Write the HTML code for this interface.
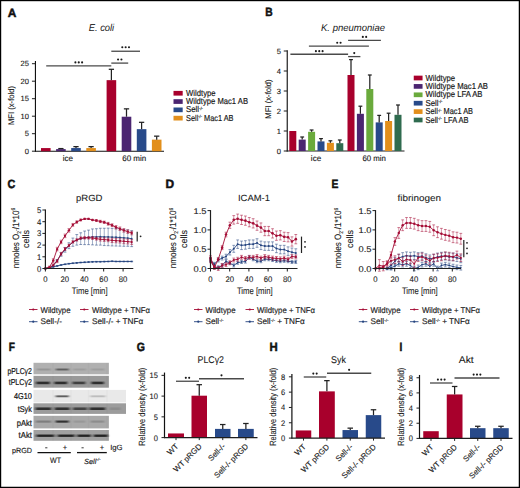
<!DOCTYPE html>
<html><head><meta charset="utf-8"><style>
html,body{margin:0;padding:0;background:#fff;}
body{width:520px;height:488px;overflow:hidden;}
svg{display:block;font-family:"Liberation Sans", sans-serif;}
</style></head><body>
<svg width="520" height="488" viewBox="0 0 520 488" text-rendering="geometricPrecision">
<rect x="0" y="0" width="520" height="488" fill="#fff"/>
<text x="7.80" y="16.80" font-size="12" text-anchor="start" fill="#111" font-weight="bold" stroke="#111" stroke-width="0.5" textLength="8.60" lengthAdjust="spacingAndGlyphs" >A</text>
<text x="88.70" y="30.70" font-size="10" text-anchor="start" fill="#1a1a1a" stroke="#1a1a1a" stroke-width="0.03" font-style="italic" textLength="25.50" lengthAdjust="spacingAndGlyphs" >E. coli</text>
<line x1="35.45" y1="61.00" x2="35.45" y2="151.70" stroke="#111" stroke-width="1.15" />
<line x1="34.95" y1="151.20" x2="164.00" y2="151.20" stroke="#111" stroke-width="1.15" />
<line x1="31.95" y1="151.20" x2="35.45" y2="151.20" stroke="#1e1e1e" stroke-width="1" />
<text x="29.00" y="153.90" font-size="7.6" text-anchor="end" fill="#1a1a1a" stroke="#1a1a1a" stroke-width="0.12" >0</text>
<line x1="31.95" y1="133.70" x2="35.45" y2="133.70" stroke="#1e1e1e" stroke-width="1" />
<text x="29.00" y="136.40" font-size="7.6" text-anchor="end" fill="#1a1a1a" stroke="#1a1a1a" stroke-width="0.12" >5</text>
<line x1="31.95" y1="116.20" x2="35.45" y2="116.20" stroke="#1e1e1e" stroke-width="1" />
<text x="29.00" y="118.90" font-size="7.6" text-anchor="end" fill="#1a1a1a" stroke="#1a1a1a" stroke-width="0.12" >10</text>
<line x1="31.95" y1="98.70" x2="35.45" y2="98.70" stroke="#1e1e1e" stroke-width="1" />
<text x="29.00" y="101.40" font-size="7.6" text-anchor="end" fill="#1a1a1a" stroke="#1a1a1a" stroke-width="0.12" >15</text>
<line x1="31.95" y1="81.20" x2="35.45" y2="81.20" stroke="#1e1e1e" stroke-width="1" />
<text x="29.00" y="83.90" font-size="7.6" text-anchor="end" fill="#1a1a1a" stroke="#1a1a1a" stroke-width="0.12" >20</text>
<line x1="31.95" y1="63.70" x2="35.45" y2="63.70" stroke="#1e1e1e" stroke-width="1" />
<text x="29.00" y="66.40" font-size="7.6" text-anchor="end" fill="#1a1a1a" stroke="#1a1a1a" stroke-width="0.12" >25</text>
<text x="13.80" y="105.50" font-size="8.2" text-anchor="middle" fill="#1a1a1a" stroke="#1a1a1a" stroke-width="0.15" textLength="39.00" lengthAdjust="spacingAndGlyphs" transform="rotate(-90 13.80 105.50)" >MFI (x-fold)</text>
<rect x="41.00" y="148.08" width="9.60" height="3.12" fill="#a8002c" />
<rect x="56.10" y="149.10" width="9.60" height="2.10" fill="#4b2571" />
<line x1="60.90" y1="149.10" x2="60.90" y2="148.57" stroke="#222" stroke-width="1.25" />
<line x1="58.26" y1="148.57" x2="63.54" y2="148.57" stroke="#222" stroke-width="1.25" />
<rect x="71.20" y="148.05" width="9.60" height="3.15" fill="#284a8a" />
<line x1="76.00" y1="148.05" x2="76.00" y2="146.65" stroke="#222" stroke-width="1.25" />
<line x1="73.36" y1="146.65" x2="78.64" y2="146.65" stroke="#222" stroke-width="1.25" />
<rect x="86.30" y="148.05" width="9.60" height="3.15" fill="#e28f1c" />
<line x1="91.10" y1="148.05" x2="91.10" y2="146.65" stroke="#222" stroke-width="1.25" />
<line x1="88.46" y1="146.65" x2="93.74" y2="146.65" stroke="#222" stroke-width="1.25" />
<rect x="106.60" y="80.15" width="9.60" height="71.05" fill="#a8002c" />
<line x1="111.40" y1="80.15" x2="111.40" y2="69.30" stroke="#222" stroke-width="1.25" />
<line x1="108.76" y1="69.30" x2="114.04" y2="69.30" stroke="#222" stroke-width="1.25" />
<rect x="121.70" y="116.72" width="9.60" height="34.47" fill="#4b2571" />
<line x1="126.50" y1="116.72" x2="126.50" y2="108.85" stroke="#222" stroke-width="1.25" />
<line x1="123.86" y1="108.85" x2="129.14" y2="108.85" stroke="#222" stroke-width="1.25" />
<rect x="136.80" y="129.15" width="9.60" height="22.05" fill="#284a8a" />
<line x1="141.60" y1="129.15" x2="141.60" y2="122.32" stroke="#222" stroke-width="1.25" />
<line x1="138.96" y1="122.32" x2="144.24" y2="122.32" stroke="#222" stroke-width="1.25" />
<rect x="151.90" y="139.65" width="9.60" height="11.55" fill="#e28f1c" />
<line x1="156.70" y1="139.65" x2="156.70" y2="136.15" stroke="#222" stroke-width="1.25" />
<line x1="154.06" y1="136.15" x2="159.34" y2="136.15" stroke="#222" stroke-width="1.25" />
<text x="67.80" y="161.00" font-size="8" text-anchor="middle" fill="#1a1a1a" stroke="#1a1a1a" stroke-width="0.15" textLength="10.30" lengthAdjust="spacingAndGlyphs" >ice</text>
<text x="134.20" y="161.00" font-size="8" text-anchor="middle" fill="#1a1a1a" stroke="#1a1a1a" stroke-width="0.15" textLength="24.00" lengthAdjust="spacingAndGlyphs" >60 min</text>
<line x1="46.20" y1="65.80" x2="111.30" y2="65.80" stroke="#4a4a4a" stroke-width="1.3" />
<circle cx="75.40" cy="62.40" r="1.05" fill="#1a1a1a"/>
<circle cx="78.75" cy="62.40" r="1.05" fill="#1a1a1a"/>
<circle cx="82.10" cy="62.40" r="1.05" fill="#1a1a1a"/>
<line x1="111.30" y1="63.10" x2="128.20" y2="63.10" stroke="#4a4a4a" stroke-width="1.3" />
<circle cx="118.08" cy="59.50" r="1.05" fill="#1a1a1a"/>
<circle cx="121.42" cy="59.50" r="1.05" fill="#1a1a1a"/>
<line x1="111.30" y1="51.25" x2="140.00" y2="51.25" stroke="#4a4a4a" stroke-width="1.3" />
<circle cx="122.30" cy="47.25" r="1.05" fill="#1a1a1a"/>
<circle cx="125.65" cy="47.25" r="1.05" fill="#1a1a1a"/>
<circle cx="129.00" cy="47.25" r="1.05" fill="#1a1a1a"/>
<rect x="173.50" y="90.90" width="9.20" height="4.70" fill="#a8002c" />
<text x="186.00" y="95.80" font-size="8.6" text-anchor="start" fill="#1a1a1a" stroke="#1a1a1a" stroke-width="0.18" textLength="29.60" lengthAdjust="spacingAndGlyphs" >Wildtype</text>
<rect x="173.50" y="99.20" width="9.20" height="4.70" fill="#4b2571" />
<text x="186.00" y="104.10" font-size="8.6" text-anchor="start" fill="#1a1a1a" stroke="#1a1a1a" stroke-width="0.18" textLength="62.00" lengthAdjust="spacingAndGlyphs" >Wildtype Mac1 AB</text>
<rect x="173.50" y="107.50" width="9.20" height="4.70" fill="#284a8a" />
<text x="186.00" y="112.40" font-size="8.6" text-anchor="start" fill="#1a1a1a" stroke="#1a1a1a" stroke-width="0.18" textLength="17.00" lengthAdjust="spacingAndGlyphs" >Sell<tspan font-size="4.5" dy="-2.5">-/-</tspan></text>
<rect x="173.50" y="115.80" width="9.20" height="4.70" fill="#e28f1c" />
<text x="186.00" y="120.70" font-size="8.6" text-anchor="start" fill="#1a1a1a" stroke="#1a1a1a" stroke-width="0.18" textLength="47.50" lengthAdjust="spacingAndGlyphs" >Sell<tspan font-size="4.5" dy="-2.5">-/-</tspan><tspan dy="2.5"> Mac1 AB</tspan></text>
<text x="265.30" y="16.30" font-size="12" text-anchor="start" fill="#111" font-weight="bold" stroke="#111" stroke-width="0.5" textLength="7.40" lengthAdjust="spacingAndGlyphs" >B</text>
<text x="321.00" y="30.50" font-size="9.8" text-anchor="start" fill="#1a1a1a" stroke="#1a1a1a" stroke-width="0.03" font-style="italic" textLength="64.00" lengthAdjust="spacingAndGlyphs" >K. pneumoniae</text>
<line x1="287.25" y1="50.20" x2="287.25" y2="151.50" stroke="#1e1e1e" stroke-width="1.2" />
<line x1="286.75" y1="151.00" x2="404.50" y2="151.00" stroke="#1e1e1e" stroke-width="1.2" />
<line x1="283.75" y1="151.00" x2="287.25" y2="151.00" stroke="#1e1e1e" stroke-width="1" />
<text x="281.00" y="153.70" font-size="7.6" text-anchor="end" fill="#1a1a1a" stroke="#1a1a1a" stroke-width="0.12" >0</text>
<line x1="283.75" y1="131.00" x2="287.25" y2="131.00" stroke="#1e1e1e" stroke-width="1" />
<text x="281.00" y="133.70" font-size="7.6" text-anchor="end" fill="#1a1a1a" stroke="#1a1a1a" stroke-width="0.12" >1</text>
<line x1="283.75" y1="111.00" x2="287.25" y2="111.00" stroke="#1e1e1e" stroke-width="1" />
<text x="281.00" y="113.70" font-size="7.6" text-anchor="end" fill="#1a1a1a" stroke="#1a1a1a" stroke-width="0.12" >2</text>
<line x1="283.75" y1="91.00" x2="287.25" y2="91.00" stroke="#1e1e1e" stroke-width="1" />
<text x="281.00" y="93.70" font-size="7.6" text-anchor="end" fill="#1a1a1a" stroke="#1a1a1a" stroke-width="0.12" >3</text>
<line x1="283.75" y1="71.00" x2="287.25" y2="71.00" stroke="#1e1e1e" stroke-width="1" />
<text x="281.00" y="73.70" font-size="7.6" text-anchor="end" fill="#1a1a1a" stroke="#1a1a1a" stroke-width="0.12" >4</text>
<line x1="283.75" y1="51.00" x2="287.25" y2="51.00" stroke="#1e1e1e" stroke-width="1" />
<text x="281.00" y="53.70" font-size="7.6" text-anchor="end" fill="#1a1a1a" stroke="#1a1a1a" stroke-width="0.12" >5</text>
<text x="270.80" y="99.00" font-size="8.2" text-anchor="middle" fill="#1a1a1a" stroke="#1a1a1a" stroke-width="0.15" textLength="39.40" lengthAdjust="spacingAndGlyphs" transform="rotate(-90 270.80 99.00)" >MFI (x-fold)</text>
<rect x="289.30" y="131.00" width="7.00" height="20.00" fill="#a8002c" />
<rect x="298.70" y="139.60" width="7.00" height="11.40" fill="#4b2571" />
<line x1="302.20" y1="139.60" x2="302.20" y2="137.00" stroke="#222" stroke-width="1.25" />
<line x1="300.27" y1="137.00" x2="304.12" y2="137.00" stroke="#222" stroke-width="1.25" />
<rect x="308.10" y="131.80" width="7.00" height="19.20" fill="#6aaa3c" />
<line x1="311.60" y1="131.80" x2="311.60" y2="130.00" stroke="#222" stroke-width="1.25" />
<line x1="309.68" y1="130.00" x2="313.53" y2="130.00" stroke="#222" stroke-width="1.25" />
<rect x="317.50" y="141.40" width="7.00" height="9.60" fill="#284a8a" />
<line x1="321.00" y1="141.40" x2="321.00" y2="138.60" stroke="#222" stroke-width="1.25" />
<line x1="319.07" y1="138.60" x2="322.93" y2="138.60" stroke="#222" stroke-width="1.25" />
<rect x="326.90" y="142.80" width="7.00" height="8.20" fill="#e28f1c" />
<line x1="330.40" y1="142.80" x2="330.40" y2="140.80" stroke="#222" stroke-width="1.25" />
<line x1="328.48" y1="140.80" x2="332.33" y2="140.80" stroke="#222" stroke-width="1.25" />
<rect x="336.30" y="143.20" width="7.00" height="7.80" fill="#2f6b4f" />
<line x1="339.80" y1="143.20" x2="339.80" y2="140.00" stroke="#222" stroke-width="1.25" />
<line x1="337.88" y1="140.00" x2="341.73" y2="140.00" stroke="#222" stroke-width="1.25" />
<rect x="347.50" y="75.00" width="7.00" height="76.00" fill="#a8002c" />
<line x1="351.00" y1="75.00" x2="351.00" y2="59.60" stroke="#222" stroke-width="1.25" />
<line x1="349.07" y1="59.60" x2="352.93" y2="59.60" stroke="#222" stroke-width="1.25" />
<rect x="356.90" y="113.80" width="7.00" height="37.20" fill="#4b2571" />
<line x1="360.40" y1="113.80" x2="360.40" y2="106.20" stroke="#222" stroke-width="1.25" />
<line x1="358.47" y1="106.20" x2="362.32" y2="106.20" stroke="#222" stroke-width="1.25" />
<rect x="366.30" y="89.00" width="7.00" height="62.00" fill="#6aaa3c" />
<line x1="369.80" y1="89.00" x2="369.80" y2="75.00" stroke="#222" stroke-width="1.25" />
<line x1="367.88" y1="75.00" x2="371.73" y2="75.00" stroke="#222" stroke-width="1.25" />
<rect x="375.70" y="122.40" width="7.00" height="28.60" fill="#284a8a" />
<line x1="379.20" y1="122.40" x2="379.20" y2="115.40" stroke="#222" stroke-width="1.25" />
<line x1="377.27" y1="115.40" x2="381.12" y2="115.40" stroke="#222" stroke-width="1.25" />
<rect x="385.10" y="121.00" width="7.00" height="30.00" fill="#e28f1c" />
<line x1="388.60" y1="121.00" x2="388.60" y2="113.20" stroke="#222" stroke-width="1.25" />
<line x1="386.68" y1="113.20" x2="390.53" y2="113.20" stroke="#222" stroke-width="1.25" />
<rect x="394.50" y="114.80" width="7.00" height="36.20" fill="#2f6b4f" />
<line x1="398.00" y1="114.80" x2="398.00" y2="105.00" stroke="#222" stroke-width="1.25" />
<line x1="396.07" y1="105.00" x2="399.93" y2="105.00" stroke="#222" stroke-width="1.25" />
<text x="316.00" y="161.00" font-size="8" text-anchor="middle" fill="#1a1a1a" stroke="#1a1a1a" stroke-width="0.15" textLength="10.30" lengthAdjust="spacingAndGlyphs" >ice</text>
<text x="374.20" y="161.00" font-size="8" text-anchor="middle" fill="#1a1a1a" stroke="#1a1a1a" stroke-width="0.15" textLength="23.50" lengthAdjust="spacingAndGlyphs" >60 min</text>
<line x1="290.40" y1="54.25" x2="348.10" y2="54.25" stroke="#4a4a4a" stroke-width="1.3" />
<circle cx="315.90" cy="51.15" r="1.05" fill="#1a1a1a"/>
<circle cx="319.25" cy="51.15" r="1.05" fill="#1a1a1a"/>
<circle cx="322.60" cy="51.15" r="1.05" fill="#1a1a1a"/>
<line x1="348.10" y1="56.60" x2="360.40" y2="56.60" stroke="#4a4a4a" stroke-width="1.3" />
<circle cx="354.25" cy="53.10" r="1.05" fill="#1a1a1a"/>
<line x1="308.90" y1="46.20" x2="368.90" y2="46.20" stroke="#4a4a4a" stroke-width="1.3" />
<circle cx="337.22" cy="42.70" r="1.05" fill="#1a1a1a"/>
<circle cx="340.57" cy="42.70" r="1.05" fill="#1a1a1a"/>
<line x1="348.10" y1="40.40" x2="380.90" y2="40.40" stroke="#4a4a4a" stroke-width="1.3" />
<circle cx="362.82" cy="36.90" r="1.05" fill="#1a1a1a"/>
<circle cx="366.18" cy="36.90" r="1.05" fill="#1a1a1a"/>
<rect x="413.75" y="75.65" width="8.80" height="4.70" fill="#a8002c" />
<text x="425.50" y="80.55" font-size="8.6" text-anchor="start" fill="#1a1a1a" stroke="#1a1a1a" stroke-width="0.18" textLength="29.60" lengthAdjust="spacingAndGlyphs" >Wildtype</text>
<rect x="413.75" y="84.05" width="8.80" height="4.70" fill="#4b2571" />
<text x="425.50" y="88.95" font-size="8.6" text-anchor="start" fill="#1a1a1a" stroke="#1a1a1a" stroke-width="0.18" textLength="62.50" lengthAdjust="spacingAndGlyphs" >Wildtype Mac1 AB</text>
<rect x="413.75" y="92.45" width="8.80" height="4.70" fill="#6aaa3c" />
<text x="425.50" y="97.35" font-size="8.6" text-anchor="start" fill="#1a1a1a" stroke="#1a1a1a" stroke-width="0.18" textLength="57.00" lengthAdjust="spacingAndGlyphs" >Wildtype LFA AB</text>
<rect x="413.75" y="100.85" width="8.80" height="4.70" fill="#284a8a" />
<text x="425.50" y="105.75" font-size="8.6" text-anchor="start" fill="#1a1a1a" stroke="#1a1a1a" stroke-width="0.18" textLength="17.00" lengthAdjust="spacingAndGlyphs" >Sell<tspan font-size="4.5" dy="-2.5">-/-</tspan></text>
<rect x="413.75" y="109.25" width="8.80" height="4.70" fill="#e28f1c" />
<text x="425.50" y="114.15" font-size="8.6" text-anchor="start" fill="#1a1a1a" stroke="#1a1a1a" stroke-width="0.18" textLength="47.50" lengthAdjust="spacingAndGlyphs" >Sell<tspan font-size="4.5" dy="-2.5">-/-</tspan><tspan dy="2.5"> Mac1 AB</tspan></text>
<rect x="413.75" y="117.65" width="8.80" height="4.70" fill="#2f6b4f" />
<text x="425.50" y="122.55" font-size="8.6" text-anchor="start" fill="#1a1a1a" stroke="#1a1a1a" stroke-width="0.18" textLength="43.00" lengthAdjust="spacingAndGlyphs" >Sell<tspan font-size="4.5" dy="-2.5">-/-</tspan><tspan dy="2.5"> LFA AB</tspan></text>
<text x="7.40" y="187.60" font-size="12" text-anchor="start" fill="#111" font-weight="bold" stroke="#111" stroke-width="0.5" textLength="7.80" lengthAdjust="spacingAndGlyphs" >C</text>
<text x="76.00" y="200.90" font-size="9.0" text-anchor="start" fill="#1a1a1a" stroke="#1a1a1a" stroke-width="0.08" textLength="26.50" lengthAdjust="spacingAndGlyphs" >pRGD</text>
<line x1="53.25" y1="265.22" x2="53.25" y2="265.93" stroke="#24437f" stroke-width="0.8" stroke-opacity="0.55"/>
<line x1="51.85" y1="265.22" x2="54.65" y2="265.22" stroke="#24437f" stroke-width="0.9" stroke-opacity="0.6"/>
<line x1="51.85" y1="265.93" x2="54.65" y2="265.93" stroke="#24437f" stroke-width="0.9" stroke-opacity="0.6"/>
<line x1="57.17" y1="259.61" x2="57.17" y2="261.01" stroke="#24437f" stroke-width="0.8" stroke-opacity="0.55"/>
<line x1="55.77" y1="259.61" x2="58.57" y2="259.61" stroke="#24437f" stroke-width="0.9" stroke-opacity="0.6"/>
<line x1="55.77" y1="261.01" x2="58.57" y2="261.01" stroke="#24437f" stroke-width="0.9" stroke-opacity="0.6"/>
<line x1="61.09" y1="252.71" x2="61.09" y2="256.22" stroke="#24437f" stroke-width="0.8" stroke-opacity="0.55"/>
<line x1="59.69" y1="252.71" x2="62.49" y2="252.71" stroke="#24437f" stroke-width="0.9" stroke-opacity="0.6"/>
<line x1="59.69" y1="256.22" x2="62.49" y2="256.22" stroke="#24437f" stroke-width="0.9" stroke-opacity="0.6"/>
<line x1="65.01" y1="247.44" x2="65.01" y2="252.12" stroke="#24437f" stroke-width="0.8" stroke-opacity="0.55"/>
<line x1="63.61" y1="247.44" x2="66.41" y2="247.44" stroke="#24437f" stroke-width="0.9" stroke-opacity="0.6"/>
<line x1="63.61" y1="252.12" x2="66.41" y2="252.12" stroke="#24437f" stroke-width="0.9" stroke-opacity="0.6"/>
<line x1="68.94" y1="242.76" x2="68.94" y2="248.61" stroke="#24437f" stroke-width="0.8" stroke-opacity="0.55"/>
<line x1="67.54" y1="242.76" x2="70.34" y2="242.76" stroke="#24437f" stroke-width="0.9" stroke-opacity="0.6"/>
<line x1="67.54" y1="248.61" x2="70.34" y2="248.61" stroke="#24437f" stroke-width="0.9" stroke-opacity="0.6"/>
<line x1="72.86" y1="238.08" x2="72.86" y2="246.27" stroke="#24437f" stroke-width="0.8" stroke-opacity="0.55"/>
<line x1="71.46" y1="238.08" x2="74.26" y2="238.08" stroke="#24437f" stroke-width="0.9" stroke-opacity="0.6"/>
<line x1="71.46" y1="246.27" x2="74.26" y2="246.27" stroke="#24437f" stroke-width="0.9" stroke-opacity="0.6"/>
<line x1="76.78" y1="234.57" x2="76.78" y2="245.10" stroke="#24437f" stroke-width="0.8" stroke-opacity="0.55"/>
<line x1="75.38" y1="234.57" x2="78.18" y2="234.57" stroke="#24437f" stroke-width="0.9" stroke-opacity="0.6"/>
<line x1="75.38" y1="245.10" x2="78.18" y2="245.10" stroke="#24437f" stroke-width="0.9" stroke-opacity="0.6"/>
<line x1="80.71" y1="232.81" x2="80.71" y2="244.51" stroke="#24437f" stroke-width="0.8" stroke-opacity="0.55"/>
<line x1="79.31" y1="232.81" x2="82.11" y2="232.81" stroke="#24437f" stroke-width="0.9" stroke-opacity="0.6"/>
<line x1="79.31" y1="244.51" x2="82.11" y2="244.51" stroke="#24437f" stroke-width="0.9" stroke-opacity="0.6"/>
<line x1="84.63" y1="231.06" x2="84.63" y2="244.63" stroke="#24437f" stroke-width="0.8" stroke-opacity="0.55"/>
<line x1="83.23" y1="231.06" x2="86.03" y2="231.06" stroke="#24437f" stroke-width="0.9" stroke-opacity="0.6"/>
<line x1="83.23" y1="244.63" x2="86.03" y2="244.63" stroke="#24437f" stroke-width="0.9" stroke-opacity="0.6"/>
<line x1="88.55" y1="230.12" x2="88.55" y2="244.63" stroke="#24437f" stroke-width="0.8" stroke-opacity="0.55"/>
<line x1="87.15" y1="230.12" x2="89.95" y2="230.12" stroke="#24437f" stroke-width="0.9" stroke-opacity="0.6"/>
<line x1="87.15" y1="244.63" x2="89.95" y2="244.63" stroke="#24437f" stroke-width="0.9" stroke-opacity="0.6"/>
<line x1="92.47" y1="228.95" x2="92.47" y2="244.87" stroke="#24437f" stroke-width="0.8" stroke-opacity="0.55"/>
<line x1="91.07" y1="228.95" x2="93.87" y2="228.95" stroke="#24437f" stroke-width="0.9" stroke-opacity="0.6"/>
<line x1="91.07" y1="244.87" x2="93.87" y2="244.87" stroke="#24437f" stroke-width="0.9" stroke-opacity="0.6"/>
<line x1="96.40" y1="228.72" x2="96.40" y2="245.10" stroke="#24437f" stroke-width="0.8" stroke-opacity="0.55"/>
<line x1="95.00" y1="228.72" x2="97.80" y2="228.72" stroke="#24437f" stroke-width="0.9" stroke-opacity="0.6"/>
<line x1="95.00" y1="245.10" x2="97.80" y2="245.10" stroke="#24437f" stroke-width="0.9" stroke-opacity="0.6"/>
<line x1="100.32" y1="228.25" x2="100.32" y2="245.10" stroke="#24437f" stroke-width="0.8" stroke-opacity="0.55"/>
<line x1="98.92" y1="228.25" x2="101.72" y2="228.25" stroke="#24437f" stroke-width="0.9" stroke-opacity="0.6"/>
<line x1="98.92" y1="245.10" x2="101.72" y2="245.10" stroke="#24437f" stroke-width="0.9" stroke-opacity="0.6"/>
<line x1="104.24" y1="228.25" x2="104.24" y2="245.57" stroke="#24437f" stroke-width="0.8" stroke-opacity="0.55"/>
<line x1="102.84" y1="228.25" x2="105.64" y2="228.25" stroke="#24437f" stroke-width="0.9" stroke-opacity="0.6"/>
<line x1="102.84" y1="245.57" x2="105.64" y2="245.57" stroke="#24437f" stroke-width="0.9" stroke-opacity="0.6"/>
<line x1="108.17" y1="228.13" x2="108.17" y2="245.69" stroke="#24437f" stroke-width="0.8" stroke-opacity="0.55"/>
<line x1="106.77" y1="228.13" x2="109.57" y2="228.13" stroke="#24437f" stroke-width="0.9" stroke-opacity="0.6"/>
<line x1="106.77" y1="245.69" x2="109.57" y2="245.69" stroke="#24437f" stroke-width="0.9" stroke-opacity="0.6"/>
<line x1="112.09" y1="228.37" x2="112.09" y2="245.92" stroke="#24437f" stroke-width="0.8" stroke-opacity="0.55"/>
<line x1="110.69" y1="228.37" x2="113.49" y2="228.37" stroke="#24437f" stroke-width="0.9" stroke-opacity="0.6"/>
<line x1="110.69" y1="245.92" x2="113.49" y2="245.92" stroke="#24437f" stroke-width="0.9" stroke-opacity="0.6"/>
<line x1="116.01" y1="228.49" x2="116.01" y2="246.04" stroke="#24437f" stroke-width="0.8" stroke-opacity="0.55"/>
<line x1="114.61" y1="228.49" x2="117.41" y2="228.49" stroke="#24437f" stroke-width="0.9" stroke-opacity="0.6"/>
<line x1="114.61" y1="246.04" x2="117.41" y2="246.04" stroke="#24437f" stroke-width="0.9" stroke-opacity="0.6"/>
<line x1="119.93" y1="228.84" x2="119.93" y2="246.15" stroke="#24437f" stroke-width="0.8" stroke-opacity="0.55"/>
<line x1="118.53" y1="228.84" x2="121.33" y2="228.84" stroke="#24437f" stroke-width="0.9" stroke-opacity="0.6"/>
<line x1="118.53" y1="246.15" x2="121.33" y2="246.15" stroke="#24437f" stroke-width="0.9" stroke-opacity="0.6"/>
<line x1="123.86" y1="229.42" x2="123.86" y2="246.27" stroke="#24437f" stroke-width="0.8" stroke-opacity="0.55"/>
<line x1="122.46" y1="229.42" x2="125.26" y2="229.42" stroke="#24437f" stroke-width="0.9" stroke-opacity="0.6"/>
<line x1="122.46" y1="246.27" x2="125.26" y2="246.27" stroke="#24437f" stroke-width="0.9" stroke-opacity="0.6"/>
<line x1="127.78" y1="229.89" x2="127.78" y2="246.27" stroke="#24437f" stroke-width="0.8" stroke-opacity="0.55"/>
<line x1="126.38" y1="229.89" x2="129.18" y2="229.89" stroke="#24437f" stroke-width="0.9" stroke-opacity="0.6"/>
<line x1="126.38" y1="246.27" x2="129.18" y2="246.27" stroke="#24437f" stroke-width="0.9" stroke-opacity="0.6"/>
<line x1="131.70" y1="230.71" x2="131.70" y2="246.62" stroke="#24437f" stroke-width="0.8" stroke-opacity="0.55"/>
<line x1="130.30" y1="230.71" x2="133.10" y2="230.71" stroke="#24437f" stroke-width="0.9" stroke-opacity="0.6"/>
<line x1="130.30" y1="246.62" x2="133.10" y2="246.62" stroke="#24437f" stroke-width="0.9" stroke-opacity="0.6"/>
<path d="M45.40,268.50 L49.32,267.92 L53.25,265.57 L57.17,260.31 L61.09,254.46 L65.01,249.78 L68.94,245.69 L72.86,242.18 L76.78,239.84 L80.71,238.66 L84.63,237.85 L88.55,237.38 L92.47,236.91 L96.40,236.91 L100.32,236.68 L104.24,236.91 L108.17,236.91 L112.09,237.14 L116.01,237.26 L119.93,237.50 L123.86,237.85 L127.78,238.08 L131.70,238.66" fill="none" stroke="#24437f" stroke-width="0.9"/>
<circle cx="45.40" cy="268.50" r="0.9" fill="#24437f"/>
<circle cx="49.32" cy="267.92" r="0.9" fill="#24437f"/>
<circle cx="53.25" cy="265.57" r="0.9" fill="#24437f"/>
<circle cx="57.17" cy="260.31" r="0.9" fill="#24437f"/>
<circle cx="61.09" cy="254.46" r="0.9" fill="#24437f"/>
<circle cx="65.01" cy="249.78" r="0.9" fill="#24437f"/>
<circle cx="68.94" cy="245.69" r="0.9" fill="#24437f"/>
<circle cx="72.86" cy="242.18" r="0.9" fill="#24437f"/>
<circle cx="76.78" cy="239.84" r="0.9" fill="#24437f"/>
<circle cx="80.71" cy="238.66" r="0.9" fill="#24437f"/>
<circle cx="84.63" cy="237.85" r="0.9" fill="#24437f"/>
<circle cx="88.55" cy="237.38" r="0.9" fill="#24437f"/>
<circle cx="92.47" cy="236.91" r="0.9" fill="#24437f"/>
<circle cx="96.40" cy="236.91" r="0.9" fill="#24437f"/>
<circle cx="100.32" cy="236.68" r="0.9" fill="#24437f"/>
<circle cx="104.24" cy="236.91" r="0.9" fill="#24437f"/>
<circle cx="108.17" cy="236.91" r="0.9" fill="#24437f"/>
<circle cx="112.09" cy="237.14" r="0.9" fill="#24437f"/>
<circle cx="116.01" cy="237.26" r="0.9" fill="#24437f"/>
<circle cx="119.93" cy="237.50" r="0.9" fill="#24437f"/>
<circle cx="123.86" cy="237.85" r="0.9" fill="#24437f"/>
<circle cx="127.78" cy="238.08" r="0.9" fill="#24437f"/>
<circle cx="131.70" cy="238.66" r="0.9" fill="#24437f"/>
<line x1="45.40" y1="268.15" x2="45.40" y2="268.85" stroke="#24437f" stroke-width="0.8" stroke-opacity="0.55"/>
<line x1="44.00" y1="268.15" x2="46.80" y2="268.15" stroke="#24437f" stroke-width="0.9" stroke-opacity="0.6"/>
<line x1="44.00" y1="268.85" x2="46.80" y2="268.85" stroke="#24437f" stroke-width="0.9" stroke-opacity="0.6"/>
<line x1="49.32" y1="267.45" x2="49.32" y2="268.15" stroke="#24437f" stroke-width="0.8" stroke-opacity="0.55"/>
<line x1="47.92" y1="267.45" x2="50.72" y2="267.45" stroke="#24437f" stroke-width="0.9" stroke-opacity="0.6"/>
<line x1="47.92" y1="268.15" x2="50.72" y2="268.15" stroke="#24437f" stroke-width="0.9" stroke-opacity="0.6"/>
<line x1="53.25" y1="266.51" x2="53.25" y2="267.21" stroke="#24437f" stroke-width="0.8" stroke-opacity="0.55"/>
<line x1="51.85" y1="266.51" x2="54.65" y2="266.51" stroke="#24437f" stroke-width="0.9" stroke-opacity="0.6"/>
<line x1="51.85" y1="267.21" x2="54.65" y2="267.21" stroke="#24437f" stroke-width="0.9" stroke-opacity="0.6"/>
<line x1="57.17" y1="265.57" x2="57.17" y2="266.28" stroke="#24437f" stroke-width="0.8" stroke-opacity="0.55"/>
<line x1="55.77" y1="265.57" x2="58.57" y2="265.57" stroke="#24437f" stroke-width="0.9" stroke-opacity="0.6"/>
<line x1="55.77" y1="266.28" x2="58.57" y2="266.28" stroke="#24437f" stroke-width="0.9" stroke-opacity="0.6"/>
<line x1="61.09" y1="264.64" x2="61.09" y2="265.34" stroke="#24437f" stroke-width="0.8" stroke-opacity="0.55"/>
<line x1="59.69" y1="264.64" x2="62.49" y2="264.64" stroke="#24437f" stroke-width="0.9" stroke-opacity="0.6"/>
<line x1="59.69" y1="265.34" x2="62.49" y2="265.34" stroke="#24437f" stroke-width="0.9" stroke-opacity="0.6"/>
<line x1="65.01" y1="263.94" x2="65.01" y2="264.64" stroke="#24437f" stroke-width="0.8" stroke-opacity="0.55"/>
<line x1="63.61" y1="263.94" x2="66.41" y2="263.94" stroke="#24437f" stroke-width="0.9" stroke-opacity="0.6"/>
<line x1="63.61" y1="264.64" x2="66.41" y2="264.64" stroke="#24437f" stroke-width="0.9" stroke-opacity="0.6"/>
<line x1="68.94" y1="263.35" x2="68.94" y2="264.05" stroke="#24437f" stroke-width="0.8" stroke-opacity="0.55"/>
<line x1="67.54" y1="263.35" x2="70.34" y2="263.35" stroke="#24437f" stroke-width="0.9" stroke-opacity="0.6"/>
<line x1="67.54" y1="264.05" x2="70.34" y2="264.05" stroke="#24437f" stroke-width="0.9" stroke-opacity="0.6"/>
<line x1="72.86" y1="262.88" x2="72.86" y2="263.59" stroke="#24437f" stroke-width="0.8" stroke-opacity="0.55"/>
<line x1="71.46" y1="262.88" x2="74.26" y2="262.88" stroke="#24437f" stroke-width="0.9" stroke-opacity="0.6"/>
<line x1="71.46" y1="263.59" x2="74.26" y2="263.59" stroke="#24437f" stroke-width="0.9" stroke-opacity="0.6"/>
<line x1="76.78" y1="262.53" x2="76.78" y2="263.24" stroke="#24437f" stroke-width="0.8" stroke-opacity="0.55"/>
<line x1="75.38" y1="262.53" x2="78.18" y2="262.53" stroke="#24437f" stroke-width="0.9" stroke-opacity="0.6"/>
<line x1="75.38" y1="263.24" x2="78.18" y2="263.24" stroke="#24437f" stroke-width="0.9" stroke-opacity="0.6"/>
<line x1="80.71" y1="262.18" x2="80.71" y2="262.88" stroke="#24437f" stroke-width="0.8" stroke-opacity="0.55"/>
<line x1="79.31" y1="262.18" x2="82.11" y2="262.18" stroke="#24437f" stroke-width="0.9" stroke-opacity="0.6"/>
<line x1="79.31" y1="262.88" x2="82.11" y2="262.88" stroke="#24437f" stroke-width="0.9" stroke-opacity="0.6"/>
<line x1="84.63" y1="261.95" x2="84.63" y2="262.65" stroke="#24437f" stroke-width="0.8" stroke-opacity="0.55"/>
<line x1="83.23" y1="261.95" x2="86.03" y2="261.95" stroke="#24437f" stroke-width="0.9" stroke-opacity="0.6"/>
<line x1="83.23" y1="262.65" x2="86.03" y2="262.65" stroke="#24437f" stroke-width="0.9" stroke-opacity="0.6"/>
<line x1="88.55" y1="261.71" x2="88.55" y2="262.42" stroke="#24437f" stroke-width="0.8" stroke-opacity="0.55"/>
<line x1="87.15" y1="261.71" x2="89.95" y2="261.71" stroke="#24437f" stroke-width="0.9" stroke-opacity="0.6"/>
<line x1="87.15" y1="262.42" x2="89.95" y2="262.42" stroke="#24437f" stroke-width="0.9" stroke-opacity="0.6"/>
<line x1="92.47" y1="261.48" x2="92.47" y2="262.18" stroke="#24437f" stroke-width="0.8" stroke-opacity="0.55"/>
<line x1="91.07" y1="261.48" x2="93.87" y2="261.48" stroke="#24437f" stroke-width="0.9" stroke-opacity="0.6"/>
<line x1="91.07" y1="262.18" x2="93.87" y2="262.18" stroke="#24437f" stroke-width="0.9" stroke-opacity="0.6"/>
<line x1="96.40" y1="261.36" x2="96.40" y2="262.06" stroke="#24437f" stroke-width="0.8" stroke-opacity="0.55"/>
<line x1="95.00" y1="261.36" x2="97.80" y2="261.36" stroke="#24437f" stroke-width="0.9" stroke-opacity="0.6"/>
<line x1="95.00" y1="262.06" x2="97.80" y2="262.06" stroke="#24437f" stroke-width="0.9" stroke-opacity="0.6"/>
<line x1="100.32" y1="261.36" x2="100.32" y2="262.06" stroke="#24437f" stroke-width="0.8" stroke-opacity="0.55"/>
<line x1="98.92" y1="261.36" x2="101.72" y2="261.36" stroke="#24437f" stroke-width="0.9" stroke-opacity="0.6"/>
<line x1="98.92" y1="262.06" x2="101.72" y2="262.06" stroke="#24437f" stroke-width="0.9" stroke-opacity="0.6"/>
<line x1="104.24" y1="261.25" x2="104.24" y2="261.95" stroke="#24437f" stroke-width="0.8" stroke-opacity="0.55"/>
<line x1="102.84" y1="261.25" x2="105.64" y2="261.25" stroke="#24437f" stroke-width="0.9" stroke-opacity="0.6"/>
<line x1="102.84" y1="261.95" x2="105.64" y2="261.95" stroke="#24437f" stroke-width="0.9" stroke-opacity="0.6"/>
<line x1="108.17" y1="261.13" x2="108.17" y2="261.83" stroke="#24437f" stroke-width="0.8" stroke-opacity="0.55"/>
<line x1="106.77" y1="261.13" x2="109.57" y2="261.13" stroke="#24437f" stroke-width="0.9" stroke-opacity="0.6"/>
<line x1="106.77" y1="261.83" x2="109.57" y2="261.83" stroke="#24437f" stroke-width="0.9" stroke-opacity="0.6"/>
<line x1="112.09" y1="260.89" x2="112.09" y2="261.60" stroke="#24437f" stroke-width="0.8" stroke-opacity="0.55"/>
<line x1="110.69" y1="260.89" x2="113.49" y2="260.89" stroke="#24437f" stroke-width="0.9" stroke-opacity="0.6"/>
<line x1="110.69" y1="261.60" x2="113.49" y2="261.60" stroke="#24437f" stroke-width="0.9" stroke-opacity="0.6"/>
<line x1="116.01" y1="261.13" x2="116.01" y2="261.83" stroke="#24437f" stroke-width="0.8" stroke-opacity="0.55"/>
<line x1="114.61" y1="261.13" x2="117.41" y2="261.13" stroke="#24437f" stroke-width="0.9" stroke-opacity="0.6"/>
<line x1="114.61" y1="261.83" x2="117.41" y2="261.83" stroke="#24437f" stroke-width="0.9" stroke-opacity="0.6"/>
<line x1="119.93" y1="261.13" x2="119.93" y2="261.83" stroke="#24437f" stroke-width="0.8" stroke-opacity="0.55"/>
<line x1="118.53" y1="261.13" x2="121.33" y2="261.13" stroke="#24437f" stroke-width="0.9" stroke-opacity="0.6"/>
<line x1="118.53" y1="261.83" x2="121.33" y2="261.83" stroke="#24437f" stroke-width="0.9" stroke-opacity="0.6"/>
<line x1="123.86" y1="261.13" x2="123.86" y2="261.83" stroke="#24437f" stroke-width="0.8" stroke-opacity="0.55"/>
<line x1="122.46" y1="261.13" x2="125.26" y2="261.13" stroke="#24437f" stroke-width="0.9" stroke-opacity="0.6"/>
<line x1="122.46" y1="261.83" x2="125.26" y2="261.83" stroke="#24437f" stroke-width="0.9" stroke-opacity="0.6"/>
<line x1="127.78" y1="261.13" x2="127.78" y2="261.83" stroke="#24437f" stroke-width="0.8" stroke-opacity="0.55"/>
<line x1="126.38" y1="261.13" x2="129.18" y2="261.13" stroke="#24437f" stroke-width="0.9" stroke-opacity="0.6"/>
<line x1="126.38" y1="261.83" x2="129.18" y2="261.83" stroke="#24437f" stroke-width="0.9" stroke-opacity="0.6"/>
<line x1="131.70" y1="261.13" x2="131.70" y2="261.83" stroke="#24437f" stroke-width="0.8" stroke-opacity="0.55"/>
<line x1="130.30" y1="261.13" x2="133.10" y2="261.13" stroke="#24437f" stroke-width="0.9" stroke-opacity="0.6"/>
<line x1="130.30" y1="261.83" x2="133.10" y2="261.83" stroke="#24437f" stroke-width="0.9" stroke-opacity="0.6"/>
<path d="M45.40,268.50 L49.32,267.80 L53.25,266.86 L57.17,265.93 L61.09,264.99 L65.01,264.29 L68.94,263.70 L72.86,263.24 L76.78,262.88 L80.71,262.53 L84.63,262.30 L88.55,262.06 L92.47,261.83 L96.40,261.71 L100.32,261.71 L104.24,261.60 L108.17,261.48 L112.09,261.25 L116.01,261.48 L119.93,261.48 L123.86,261.48 L127.78,261.48 L131.70,261.48" fill="none" stroke="#24437f" stroke-width="0.9"/>
<circle cx="45.40" cy="268.50" r="0.8" fill="#24437f"/>
<circle cx="49.32" cy="267.80" r="0.8" fill="#24437f"/>
<circle cx="53.25" cy="266.86" r="0.8" fill="#24437f"/>
<circle cx="57.17" cy="265.93" r="0.8" fill="#24437f"/>
<circle cx="61.09" cy="264.99" r="0.8" fill="#24437f"/>
<circle cx="65.01" cy="264.29" r="0.8" fill="#24437f"/>
<circle cx="68.94" cy="263.70" r="0.8" fill="#24437f"/>
<circle cx="72.86" cy="263.24" r="0.8" fill="#24437f"/>
<circle cx="76.78" cy="262.88" r="0.8" fill="#24437f"/>
<circle cx="80.71" cy="262.53" r="0.8" fill="#24437f"/>
<circle cx="84.63" cy="262.30" r="0.8" fill="#24437f"/>
<circle cx="88.55" cy="262.06" r="0.8" fill="#24437f"/>
<circle cx="92.47" cy="261.83" r="0.8" fill="#24437f"/>
<circle cx="96.40" cy="261.71" r="0.8" fill="#24437f"/>
<circle cx="100.32" cy="261.71" r="0.8" fill="#24437f"/>
<circle cx="104.24" cy="261.60" r="0.8" fill="#24437f"/>
<circle cx="108.17" cy="261.48" r="0.8" fill="#24437f"/>
<circle cx="112.09" cy="261.25" r="0.8" fill="#24437f"/>
<circle cx="116.01" cy="261.48" r="0.8" fill="#24437f"/>
<circle cx="119.93" cy="261.48" r="0.8" fill="#24437f"/>
<circle cx="123.86" cy="261.48" r="0.8" fill="#24437f"/>
<circle cx="127.78" cy="261.48" r="0.8" fill="#24437f"/>
<circle cx="131.70" cy="261.48" r="0.8" fill="#24437f"/>
<line x1="49.32" y1="267.33" x2="49.32" y2="268.50" stroke="#a50d36" stroke-width="0.8" stroke-opacity="0.55"/>
<line x1="47.92" y1="267.33" x2="50.72" y2="267.33" stroke="#a50d36" stroke-width="0.9" stroke-opacity="0.6"/>
<line x1="47.92" y1="268.50" x2="50.72" y2="268.50" stroke="#a50d36" stroke-width="0.9" stroke-opacity="0.6"/>
<line x1="53.25" y1="263.82" x2="53.25" y2="266.16" stroke="#a50d36" stroke-width="0.8" stroke-opacity="0.55"/>
<line x1="51.85" y1="263.82" x2="54.65" y2="263.82" stroke="#a50d36" stroke-width="0.9" stroke-opacity="0.6"/>
<line x1="51.85" y1="266.16" x2="54.65" y2="266.16" stroke="#a50d36" stroke-width="0.9" stroke-opacity="0.6"/>
<line x1="57.17" y1="259.84" x2="57.17" y2="262.65" stroke="#a50d36" stroke-width="0.8" stroke-opacity="0.55"/>
<line x1="55.77" y1="259.84" x2="58.57" y2="259.84" stroke="#a50d36" stroke-width="0.9" stroke-opacity="0.6"/>
<line x1="55.77" y1="262.65" x2="58.57" y2="262.65" stroke="#a50d36" stroke-width="0.9" stroke-opacity="0.6"/>
<line x1="61.09" y1="252.35" x2="61.09" y2="255.16" stroke="#a50d36" stroke-width="0.8" stroke-opacity="0.55"/>
<line x1="59.69" y1="252.35" x2="62.49" y2="252.35" stroke="#a50d36" stroke-width="0.9" stroke-opacity="0.6"/>
<line x1="59.69" y1="255.16" x2="62.49" y2="255.16" stroke="#a50d36" stroke-width="0.9" stroke-opacity="0.6"/>
<line x1="65.01" y1="247.56" x2="65.01" y2="250.37" stroke="#a50d36" stroke-width="0.8" stroke-opacity="0.55"/>
<line x1="63.61" y1="247.56" x2="66.41" y2="247.56" stroke="#a50d36" stroke-width="0.9" stroke-opacity="0.6"/>
<line x1="63.61" y1="250.37" x2="66.41" y2="250.37" stroke="#a50d36" stroke-width="0.9" stroke-opacity="0.6"/>
<line x1="68.94" y1="244.28" x2="68.94" y2="246.62" stroke="#a50d36" stroke-width="0.8" stroke-opacity="0.55"/>
<line x1="67.54" y1="244.28" x2="70.34" y2="244.28" stroke="#a50d36" stroke-width="0.9" stroke-opacity="0.6"/>
<line x1="67.54" y1="246.62" x2="70.34" y2="246.62" stroke="#a50d36" stroke-width="0.9" stroke-opacity="0.6"/>
<line x1="72.86" y1="240.77" x2="72.86" y2="243.11" stroke="#a50d36" stroke-width="0.8" stroke-opacity="0.55"/>
<line x1="71.46" y1="240.77" x2="74.26" y2="240.77" stroke="#a50d36" stroke-width="0.9" stroke-opacity="0.6"/>
<line x1="71.46" y1="243.11" x2="74.26" y2="243.11" stroke="#a50d36" stroke-width="0.9" stroke-opacity="0.6"/>
<line x1="76.78" y1="238.78" x2="76.78" y2="241.12" stroke="#a50d36" stroke-width="0.8" stroke-opacity="0.55"/>
<line x1="75.38" y1="238.78" x2="78.18" y2="238.78" stroke="#a50d36" stroke-width="0.9" stroke-opacity="0.6"/>
<line x1="75.38" y1="241.12" x2="78.18" y2="241.12" stroke="#a50d36" stroke-width="0.9" stroke-opacity="0.6"/>
<line x1="80.71" y1="236.91" x2="80.71" y2="239.25" stroke="#a50d36" stroke-width="0.8" stroke-opacity="0.55"/>
<line x1="79.31" y1="236.91" x2="82.11" y2="236.91" stroke="#a50d36" stroke-width="0.9" stroke-opacity="0.6"/>
<line x1="79.31" y1="239.25" x2="82.11" y2="239.25" stroke="#a50d36" stroke-width="0.9" stroke-opacity="0.6"/>
<line x1="84.63" y1="236.68" x2="84.63" y2="239.02" stroke="#a50d36" stroke-width="0.8" stroke-opacity="0.55"/>
<line x1="83.23" y1="236.68" x2="86.03" y2="236.68" stroke="#a50d36" stroke-width="0.9" stroke-opacity="0.6"/>
<line x1="83.23" y1="239.02" x2="86.03" y2="239.02" stroke="#a50d36" stroke-width="0.9" stroke-opacity="0.6"/>
<line x1="88.55" y1="236.68" x2="88.55" y2="239.02" stroke="#a50d36" stroke-width="0.8" stroke-opacity="0.55"/>
<line x1="87.15" y1="236.68" x2="89.95" y2="236.68" stroke="#a50d36" stroke-width="0.9" stroke-opacity="0.6"/>
<line x1="87.15" y1="239.02" x2="89.95" y2="239.02" stroke="#a50d36" stroke-width="0.9" stroke-opacity="0.6"/>
<line x1="92.47" y1="236.68" x2="92.47" y2="239.48" stroke="#a50d36" stroke-width="0.8" stroke-opacity="0.55"/>
<line x1="91.07" y1="236.68" x2="93.87" y2="236.68" stroke="#a50d36" stroke-width="0.9" stroke-opacity="0.6"/>
<line x1="91.07" y1="239.48" x2="93.87" y2="239.48" stroke="#a50d36" stroke-width="0.9" stroke-opacity="0.6"/>
<line x1="96.40" y1="237.26" x2="96.40" y2="240.07" stroke="#a50d36" stroke-width="0.8" stroke-opacity="0.55"/>
<line x1="95.00" y1="237.26" x2="97.80" y2="237.26" stroke="#a50d36" stroke-width="0.9" stroke-opacity="0.6"/>
<line x1="95.00" y1="240.07" x2="97.80" y2="240.07" stroke="#a50d36" stroke-width="0.9" stroke-opacity="0.6"/>
<line x1="100.32" y1="237.50" x2="100.32" y2="241.00" stroke="#a50d36" stroke-width="0.8" stroke-opacity="0.55"/>
<line x1="98.92" y1="237.50" x2="101.72" y2="237.50" stroke="#a50d36" stroke-width="0.9" stroke-opacity="0.6"/>
<line x1="98.92" y1="241.00" x2="101.72" y2="241.00" stroke="#a50d36" stroke-width="0.9" stroke-opacity="0.6"/>
<line x1="104.24" y1="237.85" x2="104.24" y2="241.36" stroke="#a50d36" stroke-width="0.8" stroke-opacity="0.55"/>
<line x1="102.84" y1="237.85" x2="105.64" y2="237.85" stroke="#a50d36" stroke-width="0.9" stroke-opacity="0.6"/>
<line x1="102.84" y1="241.36" x2="105.64" y2="241.36" stroke="#a50d36" stroke-width="0.9" stroke-opacity="0.6"/>
<line x1="108.17" y1="238.20" x2="108.17" y2="241.71" stroke="#a50d36" stroke-width="0.8" stroke-opacity="0.55"/>
<line x1="106.77" y1="238.20" x2="109.57" y2="238.20" stroke="#a50d36" stroke-width="0.9" stroke-opacity="0.6"/>
<line x1="106.77" y1="241.71" x2="109.57" y2="241.71" stroke="#a50d36" stroke-width="0.9" stroke-opacity="0.6"/>
<line x1="112.09" y1="238.31" x2="112.09" y2="242.53" stroke="#a50d36" stroke-width="0.8" stroke-opacity="0.55"/>
<line x1="110.69" y1="238.31" x2="113.49" y2="238.31" stroke="#a50d36" stroke-width="0.9" stroke-opacity="0.6"/>
<line x1="110.69" y1="242.53" x2="113.49" y2="242.53" stroke="#a50d36" stroke-width="0.9" stroke-opacity="0.6"/>
<line x1="116.01" y1="238.55" x2="116.01" y2="242.76" stroke="#a50d36" stroke-width="0.8" stroke-opacity="0.55"/>
<line x1="114.61" y1="238.55" x2="117.41" y2="238.55" stroke="#a50d36" stroke-width="0.9" stroke-opacity="0.6"/>
<line x1="114.61" y1="242.76" x2="117.41" y2="242.76" stroke="#a50d36" stroke-width="0.9" stroke-opacity="0.6"/>
<line x1="119.93" y1="238.78" x2="119.93" y2="242.99" stroke="#a50d36" stroke-width="0.8" stroke-opacity="0.55"/>
<line x1="118.53" y1="238.78" x2="121.33" y2="238.78" stroke="#a50d36" stroke-width="0.9" stroke-opacity="0.6"/>
<line x1="118.53" y1="242.99" x2="121.33" y2="242.99" stroke="#a50d36" stroke-width="0.9" stroke-opacity="0.6"/>
<line x1="123.86" y1="239.02" x2="123.86" y2="243.70" stroke="#a50d36" stroke-width="0.8" stroke-opacity="0.55"/>
<line x1="122.46" y1="239.02" x2="125.26" y2="239.02" stroke="#a50d36" stroke-width="0.9" stroke-opacity="0.6"/>
<line x1="122.46" y1="243.70" x2="125.26" y2="243.70" stroke="#a50d36" stroke-width="0.9" stroke-opacity="0.6"/>
<line x1="127.78" y1="239.25" x2="127.78" y2="243.93" stroke="#a50d36" stroke-width="0.8" stroke-opacity="0.55"/>
<line x1="126.38" y1="239.25" x2="129.18" y2="239.25" stroke="#a50d36" stroke-width="0.9" stroke-opacity="0.6"/>
<line x1="126.38" y1="243.93" x2="129.18" y2="243.93" stroke="#a50d36" stroke-width="0.9" stroke-opacity="0.6"/>
<line x1="131.70" y1="239.72" x2="131.70" y2="244.40" stroke="#a50d36" stroke-width="0.8" stroke-opacity="0.55"/>
<line x1="130.30" y1="239.72" x2="133.10" y2="239.72" stroke="#a50d36" stroke-width="0.9" stroke-opacity="0.6"/>
<line x1="130.30" y1="244.40" x2="133.10" y2="244.40" stroke="#a50d36" stroke-width="0.9" stroke-opacity="0.6"/>
<path d="M45.40,268.50 L49.32,267.92 L53.25,264.99 L57.17,261.25 L61.09,253.76 L65.01,248.96 L68.94,245.45 L72.86,241.94 L76.78,239.95 L80.71,238.08 L84.63,237.85 L88.55,237.85 L92.47,238.08 L96.40,238.66 L100.32,239.25 L104.24,239.60 L108.17,239.95 L112.09,240.42 L116.01,240.65 L119.93,240.89 L123.86,241.36 L127.78,241.59 L131.70,242.06" fill="none" stroke="#a50d36" stroke-width="0.9"/>
<circle cx="45.40" cy="268.50" r="1.1" fill="#a50d36"/>
<circle cx="49.32" cy="267.92" r="1.1" fill="#a50d36"/>
<circle cx="53.25" cy="264.99" r="1.1" fill="#a50d36"/>
<circle cx="57.17" cy="261.25" r="1.1" fill="#a50d36"/>
<circle cx="61.09" cy="253.76" r="1.1" fill="#a50d36"/>
<circle cx="65.01" cy="248.96" r="1.1" fill="#a50d36"/>
<circle cx="68.94" cy="245.45" r="1.1" fill="#a50d36"/>
<circle cx="72.86" cy="241.94" r="1.1" fill="#a50d36"/>
<circle cx="76.78" cy="239.95" r="1.1" fill="#a50d36"/>
<circle cx="80.71" cy="238.08" r="1.1" fill="#a50d36"/>
<circle cx="84.63" cy="237.85" r="1.1" fill="#a50d36"/>
<circle cx="88.55" cy="237.85" r="1.1" fill="#a50d36"/>
<circle cx="92.47" cy="238.08" r="1.1" fill="#a50d36"/>
<circle cx="96.40" cy="238.66" r="1.1" fill="#a50d36"/>
<circle cx="100.32" cy="239.25" r="1.1" fill="#a50d36"/>
<circle cx="104.24" cy="239.60" r="1.1" fill="#a50d36"/>
<circle cx="108.17" cy="239.95" r="1.1" fill="#a50d36"/>
<circle cx="112.09" cy="240.42" r="1.1" fill="#a50d36"/>
<circle cx="116.01" cy="240.65" r="1.1" fill="#a50d36"/>
<circle cx="119.93" cy="240.89" r="1.1" fill="#a50d36"/>
<circle cx="123.86" cy="241.36" r="1.1" fill="#a50d36"/>
<circle cx="127.78" cy="241.59" r="1.1" fill="#a50d36"/>
<circle cx="131.70" cy="242.06" r="1.1" fill="#a50d36"/>
<line x1="49.32" y1="266.16" x2="49.32" y2="268.50" stroke="#a50d36" stroke-width="0.8" stroke-opacity="0.55"/>
<line x1="47.92" y1="266.16" x2="50.72" y2="266.16" stroke="#a50d36" stroke-width="0.9" stroke-opacity="0.6"/>
<line x1="47.92" y1="268.50" x2="50.72" y2="268.50" stroke="#a50d36" stroke-width="0.9" stroke-opacity="0.6"/>
<line x1="53.25" y1="258.79" x2="53.25" y2="262.30" stroke="#a50d36" stroke-width="0.8" stroke-opacity="0.55"/>
<line x1="51.85" y1="258.79" x2="54.65" y2="258.79" stroke="#a50d36" stroke-width="0.9" stroke-opacity="0.6"/>
<line x1="51.85" y1="262.30" x2="54.65" y2="262.30" stroke="#a50d36" stroke-width="0.9" stroke-opacity="0.6"/>
<line x1="57.17" y1="247.32" x2="57.17" y2="250.83" stroke="#a50d36" stroke-width="0.8" stroke-opacity="0.55"/>
<line x1="55.77" y1="247.32" x2="58.57" y2="247.32" stroke="#a50d36" stroke-width="0.9" stroke-opacity="0.6"/>
<line x1="55.77" y1="250.83" x2="58.57" y2="250.83" stroke="#a50d36" stroke-width="0.9" stroke-opacity="0.6"/>
<line x1="61.09" y1="240.19" x2="61.09" y2="243.70" stroke="#a50d36" stroke-width="0.8" stroke-opacity="0.55"/>
<line x1="59.69" y1="240.19" x2="62.49" y2="240.19" stroke="#a50d36" stroke-width="0.9" stroke-opacity="0.6"/>
<line x1="59.69" y1="243.70" x2="62.49" y2="243.70" stroke="#a50d36" stroke-width="0.9" stroke-opacity="0.6"/>
<line x1="65.01" y1="234.10" x2="65.01" y2="237.61" stroke="#a50d36" stroke-width="0.8" stroke-opacity="0.55"/>
<line x1="63.61" y1="234.10" x2="66.41" y2="234.10" stroke="#a50d36" stroke-width="0.9" stroke-opacity="0.6"/>
<line x1="63.61" y1="237.61" x2="66.41" y2="237.61" stroke="#a50d36" stroke-width="0.9" stroke-opacity="0.6"/>
<line x1="68.94" y1="228.60" x2="68.94" y2="232.11" stroke="#a50d36" stroke-width="0.8" stroke-opacity="0.55"/>
<line x1="67.54" y1="228.60" x2="70.34" y2="228.60" stroke="#a50d36" stroke-width="0.9" stroke-opacity="0.6"/>
<line x1="67.54" y1="232.11" x2="70.34" y2="232.11" stroke="#a50d36" stroke-width="0.9" stroke-opacity="0.6"/>
<line x1="72.86" y1="223.46" x2="72.86" y2="226.26" stroke="#a50d36" stroke-width="0.8" stroke-opacity="0.55"/>
<line x1="71.46" y1="223.46" x2="74.26" y2="223.46" stroke="#a50d36" stroke-width="0.9" stroke-opacity="0.6"/>
<line x1="71.46" y1="226.26" x2="74.26" y2="226.26" stroke="#a50d36" stroke-width="0.9" stroke-opacity="0.6"/>
<line x1="76.78" y1="220.88" x2="76.78" y2="223.22" stroke="#a50d36" stroke-width="0.8" stroke-opacity="0.55"/>
<line x1="75.38" y1="220.88" x2="78.18" y2="220.88" stroke="#a50d36" stroke-width="0.9" stroke-opacity="0.6"/>
<line x1="75.38" y1="223.22" x2="78.18" y2="223.22" stroke="#a50d36" stroke-width="0.9" stroke-opacity="0.6"/>
<line x1="80.71" y1="219.01" x2="80.71" y2="220.88" stroke="#a50d36" stroke-width="0.8" stroke-opacity="0.55"/>
<line x1="79.31" y1="219.01" x2="82.11" y2="219.01" stroke="#a50d36" stroke-width="0.9" stroke-opacity="0.6"/>
<line x1="79.31" y1="220.88" x2="82.11" y2="220.88" stroke="#a50d36" stroke-width="0.9" stroke-opacity="0.6"/>
<line x1="84.63" y1="218.31" x2="84.63" y2="219.48" stroke="#a50d36" stroke-width="0.8" stroke-opacity="0.55"/>
<line x1="83.23" y1="218.31" x2="86.03" y2="218.31" stroke="#a50d36" stroke-width="0.9" stroke-opacity="0.6"/>
<line x1="83.23" y1="219.48" x2="86.03" y2="219.48" stroke="#a50d36" stroke-width="0.9" stroke-opacity="0.6"/>
<line x1="88.55" y1="218.31" x2="88.55" y2="219.48" stroke="#a50d36" stroke-width="0.8" stroke-opacity="0.55"/>
<line x1="87.15" y1="218.31" x2="89.95" y2="218.31" stroke="#a50d36" stroke-width="0.9" stroke-opacity="0.6"/>
<line x1="87.15" y1="219.48" x2="89.95" y2="219.48" stroke="#a50d36" stroke-width="0.9" stroke-opacity="0.6"/>
<line x1="92.47" y1="219.36" x2="92.47" y2="220.53" stroke="#a50d36" stroke-width="0.8" stroke-opacity="0.55"/>
<line x1="91.07" y1="219.36" x2="93.87" y2="219.36" stroke="#a50d36" stroke-width="0.9" stroke-opacity="0.6"/>
<line x1="91.07" y1="220.53" x2="93.87" y2="220.53" stroke="#a50d36" stroke-width="0.9" stroke-opacity="0.6"/>
<line x1="96.40" y1="219.59" x2="96.40" y2="221.47" stroke="#a50d36" stroke-width="0.8" stroke-opacity="0.55"/>
<line x1="95.00" y1="219.59" x2="97.80" y2="219.59" stroke="#a50d36" stroke-width="0.9" stroke-opacity="0.6"/>
<line x1="95.00" y1="221.47" x2="97.80" y2="221.47" stroke="#a50d36" stroke-width="0.9" stroke-opacity="0.6"/>
<line x1="100.32" y1="220.30" x2="100.32" y2="222.64" stroke="#a50d36" stroke-width="0.8" stroke-opacity="0.55"/>
<line x1="98.92" y1="220.30" x2="101.72" y2="220.30" stroke="#a50d36" stroke-width="0.9" stroke-opacity="0.6"/>
<line x1="98.92" y1="222.64" x2="101.72" y2="222.64" stroke="#a50d36" stroke-width="0.9" stroke-opacity="0.6"/>
<line x1="104.24" y1="221.12" x2="104.24" y2="223.45" stroke="#a50d36" stroke-width="0.8" stroke-opacity="0.55"/>
<line x1="102.84" y1="221.12" x2="105.64" y2="221.12" stroke="#a50d36" stroke-width="0.9" stroke-opacity="0.6"/>
<line x1="102.84" y1="223.45" x2="105.64" y2="223.45" stroke="#a50d36" stroke-width="0.9" stroke-opacity="0.6"/>
<line x1="108.17" y1="222.40" x2="108.17" y2="225.21" stroke="#a50d36" stroke-width="0.8" stroke-opacity="0.55"/>
<line x1="106.77" y1="222.40" x2="109.57" y2="222.40" stroke="#a50d36" stroke-width="0.9" stroke-opacity="0.6"/>
<line x1="106.77" y1="225.21" x2="109.57" y2="225.21" stroke="#a50d36" stroke-width="0.9" stroke-opacity="0.6"/>
<line x1="112.09" y1="223.81" x2="112.09" y2="226.61" stroke="#a50d36" stroke-width="0.8" stroke-opacity="0.55"/>
<line x1="110.69" y1="223.81" x2="113.49" y2="223.81" stroke="#a50d36" stroke-width="0.9" stroke-opacity="0.6"/>
<line x1="110.69" y1="226.61" x2="113.49" y2="226.61" stroke="#a50d36" stroke-width="0.9" stroke-opacity="0.6"/>
<line x1="116.01" y1="225.56" x2="116.01" y2="229.07" stroke="#a50d36" stroke-width="0.8" stroke-opacity="0.55"/>
<line x1="114.61" y1="225.56" x2="117.41" y2="225.56" stroke="#a50d36" stroke-width="0.9" stroke-opacity="0.6"/>
<line x1="114.61" y1="229.07" x2="117.41" y2="229.07" stroke="#a50d36" stroke-width="0.9" stroke-opacity="0.6"/>
<line x1="119.93" y1="226.97" x2="119.93" y2="230.47" stroke="#a50d36" stroke-width="0.8" stroke-opacity="0.55"/>
<line x1="118.53" y1="226.97" x2="121.33" y2="226.97" stroke="#a50d36" stroke-width="0.9" stroke-opacity="0.6"/>
<line x1="118.53" y1="230.47" x2="121.33" y2="230.47" stroke="#a50d36" stroke-width="0.9" stroke-opacity="0.6"/>
<line x1="123.86" y1="228.60" x2="123.86" y2="232.11" stroke="#a50d36" stroke-width="0.8" stroke-opacity="0.55"/>
<line x1="122.46" y1="228.60" x2="125.26" y2="228.60" stroke="#a50d36" stroke-width="0.9" stroke-opacity="0.6"/>
<line x1="122.46" y1="232.11" x2="125.26" y2="232.11" stroke="#a50d36" stroke-width="0.9" stroke-opacity="0.6"/>
<line x1="127.78" y1="229.89" x2="127.78" y2="233.40" stroke="#a50d36" stroke-width="0.8" stroke-opacity="0.55"/>
<line x1="126.38" y1="229.89" x2="129.18" y2="229.89" stroke="#a50d36" stroke-width="0.9" stroke-opacity="0.6"/>
<line x1="126.38" y1="233.40" x2="129.18" y2="233.40" stroke="#a50d36" stroke-width="0.9" stroke-opacity="0.6"/>
<line x1="131.70" y1="231.29" x2="131.70" y2="234.80" stroke="#a50d36" stroke-width="0.8" stroke-opacity="0.55"/>
<line x1="130.30" y1="231.29" x2="133.10" y2="231.29" stroke="#a50d36" stroke-width="0.9" stroke-opacity="0.6"/>
<line x1="130.30" y1="234.80" x2="133.10" y2="234.80" stroke="#a50d36" stroke-width="0.9" stroke-opacity="0.6"/>
<path d="M45.40,268.50 L49.32,267.33 L53.25,260.54 L57.17,249.08 L61.09,241.94 L65.01,235.86 L68.94,230.36 L72.86,224.86 L76.78,222.05 L80.71,219.94 L84.63,218.89 L88.55,218.89 L92.47,219.94 L96.40,220.53 L100.32,221.47 L104.24,222.28 L108.17,223.81 L112.09,225.21 L116.01,227.32 L119.93,228.72 L123.86,230.36 L127.78,231.65 L131.70,233.05" fill="none" stroke="#a50d36" stroke-width="0.9"/>
<circle cx="45.40" cy="268.50" r="1.2" fill="#a50d36"/>
<circle cx="49.32" cy="267.33" r="1.2" fill="#a50d36"/>
<circle cx="53.25" cy="260.54" r="1.2" fill="#a50d36"/>
<circle cx="57.17" cy="249.08" r="1.2" fill="#a50d36"/>
<circle cx="61.09" cy="241.94" r="1.2" fill="#a50d36"/>
<circle cx="65.01" cy="235.86" r="1.2" fill="#a50d36"/>
<circle cx="68.94" cy="230.36" r="1.2" fill="#a50d36"/>
<circle cx="72.86" cy="224.86" r="1.2" fill="#a50d36"/>
<circle cx="76.78" cy="222.05" r="1.2" fill="#a50d36"/>
<circle cx="80.71" cy="219.94" r="1.2" fill="#a50d36"/>
<circle cx="84.63" cy="218.89" r="1.2" fill="#a50d36"/>
<circle cx="88.55" cy="218.89" r="1.2" fill="#a50d36"/>
<circle cx="92.47" cy="219.94" r="1.2" fill="#a50d36"/>
<circle cx="96.40" cy="220.53" r="1.2" fill="#a50d36"/>
<circle cx="100.32" cy="221.47" r="1.2" fill="#a50d36"/>
<circle cx="104.24" cy="222.28" r="1.2" fill="#a50d36"/>
<circle cx="108.17" cy="223.81" r="1.2" fill="#a50d36"/>
<circle cx="112.09" cy="225.21" r="1.2" fill="#a50d36"/>
<circle cx="116.01" cy="227.32" r="1.2" fill="#a50d36"/>
<circle cx="119.93" cy="228.72" r="1.2" fill="#a50d36"/>
<circle cx="123.86" cy="230.36" r="1.2" fill="#a50d36"/>
<circle cx="127.78" cy="231.65" r="1.2" fill="#a50d36"/>
<circle cx="131.70" cy="233.05" r="1.2" fill="#a50d36"/>
<line x1="45.40" y1="269.00" x2="45.40" y2="209.50" stroke="#1e1e1e" stroke-width="1.2" />
<line x1="44.90" y1="268.50" x2="133.30" y2="268.50" stroke="#1e1e1e" stroke-width="1.2" />
<line x1="42.40" y1="268.50" x2="45.40" y2="268.50" stroke="#1e1e1e" stroke-width="1" />
<text x="41.40" y="271.50" font-size="8.4" text-anchor="end" fill="#1a1a1a" stroke="#1a1a1a" stroke-width="0.1" textLength="4.30" lengthAdjust="spacingAndGlyphs" >0</text>
<line x1="42.40" y1="256.80" x2="45.40" y2="256.80" stroke="#1e1e1e" stroke-width="1" />
<text x="41.40" y="259.80" font-size="8.4" text-anchor="end" fill="#1a1a1a" stroke="#1a1a1a" stroke-width="0.1" textLength="4.30" lengthAdjust="spacingAndGlyphs" >1</text>
<line x1="42.40" y1="245.10" x2="45.40" y2="245.10" stroke="#1e1e1e" stroke-width="1" />
<text x="41.40" y="248.10" font-size="8.4" text-anchor="end" fill="#1a1a1a" stroke="#1a1a1a" stroke-width="0.1" textLength="4.30" lengthAdjust="spacingAndGlyphs" >2</text>
<line x1="42.40" y1="233.40" x2="45.40" y2="233.40" stroke="#1e1e1e" stroke-width="1" />
<text x="41.40" y="236.40" font-size="8.4" text-anchor="end" fill="#1a1a1a" stroke="#1a1a1a" stroke-width="0.1" textLength="4.30" lengthAdjust="spacingAndGlyphs" >3</text>
<line x1="42.40" y1="221.70" x2="45.40" y2="221.70" stroke="#1e1e1e" stroke-width="1" />
<text x="41.40" y="224.70" font-size="8.4" text-anchor="end" fill="#1a1a1a" stroke="#1a1a1a" stroke-width="0.1" textLength="4.30" lengthAdjust="spacingAndGlyphs" >4</text>
<line x1="42.40" y1="210.00" x2="45.40" y2="210.00" stroke="#1e1e1e" stroke-width="1" />
<text x="41.40" y="213.00" font-size="8.4" text-anchor="end" fill="#1a1a1a" stroke="#1a1a1a" stroke-width="0.1" textLength="4.30" lengthAdjust="spacingAndGlyphs" >5</text>
<line x1="45.40" y1="268.50" x2="45.40" y2="271.50" stroke="#1e1e1e" stroke-width="1" />
<text x="45.40" y="281.70" font-size="8.2" text-anchor="middle" fill="#1a1a1a" stroke="#1a1a1a" stroke-width="0.1" textLength="4.30" lengthAdjust="spacingAndGlyphs" >0</text>
<line x1="64.82" y1="268.50" x2="64.82" y2="271.50" stroke="#1e1e1e" stroke-width="1" />
<text x="64.82" y="281.70" font-size="8.2" text-anchor="middle" fill="#1a1a1a" stroke="#1a1a1a" stroke-width="0.1" textLength="8.60" lengthAdjust="spacingAndGlyphs" >20</text>
<line x1="84.24" y1="268.50" x2="84.24" y2="271.50" stroke="#1e1e1e" stroke-width="1" />
<text x="84.24" y="281.70" font-size="8.2" text-anchor="middle" fill="#1a1a1a" stroke="#1a1a1a" stroke-width="0.1" textLength="8.60" lengthAdjust="spacingAndGlyphs" >40</text>
<line x1="103.66" y1="268.50" x2="103.66" y2="271.50" stroke="#1e1e1e" stroke-width="1" />
<text x="103.66" y="281.70" font-size="8.2" text-anchor="middle" fill="#1a1a1a" stroke="#1a1a1a" stroke-width="0.1" textLength="8.60" lengthAdjust="spacingAndGlyphs" >60</text>
<line x1="123.08" y1="268.50" x2="123.08" y2="271.50" stroke="#1e1e1e" stroke-width="1" />
<text x="123.08" y="281.70" font-size="8.2" text-anchor="middle" fill="#1a1a1a" stroke="#1a1a1a" stroke-width="0.1" textLength="8.60" lengthAdjust="spacingAndGlyphs" >80</text>
<text x="89.70" y="294.30" font-size="9.4" text-anchor="middle" fill="#1a1a1a" stroke="#1a1a1a" stroke-width="0.1" textLength="35.70" lengthAdjust="spacingAndGlyphs" >Time [min]</text>
<text x="18.90" y="238.00" font-size="9.2" text-anchor="middle" fill="#1a1a1a" stroke="#1a1a1a" stroke-width="0.1" textLength="60.50" lengthAdjust="spacingAndGlyphs" transform="rotate(-90 18.90 238.00)" >nmoles O<tspan font-size="5.5" dy="1.8">2</tspan><tspan font-size="5.5" dy="-2.5">-</tspan><tspan dy="0.7">/1*10</tspan><tspan font-size="5.5" dy="-3.5">6</tspan></text>
<text x="29.00" y="239.00" font-size="9.2" text-anchor="middle" fill="#1a1a1a" stroke="#1a1a1a" stroke-width="0.1" textLength="18.00" lengthAdjust="spacingAndGlyphs" transform="rotate(-90 29.00 239.00)" >cells</text>
<line x1="137.20" y1="231.80" x2="137.20" y2="241.40" stroke="#222" stroke-width="1.2" />
<circle cx="140.60" cy="236.30" r="0.9" fill="#222"/>
<text x="165.60" y="187.60" font-size="12" text-anchor="start" fill="#111" font-weight="bold" stroke="#111" stroke-width="0.5" textLength="8.60" lengthAdjust="spacingAndGlyphs" >D</text>
<text x="238.00" y="200.90" font-size="9.0" text-anchor="start" fill="#1a1a1a" stroke="#1a1a1a" stroke-width="0.08" textLength="32.00" lengthAdjust="spacingAndGlyphs" >ICAM-1</text>
<line x1="210.50" y1="258.08" x2="210.50" y2="261.94" stroke="#24437f" stroke-width="0.8" stroke-opacity="0.55"/>
<line x1="209.10" y1="258.08" x2="211.90" y2="258.08" stroke="#24437f" stroke-width="0.9" stroke-opacity="0.6"/>
<line x1="209.10" y1="261.94" x2="211.90" y2="261.94" stroke="#24437f" stroke-width="0.9" stroke-opacity="0.6"/>
<line x1="214.38" y1="262.32" x2="214.38" y2="266.18" stroke="#24437f" stroke-width="0.8" stroke-opacity="0.55"/>
<line x1="212.98" y1="262.32" x2="215.78" y2="262.32" stroke="#24437f" stroke-width="0.9" stroke-opacity="0.6"/>
<line x1="212.98" y1="266.18" x2="215.78" y2="266.18" stroke="#24437f" stroke-width="0.9" stroke-opacity="0.6"/>
<line x1="218.26" y1="258.08" x2="218.26" y2="261.94" stroke="#24437f" stroke-width="0.8" stroke-opacity="0.55"/>
<line x1="216.86" y1="258.08" x2="219.66" y2="258.08" stroke="#24437f" stroke-width="0.9" stroke-opacity="0.6"/>
<line x1="216.86" y1="261.94" x2="219.66" y2="261.94" stroke="#24437f" stroke-width="0.9" stroke-opacity="0.6"/>
<line x1="222.14" y1="256.15" x2="222.14" y2="260.01" stroke="#24437f" stroke-width="0.8" stroke-opacity="0.55"/>
<line x1="220.74" y1="256.15" x2="223.54" y2="256.15" stroke="#24437f" stroke-width="0.9" stroke-opacity="0.6"/>
<line x1="220.74" y1="260.01" x2="223.54" y2="260.01" stroke="#24437f" stroke-width="0.9" stroke-opacity="0.6"/>
<line x1="226.01" y1="254.22" x2="226.01" y2="258.85" stroke="#24437f" stroke-width="0.8" stroke-opacity="0.55"/>
<line x1="224.61" y1="254.22" x2="227.41" y2="254.22" stroke="#24437f" stroke-width="0.9" stroke-opacity="0.6"/>
<line x1="224.61" y1="258.85" x2="227.41" y2="258.85" stroke="#24437f" stroke-width="0.9" stroke-opacity="0.6"/>
<line x1="229.89" y1="249.59" x2="229.89" y2="254.99" stroke="#24437f" stroke-width="0.8" stroke-opacity="0.55"/>
<line x1="228.49" y1="249.59" x2="231.29" y2="249.59" stroke="#24437f" stroke-width="0.9" stroke-opacity="0.6"/>
<line x1="228.49" y1="254.99" x2="231.29" y2="254.99" stroke="#24437f" stroke-width="0.9" stroke-opacity="0.6"/>
<line x1="233.77" y1="245.34" x2="233.77" y2="252.29" stroke="#24437f" stroke-width="0.8" stroke-opacity="0.55"/>
<line x1="232.37" y1="245.34" x2="235.17" y2="245.34" stroke="#24437f" stroke-width="0.9" stroke-opacity="0.6"/>
<line x1="232.37" y1="252.29" x2="235.17" y2="252.29" stroke="#24437f" stroke-width="0.9" stroke-opacity="0.6"/>
<line x1="237.65" y1="239.94" x2="237.65" y2="248.43" stroke="#24437f" stroke-width="0.8" stroke-opacity="0.55"/>
<line x1="236.25" y1="239.94" x2="239.05" y2="239.94" stroke="#24437f" stroke-width="0.9" stroke-opacity="0.6"/>
<line x1="236.25" y1="248.43" x2="239.05" y2="248.43" stroke="#24437f" stroke-width="0.9" stroke-opacity="0.6"/>
<line x1="241.53" y1="241.09" x2="241.53" y2="249.59" stroke="#24437f" stroke-width="0.8" stroke-opacity="0.55"/>
<line x1="240.13" y1="241.09" x2="242.93" y2="241.09" stroke="#24437f" stroke-width="0.9" stroke-opacity="0.6"/>
<line x1="240.13" y1="249.59" x2="242.93" y2="249.59" stroke="#24437f" stroke-width="0.9" stroke-opacity="0.6"/>
<line x1="245.41" y1="240.71" x2="245.41" y2="249.20" stroke="#24437f" stroke-width="0.8" stroke-opacity="0.55"/>
<line x1="244.01" y1="240.71" x2="246.81" y2="240.71" stroke="#24437f" stroke-width="0.9" stroke-opacity="0.6"/>
<line x1="244.01" y1="249.20" x2="246.81" y2="249.20" stroke="#24437f" stroke-width="0.9" stroke-opacity="0.6"/>
<line x1="249.28" y1="239.94" x2="249.28" y2="248.43" stroke="#24437f" stroke-width="0.8" stroke-opacity="0.55"/>
<line x1="247.88" y1="239.94" x2="250.68" y2="239.94" stroke="#24437f" stroke-width="0.9" stroke-opacity="0.6"/>
<line x1="247.88" y1="248.43" x2="250.68" y2="248.43" stroke="#24437f" stroke-width="0.9" stroke-opacity="0.6"/>
<line x1="253.16" y1="239.94" x2="253.16" y2="248.43" stroke="#24437f" stroke-width="0.8" stroke-opacity="0.55"/>
<line x1="251.76" y1="239.94" x2="254.56" y2="239.94" stroke="#24437f" stroke-width="0.9" stroke-opacity="0.6"/>
<line x1="251.76" y1="248.43" x2="254.56" y2="248.43" stroke="#24437f" stroke-width="0.9" stroke-opacity="0.6"/>
<line x1="257.04" y1="238.78" x2="257.04" y2="247.27" stroke="#24437f" stroke-width="0.8" stroke-opacity="0.55"/>
<line x1="255.64" y1="238.78" x2="258.44" y2="238.78" stroke="#24437f" stroke-width="0.9" stroke-opacity="0.6"/>
<line x1="255.64" y1="247.27" x2="258.44" y2="247.27" stroke="#24437f" stroke-width="0.9" stroke-opacity="0.6"/>
<line x1="260.92" y1="241.09" x2="260.92" y2="249.59" stroke="#24437f" stroke-width="0.8" stroke-opacity="0.55"/>
<line x1="259.52" y1="241.09" x2="262.32" y2="241.09" stroke="#24437f" stroke-width="0.9" stroke-opacity="0.6"/>
<line x1="259.52" y1="249.59" x2="262.32" y2="249.59" stroke="#24437f" stroke-width="0.9" stroke-opacity="0.6"/>
<line x1="264.80" y1="241.87" x2="264.80" y2="250.36" stroke="#24437f" stroke-width="0.8" stroke-opacity="0.55"/>
<line x1="263.40" y1="241.87" x2="266.20" y2="241.87" stroke="#24437f" stroke-width="0.9" stroke-opacity="0.6"/>
<line x1="263.40" y1="250.36" x2="266.20" y2="250.36" stroke="#24437f" stroke-width="0.9" stroke-opacity="0.6"/>
<line x1="268.68" y1="241.87" x2="268.68" y2="250.36" stroke="#24437f" stroke-width="0.8" stroke-opacity="0.55"/>
<line x1="267.28" y1="241.87" x2="270.08" y2="241.87" stroke="#24437f" stroke-width="0.9" stroke-opacity="0.6"/>
<line x1="267.28" y1="250.36" x2="270.08" y2="250.36" stroke="#24437f" stroke-width="0.9" stroke-opacity="0.6"/>
<line x1="272.55" y1="241.87" x2="272.55" y2="250.36" stroke="#24437f" stroke-width="0.8" stroke-opacity="0.55"/>
<line x1="271.15" y1="241.87" x2="273.95" y2="241.87" stroke="#24437f" stroke-width="0.9" stroke-opacity="0.6"/>
<line x1="271.15" y1="250.36" x2="273.95" y2="250.36" stroke="#24437f" stroke-width="0.9" stroke-opacity="0.6"/>
<line x1="276.43" y1="244.18" x2="276.43" y2="252.67" stroke="#24437f" stroke-width="0.8" stroke-opacity="0.55"/>
<line x1="275.03" y1="244.18" x2="277.83" y2="244.18" stroke="#24437f" stroke-width="0.9" stroke-opacity="0.6"/>
<line x1="275.03" y1="252.67" x2="277.83" y2="252.67" stroke="#24437f" stroke-width="0.9" stroke-opacity="0.6"/>
<line x1="280.31" y1="245.34" x2="280.31" y2="253.83" stroke="#24437f" stroke-width="0.8" stroke-opacity="0.55"/>
<line x1="278.91" y1="245.34" x2="281.71" y2="245.34" stroke="#24437f" stroke-width="0.9" stroke-opacity="0.6"/>
<line x1="278.91" y1="253.83" x2="281.71" y2="253.83" stroke="#24437f" stroke-width="0.9" stroke-opacity="0.6"/>
<line x1="284.19" y1="245.34" x2="284.19" y2="253.83" stroke="#24437f" stroke-width="0.8" stroke-opacity="0.55"/>
<line x1="282.79" y1="245.34" x2="285.59" y2="245.34" stroke="#24437f" stroke-width="0.9" stroke-opacity="0.6"/>
<line x1="282.79" y1="253.83" x2="285.59" y2="253.83" stroke="#24437f" stroke-width="0.9" stroke-opacity="0.6"/>
<line x1="288.07" y1="246.88" x2="288.07" y2="255.38" stroke="#24437f" stroke-width="0.8" stroke-opacity="0.55"/>
<line x1="286.67" y1="246.88" x2="289.47" y2="246.88" stroke="#24437f" stroke-width="0.9" stroke-opacity="0.6"/>
<line x1="286.67" y1="255.38" x2="289.47" y2="255.38" stroke="#24437f" stroke-width="0.9" stroke-opacity="0.6"/>
<line x1="291.95" y1="248.04" x2="291.95" y2="256.53" stroke="#24437f" stroke-width="0.8" stroke-opacity="0.55"/>
<line x1="290.55" y1="248.04" x2="293.35" y2="248.04" stroke="#24437f" stroke-width="0.9" stroke-opacity="0.6"/>
<line x1="290.55" y1="256.53" x2="293.35" y2="256.53" stroke="#24437f" stroke-width="0.9" stroke-opacity="0.6"/>
<line x1="295.82" y1="248.81" x2="295.82" y2="257.31" stroke="#24437f" stroke-width="0.8" stroke-opacity="0.55"/>
<line x1="294.42" y1="248.81" x2="297.22" y2="248.81" stroke="#24437f" stroke-width="0.9" stroke-opacity="0.6"/>
<line x1="294.42" y1="257.31" x2="297.22" y2="257.31" stroke="#24437f" stroke-width="0.9" stroke-opacity="0.6"/>
<path d="M210.50,260.01 L214.38,264.25 L218.26,260.01 L222.14,258.08 L226.01,256.53 L229.89,252.29 L233.77,248.81 L237.65,244.18 L241.53,245.34 L245.41,244.95 L249.28,244.18 L253.16,244.18 L257.04,243.02 L260.92,245.34 L264.80,246.11 L268.68,246.11 L272.55,246.11 L276.43,248.43 L280.31,249.59 L284.19,249.59 L288.07,251.13 L291.95,252.29 L295.82,253.06" fill="none" stroke="#24437f" stroke-width="0.9"/>
<circle cx="210.50" cy="260.01" r="1.0" fill="#24437f"/>
<circle cx="214.38" cy="264.25" r="1.0" fill="#24437f"/>
<circle cx="218.26" cy="260.01" r="1.0" fill="#24437f"/>
<circle cx="222.14" cy="258.08" r="1.0" fill="#24437f"/>
<circle cx="226.01" cy="256.53" r="1.0" fill="#24437f"/>
<circle cx="229.89" cy="252.29" r="1.0" fill="#24437f"/>
<circle cx="233.77" cy="248.81" r="1.0" fill="#24437f"/>
<circle cx="237.65" cy="244.18" r="1.0" fill="#24437f"/>
<circle cx="241.53" cy="245.34" r="1.0" fill="#24437f"/>
<circle cx="245.41" cy="244.95" r="1.0" fill="#24437f"/>
<circle cx="249.28" cy="244.18" r="1.0" fill="#24437f"/>
<circle cx="253.16" cy="244.18" r="1.0" fill="#24437f"/>
<circle cx="257.04" cy="243.02" r="1.0" fill="#24437f"/>
<circle cx="260.92" cy="245.34" r="1.0" fill="#24437f"/>
<circle cx="264.80" cy="246.11" r="1.0" fill="#24437f"/>
<circle cx="268.68" cy="246.11" r="1.0" fill="#24437f"/>
<circle cx="272.55" cy="246.11" r="1.0" fill="#24437f"/>
<circle cx="276.43" cy="248.43" r="1.0" fill="#24437f"/>
<circle cx="280.31" cy="249.59" r="1.0" fill="#24437f"/>
<circle cx="284.19" cy="249.59" r="1.0" fill="#24437f"/>
<circle cx="288.07" cy="251.13" r="1.0" fill="#24437f"/>
<circle cx="291.95" cy="252.29" r="1.0" fill="#24437f"/>
<circle cx="295.82" cy="253.06" r="1.0" fill="#24437f"/>
<line x1="210.50" y1="258.46" x2="210.50" y2="261.55" stroke="#24437f" stroke-width="0.8" stroke-opacity="0.55"/>
<line x1="209.10" y1="258.46" x2="211.90" y2="258.46" stroke="#24437f" stroke-width="0.9" stroke-opacity="0.6"/>
<line x1="209.10" y1="261.55" x2="211.90" y2="261.55" stroke="#24437f" stroke-width="0.9" stroke-opacity="0.6"/>
<line x1="214.38" y1="265.80" x2="214.38" y2="268.89" stroke="#24437f" stroke-width="0.8" stroke-opacity="0.55"/>
<line x1="212.98" y1="265.80" x2="215.78" y2="265.80" stroke="#24437f" stroke-width="0.9" stroke-opacity="0.6"/>
<line x1="212.98" y1="268.89" x2="215.78" y2="268.89" stroke="#24437f" stroke-width="0.9" stroke-opacity="0.6"/>
<line x1="218.26" y1="265.80" x2="218.26" y2="268.89" stroke="#24437f" stroke-width="0.8" stroke-opacity="0.55"/>
<line x1="216.86" y1="265.80" x2="219.66" y2="265.80" stroke="#24437f" stroke-width="0.9" stroke-opacity="0.6"/>
<line x1="216.86" y1="268.89" x2="219.66" y2="268.89" stroke="#24437f" stroke-width="0.9" stroke-opacity="0.6"/>
<line x1="222.14" y1="263.87" x2="222.14" y2="266.96" stroke="#24437f" stroke-width="0.8" stroke-opacity="0.55"/>
<line x1="220.74" y1="263.87" x2="223.54" y2="263.87" stroke="#24437f" stroke-width="0.9" stroke-opacity="0.6"/>
<line x1="220.74" y1="266.96" x2="223.54" y2="266.96" stroke="#24437f" stroke-width="0.9" stroke-opacity="0.6"/>
<line x1="226.01" y1="259.62" x2="226.01" y2="262.71" stroke="#24437f" stroke-width="0.8" stroke-opacity="0.55"/>
<line x1="224.61" y1="259.62" x2="227.41" y2="259.62" stroke="#24437f" stroke-width="0.9" stroke-opacity="0.6"/>
<line x1="224.61" y1="262.71" x2="227.41" y2="262.71" stroke="#24437f" stroke-width="0.9" stroke-opacity="0.6"/>
<line x1="229.89" y1="261.55" x2="229.89" y2="264.64" stroke="#24437f" stroke-width="0.8" stroke-opacity="0.55"/>
<line x1="228.49" y1="261.55" x2="231.29" y2="261.55" stroke="#24437f" stroke-width="0.9" stroke-opacity="0.6"/>
<line x1="228.49" y1="264.64" x2="231.29" y2="264.64" stroke="#24437f" stroke-width="0.9" stroke-opacity="0.6"/>
<line x1="233.77" y1="263.87" x2="233.77" y2="266.96" stroke="#24437f" stroke-width="0.8" stroke-opacity="0.55"/>
<line x1="232.37" y1="263.87" x2="235.17" y2="263.87" stroke="#24437f" stroke-width="0.9" stroke-opacity="0.6"/>
<line x1="232.37" y1="266.96" x2="235.17" y2="266.96" stroke="#24437f" stroke-width="0.9" stroke-opacity="0.6"/>
<line x1="237.65" y1="261.17" x2="237.65" y2="264.25" stroke="#24437f" stroke-width="0.8" stroke-opacity="0.55"/>
<line x1="236.25" y1="261.17" x2="239.05" y2="261.17" stroke="#24437f" stroke-width="0.9" stroke-opacity="0.6"/>
<line x1="236.25" y1="264.25" x2="239.05" y2="264.25" stroke="#24437f" stroke-width="0.9" stroke-opacity="0.6"/>
<line x1="241.53" y1="260.39" x2="241.53" y2="263.48" stroke="#24437f" stroke-width="0.8" stroke-opacity="0.55"/>
<line x1="240.13" y1="260.39" x2="242.93" y2="260.39" stroke="#24437f" stroke-width="0.9" stroke-opacity="0.6"/>
<line x1="240.13" y1="263.48" x2="242.93" y2="263.48" stroke="#24437f" stroke-width="0.9" stroke-opacity="0.6"/>
<line x1="245.41" y1="260.01" x2="245.41" y2="263.10" stroke="#24437f" stroke-width="0.8" stroke-opacity="0.55"/>
<line x1="244.01" y1="260.01" x2="246.81" y2="260.01" stroke="#24437f" stroke-width="0.9" stroke-opacity="0.6"/>
<line x1="244.01" y1="263.10" x2="246.81" y2="263.10" stroke="#24437f" stroke-width="0.9" stroke-opacity="0.6"/>
<line x1="249.28" y1="255.76" x2="249.28" y2="258.85" stroke="#24437f" stroke-width="0.8" stroke-opacity="0.55"/>
<line x1="247.88" y1="255.76" x2="250.68" y2="255.76" stroke="#24437f" stroke-width="0.9" stroke-opacity="0.6"/>
<line x1="247.88" y1="258.85" x2="250.68" y2="258.85" stroke="#24437f" stroke-width="0.9" stroke-opacity="0.6"/>
<line x1="253.16" y1="257.69" x2="253.16" y2="260.78" stroke="#24437f" stroke-width="0.8" stroke-opacity="0.55"/>
<line x1="251.76" y1="257.69" x2="254.56" y2="257.69" stroke="#24437f" stroke-width="0.9" stroke-opacity="0.6"/>
<line x1="251.76" y1="260.78" x2="254.56" y2="260.78" stroke="#24437f" stroke-width="0.9" stroke-opacity="0.6"/>
<line x1="257.04" y1="259.62" x2="257.04" y2="262.71" stroke="#24437f" stroke-width="0.8" stroke-opacity="0.55"/>
<line x1="255.64" y1="259.62" x2="258.44" y2="259.62" stroke="#24437f" stroke-width="0.9" stroke-opacity="0.6"/>
<line x1="255.64" y1="262.71" x2="258.44" y2="262.71" stroke="#24437f" stroke-width="0.9" stroke-opacity="0.6"/>
<line x1="260.92" y1="259.62" x2="260.92" y2="262.71" stroke="#24437f" stroke-width="0.8" stroke-opacity="0.55"/>
<line x1="259.52" y1="259.62" x2="262.32" y2="259.62" stroke="#24437f" stroke-width="0.9" stroke-opacity="0.6"/>
<line x1="259.52" y1="262.71" x2="262.32" y2="262.71" stroke="#24437f" stroke-width="0.9" stroke-opacity="0.6"/>
<line x1="264.80" y1="257.69" x2="264.80" y2="260.78" stroke="#24437f" stroke-width="0.8" stroke-opacity="0.55"/>
<line x1="263.40" y1="257.69" x2="266.20" y2="257.69" stroke="#24437f" stroke-width="0.9" stroke-opacity="0.6"/>
<line x1="263.40" y1="260.78" x2="266.20" y2="260.78" stroke="#24437f" stroke-width="0.9" stroke-opacity="0.6"/>
<line x1="268.68" y1="257.69" x2="268.68" y2="260.78" stroke="#24437f" stroke-width="0.8" stroke-opacity="0.55"/>
<line x1="267.28" y1="257.69" x2="270.08" y2="257.69" stroke="#24437f" stroke-width="0.9" stroke-opacity="0.6"/>
<line x1="267.28" y1="260.78" x2="270.08" y2="260.78" stroke="#24437f" stroke-width="0.9" stroke-opacity="0.6"/>
<line x1="272.55" y1="258.46" x2="272.55" y2="261.55" stroke="#24437f" stroke-width="0.8" stroke-opacity="0.55"/>
<line x1="271.15" y1="258.46" x2="273.95" y2="258.46" stroke="#24437f" stroke-width="0.9" stroke-opacity="0.6"/>
<line x1="271.15" y1="261.55" x2="273.95" y2="261.55" stroke="#24437f" stroke-width="0.9" stroke-opacity="0.6"/>
<line x1="276.43" y1="259.24" x2="276.43" y2="262.32" stroke="#24437f" stroke-width="0.8" stroke-opacity="0.55"/>
<line x1="275.03" y1="259.24" x2="277.83" y2="259.24" stroke="#24437f" stroke-width="0.9" stroke-opacity="0.6"/>
<line x1="275.03" y1="262.32" x2="277.83" y2="262.32" stroke="#24437f" stroke-width="0.9" stroke-opacity="0.6"/>
<line x1="280.31" y1="259.62" x2="280.31" y2="262.71" stroke="#24437f" stroke-width="0.8" stroke-opacity="0.55"/>
<line x1="278.91" y1="259.62" x2="281.71" y2="259.62" stroke="#24437f" stroke-width="0.9" stroke-opacity="0.6"/>
<line x1="278.91" y1="262.71" x2="281.71" y2="262.71" stroke="#24437f" stroke-width="0.9" stroke-opacity="0.6"/>
<line x1="284.19" y1="259.24" x2="284.19" y2="262.32" stroke="#24437f" stroke-width="0.8" stroke-opacity="0.55"/>
<line x1="282.79" y1="259.24" x2="285.59" y2="259.24" stroke="#24437f" stroke-width="0.9" stroke-opacity="0.6"/>
<line x1="282.79" y1="262.32" x2="285.59" y2="262.32" stroke="#24437f" stroke-width="0.9" stroke-opacity="0.6"/>
<line x1="288.07" y1="259.62" x2="288.07" y2="262.71" stroke="#24437f" stroke-width="0.8" stroke-opacity="0.55"/>
<line x1="286.67" y1="259.62" x2="289.47" y2="259.62" stroke="#24437f" stroke-width="0.9" stroke-opacity="0.6"/>
<line x1="286.67" y1="262.71" x2="289.47" y2="262.71" stroke="#24437f" stroke-width="0.9" stroke-opacity="0.6"/>
<line x1="291.95" y1="260.39" x2="291.95" y2="263.48" stroke="#24437f" stroke-width="0.8" stroke-opacity="0.55"/>
<line x1="290.55" y1="260.39" x2="293.35" y2="260.39" stroke="#24437f" stroke-width="0.9" stroke-opacity="0.6"/>
<line x1="290.55" y1="263.48" x2="293.35" y2="263.48" stroke="#24437f" stroke-width="0.9" stroke-opacity="0.6"/>
<line x1="295.82" y1="260.39" x2="295.82" y2="263.48" stroke="#24437f" stroke-width="0.8" stroke-opacity="0.55"/>
<line x1="294.42" y1="260.39" x2="297.22" y2="260.39" stroke="#24437f" stroke-width="0.9" stroke-opacity="0.6"/>
<line x1="294.42" y1="263.48" x2="297.22" y2="263.48" stroke="#24437f" stroke-width="0.9" stroke-opacity="0.6"/>
<path d="M210.50,260.01 L214.38,267.34 L218.26,267.34 L222.14,265.41 L226.01,261.17 L229.89,263.10 L233.77,265.41 L237.65,262.71 L241.53,261.94 L245.41,261.55 L249.28,257.31 L253.16,259.24 L257.04,261.17 L260.92,261.17 L264.80,259.24 L268.68,259.24 L272.55,260.01 L276.43,260.78 L280.31,261.17 L284.19,260.78 L288.07,261.17 L291.95,261.94 L295.82,261.94" fill="none" stroke="#24437f" stroke-width="0.9"/>
<circle cx="210.50" cy="260.01" r="0.9" fill="#24437f"/>
<circle cx="214.38" cy="267.34" r="0.9" fill="#24437f"/>
<circle cx="218.26" cy="267.34" r="0.9" fill="#24437f"/>
<circle cx="222.14" cy="265.41" r="0.9" fill="#24437f"/>
<circle cx="226.01" cy="261.17" r="0.9" fill="#24437f"/>
<circle cx="229.89" cy="263.10" r="0.9" fill="#24437f"/>
<circle cx="233.77" cy="265.41" r="0.9" fill="#24437f"/>
<circle cx="237.65" cy="262.71" r="0.9" fill="#24437f"/>
<circle cx="241.53" cy="261.94" r="0.9" fill="#24437f"/>
<circle cx="245.41" cy="261.55" r="0.9" fill="#24437f"/>
<circle cx="249.28" cy="257.31" r="0.9" fill="#24437f"/>
<circle cx="253.16" cy="259.24" r="0.9" fill="#24437f"/>
<circle cx="257.04" cy="261.17" r="0.9" fill="#24437f"/>
<circle cx="260.92" cy="261.17" r="0.9" fill="#24437f"/>
<circle cx="264.80" cy="259.24" r="0.9" fill="#24437f"/>
<circle cx="268.68" cy="259.24" r="0.9" fill="#24437f"/>
<circle cx="272.55" cy="260.01" r="0.9" fill="#24437f"/>
<circle cx="276.43" cy="260.78" r="0.9" fill="#24437f"/>
<circle cx="280.31" cy="261.17" r="0.9" fill="#24437f"/>
<circle cx="284.19" cy="260.78" r="0.9" fill="#24437f"/>
<circle cx="288.07" cy="261.17" r="0.9" fill="#24437f"/>
<circle cx="291.95" cy="261.94" r="0.9" fill="#24437f"/>
<circle cx="295.82" cy="261.94" r="0.9" fill="#24437f"/>
<line x1="210.50" y1="258.85" x2="210.50" y2="262.71" stroke="#a50d36" stroke-width="0.8" stroke-opacity="0.55"/>
<line x1="209.10" y1="258.85" x2="211.90" y2="258.85" stroke="#a50d36" stroke-width="0.9" stroke-opacity="0.6"/>
<line x1="209.10" y1="262.71" x2="211.90" y2="262.71" stroke="#a50d36" stroke-width="0.9" stroke-opacity="0.6"/>
<line x1="214.38" y1="265.41" x2="214.38" y2="269.27" stroke="#a50d36" stroke-width="0.8" stroke-opacity="0.55"/>
<line x1="212.98" y1="265.41" x2="215.78" y2="265.41" stroke="#a50d36" stroke-width="0.9" stroke-opacity="0.6"/>
<line x1="212.98" y1="269.27" x2="215.78" y2="269.27" stroke="#a50d36" stroke-width="0.9" stroke-opacity="0.6"/>
<line x1="218.26" y1="266.57" x2="218.26" y2="270.43" stroke="#a50d36" stroke-width="0.8" stroke-opacity="0.55"/>
<line x1="216.86" y1="266.57" x2="219.66" y2="266.57" stroke="#a50d36" stroke-width="0.9" stroke-opacity="0.6"/>
<line x1="216.86" y1="270.43" x2="219.66" y2="270.43" stroke="#a50d36" stroke-width="0.9" stroke-opacity="0.6"/>
<line x1="222.14" y1="263.48" x2="222.14" y2="267.34" stroke="#a50d36" stroke-width="0.8" stroke-opacity="0.55"/>
<line x1="220.74" y1="263.48" x2="223.54" y2="263.48" stroke="#a50d36" stroke-width="0.9" stroke-opacity="0.6"/>
<line x1="220.74" y1="267.34" x2="223.54" y2="267.34" stroke="#a50d36" stroke-width="0.9" stroke-opacity="0.6"/>
<line x1="226.01" y1="262.71" x2="226.01" y2="266.57" stroke="#a50d36" stroke-width="0.8" stroke-opacity="0.55"/>
<line x1="224.61" y1="262.71" x2="227.41" y2="262.71" stroke="#a50d36" stroke-width="0.9" stroke-opacity="0.6"/>
<line x1="224.61" y1="266.57" x2="227.41" y2="266.57" stroke="#a50d36" stroke-width="0.9" stroke-opacity="0.6"/>
<line x1="229.89" y1="260.78" x2="229.89" y2="264.64" stroke="#a50d36" stroke-width="0.8" stroke-opacity="0.55"/>
<line x1="228.49" y1="260.78" x2="231.29" y2="260.78" stroke="#a50d36" stroke-width="0.9" stroke-opacity="0.6"/>
<line x1="228.49" y1="264.64" x2="231.29" y2="264.64" stroke="#a50d36" stroke-width="0.9" stroke-opacity="0.6"/>
<line x1="233.77" y1="258.08" x2="233.77" y2="261.94" stroke="#a50d36" stroke-width="0.8" stroke-opacity="0.55"/>
<line x1="232.37" y1="258.08" x2="235.17" y2="258.08" stroke="#a50d36" stroke-width="0.9" stroke-opacity="0.6"/>
<line x1="232.37" y1="261.94" x2="235.17" y2="261.94" stroke="#a50d36" stroke-width="0.9" stroke-opacity="0.6"/>
<line x1="237.65" y1="257.31" x2="237.65" y2="261.17" stroke="#a50d36" stroke-width="0.8" stroke-opacity="0.55"/>
<line x1="236.25" y1="257.31" x2="239.05" y2="257.31" stroke="#a50d36" stroke-width="0.9" stroke-opacity="0.6"/>
<line x1="236.25" y1="261.17" x2="239.05" y2="261.17" stroke="#a50d36" stroke-width="0.9" stroke-opacity="0.6"/>
<line x1="241.53" y1="255.38" x2="241.53" y2="259.24" stroke="#a50d36" stroke-width="0.8" stroke-opacity="0.55"/>
<line x1="240.13" y1="255.38" x2="242.93" y2="255.38" stroke="#a50d36" stroke-width="0.9" stroke-opacity="0.6"/>
<line x1="240.13" y1="259.24" x2="242.93" y2="259.24" stroke="#a50d36" stroke-width="0.9" stroke-opacity="0.6"/>
<line x1="245.41" y1="256.53" x2="245.41" y2="260.39" stroke="#a50d36" stroke-width="0.8" stroke-opacity="0.55"/>
<line x1="244.01" y1="256.53" x2="246.81" y2="256.53" stroke="#a50d36" stroke-width="0.9" stroke-opacity="0.6"/>
<line x1="244.01" y1="260.39" x2="246.81" y2="260.39" stroke="#a50d36" stroke-width="0.9" stroke-opacity="0.6"/>
<line x1="249.28" y1="255.38" x2="249.28" y2="259.24" stroke="#a50d36" stroke-width="0.8" stroke-opacity="0.55"/>
<line x1="247.88" y1="255.38" x2="250.68" y2="255.38" stroke="#a50d36" stroke-width="0.9" stroke-opacity="0.6"/>
<line x1="247.88" y1="259.24" x2="250.68" y2="259.24" stroke="#a50d36" stroke-width="0.9" stroke-opacity="0.6"/>
<line x1="253.16" y1="255.38" x2="253.16" y2="259.24" stroke="#a50d36" stroke-width="0.8" stroke-opacity="0.55"/>
<line x1="251.76" y1="255.38" x2="254.56" y2="255.38" stroke="#a50d36" stroke-width="0.9" stroke-opacity="0.6"/>
<line x1="251.76" y1="259.24" x2="254.56" y2="259.24" stroke="#a50d36" stroke-width="0.9" stroke-opacity="0.6"/>
<line x1="257.04" y1="254.60" x2="257.04" y2="258.46" stroke="#a50d36" stroke-width="0.8" stroke-opacity="0.55"/>
<line x1="255.64" y1="254.60" x2="258.44" y2="254.60" stroke="#a50d36" stroke-width="0.9" stroke-opacity="0.6"/>
<line x1="255.64" y1="258.46" x2="258.44" y2="258.46" stroke="#a50d36" stroke-width="0.9" stroke-opacity="0.6"/>
<line x1="260.92" y1="256.15" x2="260.92" y2="260.01" stroke="#a50d36" stroke-width="0.8" stroke-opacity="0.55"/>
<line x1="259.52" y1="256.15" x2="262.32" y2="256.15" stroke="#a50d36" stroke-width="0.9" stroke-opacity="0.6"/>
<line x1="259.52" y1="260.01" x2="262.32" y2="260.01" stroke="#a50d36" stroke-width="0.9" stroke-opacity="0.6"/>
<line x1="264.80" y1="254.60" x2="264.80" y2="258.46" stroke="#a50d36" stroke-width="0.8" stroke-opacity="0.55"/>
<line x1="263.40" y1="254.60" x2="266.20" y2="254.60" stroke="#a50d36" stroke-width="0.9" stroke-opacity="0.6"/>
<line x1="263.40" y1="258.46" x2="266.20" y2="258.46" stroke="#a50d36" stroke-width="0.9" stroke-opacity="0.6"/>
<line x1="268.68" y1="255.38" x2="268.68" y2="259.24" stroke="#a50d36" stroke-width="0.8" stroke-opacity="0.55"/>
<line x1="267.28" y1="255.38" x2="270.08" y2="255.38" stroke="#a50d36" stroke-width="0.9" stroke-opacity="0.6"/>
<line x1="267.28" y1="259.24" x2="270.08" y2="259.24" stroke="#a50d36" stroke-width="0.9" stroke-opacity="0.6"/>
<line x1="272.55" y1="256.15" x2="272.55" y2="260.01" stroke="#a50d36" stroke-width="0.8" stroke-opacity="0.55"/>
<line x1="271.15" y1="256.15" x2="273.95" y2="256.15" stroke="#a50d36" stroke-width="0.9" stroke-opacity="0.6"/>
<line x1="271.15" y1="260.01" x2="273.95" y2="260.01" stroke="#a50d36" stroke-width="0.9" stroke-opacity="0.6"/>
<line x1="276.43" y1="256.53" x2="276.43" y2="260.39" stroke="#a50d36" stroke-width="0.8" stroke-opacity="0.55"/>
<line x1="275.03" y1="256.53" x2="277.83" y2="256.53" stroke="#a50d36" stroke-width="0.9" stroke-opacity="0.6"/>
<line x1="275.03" y1="260.39" x2="277.83" y2="260.39" stroke="#a50d36" stroke-width="0.9" stroke-opacity="0.6"/>
<line x1="280.31" y1="256.92" x2="280.31" y2="260.78" stroke="#a50d36" stroke-width="0.8" stroke-opacity="0.55"/>
<line x1="278.91" y1="256.92" x2="281.71" y2="256.92" stroke="#a50d36" stroke-width="0.9" stroke-opacity="0.6"/>
<line x1="278.91" y1="260.78" x2="281.71" y2="260.78" stroke="#a50d36" stroke-width="0.9" stroke-opacity="0.6"/>
<line x1="284.19" y1="256.15" x2="284.19" y2="260.01" stroke="#a50d36" stroke-width="0.8" stroke-opacity="0.55"/>
<line x1="282.79" y1="256.15" x2="285.59" y2="256.15" stroke="#a50d36" stroke-width="0.9" stroke-opacity="0.6"/>
<line x1="282.79" y1="260.01" x2="285.59" y2="260.01" stroke="#a50d36" stroke-width="0.9" stroke-opacity="0.6"/>
<line x1="288.07" y1="257.31" x2="288.07" y2="261.17" stroke="#a50d36" stroke-width="0.8" stroke-opacity="0.55"/>
<line x1="286.67" y1="257.31" x2="289.47" y2="257.31" stroke="#a50d36" stroke-width="0.9" stroke-opacity="0.6"/>
<line x1="286.67" y1="261.17" x2="289.47" y2="261.17" stroke="#a50d36" stroke-width="0.9" stroke-opacity="0.6"/>
<line x1="291.95" y1="254.60" x2="291.95" y2="258.46" stroke="#a50d36" stroke-width="0.8" stroke-opacity="0.55"/>
<line x1="290.55" y1="254.60" x2="293.35" y2="254.60" stroke="#a50d36" stroke-width="0.9" stroke-opacity="0.6"/>
<line x1="290.55" y1="258.46" x2="293.35" y2="258.46" stroke="#a50d36" stroke-width="0.9" stroke-opacity="0.6"/>
<line x1="295.82" y1="254.99" x2="295.82" y2="258.85" stroke="#a50d36" stroke-width="0.8" stroke-opacity="0.55"/>
<line x1="294.42" y1="254.99" x2="297.22" y2="254.99" stroke="#a50d36" stroke-width="0.9" stroke-opacity="0.6"/>
<line x1="294.42" y1="258.85" x2="297.22" y2="258.85" stroke="#a50d36" stroke-width="0.9" stroke-opacity="0.6"/>
<path d="M210.50,260.78 L214.38,267.34 L218.26,268.50 L222.14,265.41 L226.01,264.64 L229.89,262.71 L233.77,260.01 L237.65,259.24 L241.53,257.31 L245.41,258.46 L249.28,257.31 L253.16,257.31 L257.04,256.53 L260.92,258.08 L264.80,256.53 L268.68,257.31 L272.55,258.08 L276.43,258.46 L280.31,258.85 L284.19,258.08 L288.07,259.24 L291.95,256.53 L295.82,256.92" fill="none" stroke="#a50d36" stroke-width="0.9"/>
<circle cx="210.50" cy="260.78" r="1.1" fill="#a50d36"/>
<circle cx="214.38" cy="267.34" r="1.1" fill="#a50d36"/>
<circle cx="218.26" cy="268.50" r="1.1" fill="#a50d36"/>
<circle cx="222.14" cy="265.41" r="1.1" fill="#a50d36"/>
<circle cx="226.01" cy="264.64" r="1.1" fill="#a50d36"/>
<circle cx="229.89" cy="262.71" r="1.1" fill="#a50d36"/>
<circle cx="233.77" cy="260.01" r="1.1" fill="#a50d36"/>
<circle cx="237.65" cy="259.24" r="1.1" fill="#a50d36"/>
<circle cx="241.53" cy="257.31" r="1.1" fill="#a50d36"/>
<circle cx="245.41" cy="258.46" r="1.1" fill="#a50d36"/>
<circle cx="249.28" cy="257.31" r="1.1" fill="#a50d36"/>
<circle cx="253.16" cy="257.31" r="1.1" fill="#a50d36"/>
<circle cx="257.04" cy="256.53" r="1.1" fill="#a50d36"/>
<circle cx="260.92" cy="258.08" r="1.1" fill="#a50d36"/>
<circle cx="264.80" cy="256.53" r="1.1" fill="#a50d36"/>
<circle cx="268.68" cy="257.31" r="1.1" fill="#a50d36"/>
<circle cx="272.55" cy="258.08" r="1.1" fill="#a50d36"/>
<circle cx="276.43" cy="258.46" r="1.1" fill="#a50d36"/>
<circle cx="280.31" cy="258.85" r="1.1" fill="#a50d36"/>
<circle cx="284.19" cy="258.08" r="1.1" fill="#a50d36"/>
<circle cx="288.07" cy="259.24" r="1.1" fill="#a50d36"/>
<circle cx="291.95" cy="256.53" r="1.1" fill="#a50d36"/>
<circle cx="295.82" cy="256.92" r="1.1" fill="#a50d36"/>
<line x1="210.50" y1="255.76" x2="210.50" y2="259.62" stroke="#a50d36" stroke-width="0.8" stroke-opacity="0.55"/>
<line x1="209.10" y1="255.76" x2="211.90" y2="255.76" stroke="#a50d36" stroke-width="0.9" stroke-opacity="0.6"/>
<line x1="209.10" y1="259.62" x2="211.90" y2="259.62" stroke="#a50d36" stroke-width="0.9" stroke-opacity="0.6"/>
<line x1="214.38" y1="265.80" x2="214.38" y2="268.89" stroke="#a50d36" stroke-width="0.8" stroke-opacity="0.55"/>
<line x1="212.98" y1="265.80" x2="215.78" y2="265.80" stroke="#a50d36" stroke-width="0.9" stroke-opacity="0.6"/>
<line x1="212.98" y1="268.89" x2="215.78" y2="268.89" stroke="#a50d36" stroke-width="0.9" stroke-opacity="0.6"/>
<line x1="218.26" y1="257.69" x2="218.26" y2="260.78" stroke="#a50d36" stroke-width="0.8" stroke-opacity="0.55"/>
<line x1="216.86" y1="257.69" x2="219.66" y2="257.69" stroke="#a50d36" stroke-width="0.9" stroke-opacity="0.6"/>
<line x1="216.86" y1="260.78" x2="219.66" y2="260.78" stroke="#a50d36" stroke-width="0.9" stroke-opacity="0.6"/>
<line x1="222.14" y1="245.73" x2="222.14" y2="249.59" stroke="#a50d36" stroke-width="0.8" stroke-opacity="0.55"/>
<line x1="220.74" y1="245.73" x2="223.54" y2="245.73" stroke="#a50d36" stroke-width="0.9" stroke-opacity="0.6"/>
<line x1="220.74" y1="249.59" x2="223.54" y2="249.59" stroke="#a50d36" stroke-width="0.9" stroke-opacity="0.6"/>
<line x1="226.01" y1="232.22" x2="226.01" y2="236.85" stroke="#a50d36" stroke-width="0.8" stroke-opacity="0.55"/>
<line x1="224.61" y1="232.22" x2="227.41" y2="232.22" stroke="#a50d36" stroke-width="0.9" stroke-opacity="0.6"/>
<line x1="224.61" y1="236.85" x2="227.41" y2="236.85" stroke="#a50d36" stroke-width="0.9" stroke-opacity="0.6"/>
<line x1="229.89" y1="222.18" x2="229.89" y2="228.36" stroke="#a50d36" stroke-width="0.8" stroke-opacity="0.55"/>
<line x1="228.49" y1="222.18" x2="231.29" y2="222.18" stroke="#a50d36" stroke-width="0.9" stroke-opacity="0.6"/>
<line x1="228.49" y1="228.36" x2="231.29" y2="228.36" stroke="#a50d36" stroke-width="0.9" stroke-opacity="0.6"/>
<line x1="233.77" y1="215.62" x2="233.77" y2="224.11" stroke="#a50d36" stroke-width="0.8" stroke-opacity="0.55"/>
<line x1="232.37" y1="215.62" x2="235.17" y2="215.62" stroke="#a50d36" stroke-width="0.9" stroke-opacity="0.6"/>
<line x1="232.37" y1="224.11" x2="235.17" y2="224.11" stroke="#a50d36" stroke-width="0.9" stroke-opacity="0.6"/>
<line x1="237.65" y1="214.07" x2="237.65" y2="223.34" stroke="#a50d36" stroke-width="0.8" stroke-opacity="0.55"/>
<line x1="236.25" y1="214.07" x2="239.05" y2="214.07" stroke="#a50d36" stroke-width="0.9" stroke-opacity="0.6"/>
<line x1="236.25" y1="223.34" x2="239.05" y2="223.34" stroke="#a50d36" stroke-width="0.9" stroke-opacity="0.6"/>
<line x1="241.53" y1="215.23" x2="241.53" y2="224.50" stroke="#a50d36" stroke-width="0.8" stroke-opacity="0.55"/>
<line x1="240.13" y1="215.23" x2="242.93" y2="215.23" stroke="#a50d36" stroke-width="0.9" stroke-opacity="0.6"/>
<line x1="240.13" y1="224.50" x2="242.93" y2="224.50" stroke="#a50d36" stroke-width="0.9" stroke-opacity="0.6"/>
<line x1="245.41" y1="216.00" x2="245.41" y2="225.27" stroke="#a50d36" stroke-width="0.8" stroke-opacity="0.55"/>
<line x1="244.01" y1="216.00" x2="246.81" y2="216.00" stroke="#a50d36" stroke-width="0.9" stroke-opacity="0.6"/>
<line x1="244.01" y1="225.27" x2="246.81" y2="225.27" stroke="#a50d36" stroke-width="0.9" stroke-opacity="0.6"/>
<line x1="249.28" y1="217.55" x2="249.28" y2="226.81" stroke="#a50d36" stroke-width="0.8" stroke-opacity="0.55"/>
<line x1="247.88" y1="217.55" x2="250.68" y2="217.55" stroke="#a50d36" stroke-width="0.9" stroke-opacity="0.6"/>
<line x1="247.88" y1="226.81" x2="250.68" y2="226.81" stroke="#a50d36" stroke-width="0.9" stroke-opacity="0.6"/>
<line x1="253.16" y1="218.71" x2="253.16" y2="227.97" stroke="#a50d36" stroke-width="0.8" stroke-opacity="0.55"/>
<line x1="251.76" y1="218.71" x2="254.56" y2="218.71" stroke="#a50d36" stroke-width="0.9" stroke-opacity="0.6"/>
<line x1="251.76" y1="227.97" x2="254.56" y2="227.97" stroke="#a50d36" stroke-width="0.9" stroke-opacity="0.6"/>
<line x1="257.04" y1="221.02" x2="257.04" y2="230.29" stroke="#a50d36" stroke-width="0.8" stroke-opacity="0.55"/>
<line x1="255.64" y1="221.02" x2="258.44" y2="221.02" stroke="#a50d36" stroke-width="0.9" stroke-opacity="0.6"/>
<line x1="255.64" y1="230.29" x2="258.44" y2="230.29" stroke="#a50d36" stroke-width="0.9" stroke-opacity="0.6"/>
<line x1="260.92" y1="222.95" x2="260.92" y2="232.22" stroke="#a50d36" stroke-width="0.8" stroke-opacity="0.55"/>
<line x1="259.52" y1="222.95" x2="262.32" y2="222.95" stroke="#a50d36" stroke-width="0.9" stroke-opacity="0.6"/>
<line x1="259.52" y1="232.22" x2="262.32" y2="232.22" stroke="#a50d36" stroke-width="0.9" stroke-opacity="0.6"/>
<line x1="264.80" y1="226.43" x2="264.80" y2="235.69" stroke="#a50d36" stroke-width="0.8" stroke-opacity="0.55"/>
<line x1="263.40" y1="226.43" x2="266.20" y2="226.43" stroke="#a50d36" stroke-width="0.9" stroke-opacity="0.6"/>
<line x1="263.40" y1="235.69" x2="266.20" y2="235.69" stroke="#a50d36" stroke-width="0.9" stroke-opacity="0.6"/>
<line x1="268.68" y1="226.43" x2="268.68" y2="235.69" stroke="#a50d36" stroke-width="0.8" stroke-opacity="0.55"/>
<line x1="267.28" y1="226.43" x2="270.08" y2="226.43" stroke="#a50d36" stroke-width="0.9" stroke-opacity="0.6"/>
<line x1="267.28" y1="235.69" x2="270.08" y2="235.69" stroke="#a50d36" stroke-width="0.9" stroke-opacity="0.6"/>
<line x1="272.55" y1="228.74" x2="272.55" y2="238.01" stroke="#a50d36" stroke-width="0.8" stroke-opacity="0.55"/>
<line x1="271.15" y1="228.74" x2="273.95" y2="228.74" stroke="#a50d36" stroke-width="0.9" stroke-opacity="0.6"/>
<line x1="271.15" y1="238.01" x2="273.95" y2="238.01" stroke="#a50d36" stroke-width="0.9" stroke-opacity="0.6"/>
<line x1="276.43" y1="231.06" x2="276.43" y2="240.32" stroke="#a50d36" stroke-width="0.8" stroke-opacity="0.55"/>
<line x1="275.03" y1="231.06" x2="277.83" y2="231.06" stroke="#a50d36" stroke-width="0.9" stroke-opacity="0.6"/>
<line x1="275.03" y1="240.32" x2="277.83" y2="240.32" stroke="#a50d36" stroke-width="0.9" stroke-opacity="0.6"/>
<line x1="280.31" y1="230.67" x2="280.31" y2="239.94" stroke="#a50d36" stroke-width="0.8" stroke-opacity="0.55"/>
<line x1="278.91" y1="230.67" x2="281.71" y2="230.67" stroke="#a50d36" stroke-width="0.9" stroke-opacity="0.6"/>
<line x1="278.91" y1="239.94" x2="281.71" y2="239.94" stroke="#a50d36" stroke-width="0.9" stroke-opacity="0.6"/>
<line x1="284.19" y1="232.22" x2="284.19" y2="241.48" stroke="#a50d36" stroke-width="0.8" stroke-opacity="0.55"/>
<line x1="282.79" y1="232.22" x2="285.59" y2="232.22" stroke="#a50d36" stroke-width="0.9" stroke-opacity="0.6"/>
<line x1="282.79" y1="241.48" x2="285.59" y2="241.48" stroke="#a50d36" stroke-width="0.9" stroke-opacity="0.6"/>
<line x1="288.07" y1="232.60" x2="288.07" y2="241.87" stroke="#a50d36" stroke-width="0.8" stroke-opacity="0.55"/>
<line x1="286.67" y1="232.60" x2="289.47" y2="232.60" stroke="#a50d36" stroke-width="0.9" stroke-opacity="0.6"/>
<line x1="286.67" y1="241.87" x2="289.47" y2="241.87" stroke="#a50d36" stroke-width="0.9" stroke-opacity="0.6"/>
<line x1="291.95" y1="236.85" x2="291.95" y2="246.11" stroke="#a50d36" stroke-width="0.8" stroke-opacity="0.55"/>
<line x1="290.55" y1="236.85" x2="293.35" y2="236.85" stroke="#a50d36" stroke-width="0.9" stroke-opacity="0.6"/>
<line x1="290.55" y1="246.11" x2="293.35" y2="246.11" stroke="#a50d36" stroke-width="0.9" stroke-opacity="0.6"/>
<line x1="295.82" y1="234.53" x2="295.82" y2="243.80" stroke="#a50d36" stroke-width="0.8" stroke-opacity="0.55"/>
<line x1="294.42" y1="234.53" x2="297.22" y2="234.53" stroke="#a50d36" stroke-width="0.9" stroke-opacity="0.6"/>
<line x1="294.42" y1="243.80" x2="297.22" y2="243.80" stroke="#a50d36" stroke-width="0.9" stroke-opacity="0.6"/>
<path d="M210.50,257.69 L214.38,267.34 L218.26,259.24 L222.14,247.66 L226.01,234.53 L229.89,225.27 L233.77,219.86 L237.65,218.71 L241.53,219.86 L245.41,220.64 L249.28,222.18 L253.16,223.34 L257.04,225.65 L260.92,227.58 L264.80,231.06 L268.68,231.06 L272.55,233.37 L276.43,235.69 L280.31,235.30 L284.19,236.85 L288.07,237.23 L291.95,241.48 L295.82,239.16" fill="none" stroke="#a50d36" stroke-width="0.9"/>
<circle cx="210.50" cy="257.69" r="1.3" fill="#a50d36"/>
<circle cx="214.38" cy="267.34" r="1.3" fill="#a50d36"/>
<circle cx="218.26" cy="259.24" r="1.3" fill="#a50d36"/>
<circle cx="222.14" cy="247.66" r="1.3" fill="#a50d36"/>
<circle cx="226.01" cy="234.53" r="1.3" fill="#a50d36"/>
<circle cx="229.89" cy="225.27" r="1.3" fill="#a50d36"/>
<circle cx="233.77" cy="219.86" r="1.3" fill="#a50d36"/>
<circle cx="237.65" cy="218.71" r="1.3" fill="#a50d36"/>
<circle cx="241.53" cy="219.86" r="1.3" fill="#a50d36"/>
<circle cx="245.41" cy="220.64" r="1.3" fill="#a50d36"/>
<circle cx="249.28" cy="222.18" r="1.3" fill="#a50d36"/>
<circle cx="253.16" cy="223.34" r="1.3" fill="#a50d36"/>
<circle cx="257.04" cy="225.65" r="1.3" fill="#a50d36"/>
<circle cx="260.92" cy="227.58" r="1.3" fill="#a50d36"/>
<circle cx="264.80" cy="231.06" r="1.3" fill="#a50d36"/>
<circle cx="268.68" cy="231.06" r="1.3" fill="#a50d36"/>
<circle cx="272.55" cy="233.37" r="1.3" fill="#a50d36"/>
<circle cx="276.43" cy="235.69" r="1.3" fill="#a50d36"/>
<circle cx="280.31" cy="235.30" r="1.3" fill="#a50d36"/>
<circle cx="284.19" cy="236.85" r="1.3" fill="#a50d36"/>
<circle cx="288.07" cy="237.23" r="1.3" fill="#a50d36"/>
<circle cx="291.95" cy="241.48" r="1.3" fill="#a50d36"/>
<circle cx="295.82" cy="239.16" r="1.3" fill="#a50d36"/>
<line x1="210.50" y1="269.00" x2="210.50" y2="210.10" stroke="#1e1e1e" stroke-width="1.2" />
<line x1="210.00" y1="268.50" x2="297.50" y2="268.50" stroke="#1e1e1e" stroke-width="1.2" />
<line x1="207.50" y1="268.50" x2="210.50" y2="268.50" stroke="#1e1e1e" stroke-width="1" />
<text x="206.50" y="271.50" font-size="8.4" text-anchor="end" fill="#1a1a1a" stroke="#1a1a1a" stroke-width="0.1" textLength="13.00" lengthAdjust="spacingAndGlyphs" >0.0</text>
<line x1="207.50" y1="249.20" x2="210.50" y2="249.20" stroke="#1e1e1e" stroke-width="1" />
<text x="206.50" y="252.20" font-size="8.4" text-anchor="end" fill="#1a1a1a" stroke="#1a1a1a" stroke-width="0.1" textLength="13.00" lengthAdjust="spacingAndGlyphs" >0.5</text>
<line x1="207.50" y1="229.90" x2="210.50" y2="229.90" stroke="#1e1e1e" stroke-width="1" />
<text x="206.50" y="232.90" font-size="8.4" text-anchor="end" fill="#1a1a1a" stroke="#1a1a1a" stroke-width="0.1" textLength="13.00" lengthAdjust="spacingAndGlyphs" >1.0</text>
<line x1="207.50" y1="210.60" x2="210.50" y2="210.60" stroke="#1e1e1e" stroke-width="1" />
<text x="206.50" y="213.60" font-size="8.4" text-anchor="end" fill="#1a1a1a" stroke="#1a1a1a" stroke-width="0.1" textLength="13.00" lengthAdjust="spacingAndGlyphs" >1.5</text>
<line x1="210.50" y1="268.50" x2="210.50" y2="271.50" stroke="#1e1e1e" stroke-width="1" />
<text x="210.50" y="281.70" font-size="8.2" text-anchor="middle" fill="#1a1a1a" stroke="#1a1a1a" stroke-width="0.1" textLength="4.30" lengthAdjust="spacingAndGlyphs" >0</text>
<line x1="229.70" y1="268.50" x2="229.70" y2="271.50" stroke="#1e1e1e" stroke-width="1" />
<text x="229.70" y="281.70" font-size="8.2" text-anchor="middle" fill="#1a1a1a" stroke="#1a1a1a" stroke-width="0.1" textLength="8.60" lengthAdjust="spacingAndGlyphs" >20</text>
<line x1="248.90" y1="268.50" x2="248.90" y2="271.50" stroke="#1e1e1e" stroke-width="1" />
<text x="248.90" y="281.70" font-size="8.2" text-anchor="middle" fill="#1a1a1a" stroke="#1a1a1a" stroke-width="0.1" textLength="8.60" lengthAdjust="spacingAndGlyphs" >40</text>
<line x1="268.10" y1="268.50" x2="268.10" y2="271.50" stroke="#1e1e1e" stroke-width="1" />
<text x="268.10" y="281.70" font-size="8.2" text-anchor="middle" fill="#1a1a1a" stroke="#1a1a1a" stroke-width="0.1" textLength="8.60" lengthAdjust="spacingAndGlyphs" >60</text>
<line x1="287.30" y1="268.50" x2="287.30" y2="271.50" stroke="#1e1e1e" stroke-width="1" />
<text x="287.30" y="281.70" font-size="8.2" text-anchor="middle" fill="#1a1a1a" stroke="#1a1a1a" stroke-width="0.1" textLength="8.60" lengthAdjust="spacingAndGlyphs" >80</text>
<text x="254.80" y="294.30" font-size="9.4" text-anchor="middle" fill="#1a1a1a" stroke="#1a1a1a" stroke-width="0.1" textLength="35.70" lengthAdjust="spacingAndGlyphs" >Time [min]</text>
<text x="176.10" y="238.00" font-size="9.2" text-anchor="middle" fill="#1a1a1a" stroke="#1a1a1a" stroke-width="0.1" textLength="60.50" lengthAdjust="spacingAndGlyphs" transform="rotate(-90 176.10 238.00)" >nmoles O<tspan font-size="5.5" dy="1.8">2</tspan><tspan font-size="5.5" dy="-2.5">-</tspan><tspan dy="0.7">/1*10</tspan><tspan font-size="5.5" dy="-3.5">6</tspan></text>
<text x="187.40" y="239.00" font-size="9.2" text-anchor="middle" fill="#1a1a1a" stroke="#1a1a1a" stroke-width="0.1" textLength="18.00" lengthAdjust="spacingAndGlyphs" transform="rotate(-90 187.40 239.00)" >cells</text>
<line x1="301.50" y1="236.60" x2="301.50" y2="253.00" stroke="#222" stroke-width="1.2" />
<circle cx="305.00" cy="241.80" r="0.9" fill="#222"/>
<circle cx="305.00" cy="246.90" r="0.9" fill="#222"/>
<text x="331.40" y="187.60" font-size="12" text-anchor="start" fill="#111" font-weight="bold" stroke="#111" stroke-width="0.5" textLength="6.90" lengthAdjust="spacingAndGlyphs" >E</text>
<text x="397.50" y="200.90" font-size="9.0" text-anchor="start" fill="#1a1a1a" stroke="#1a1a1a" stroke-width="0.08" textLength="43.50" lengthAdjust="spacingAndGlyphs" >fibrinogen</text>
<line x1="387.14" y1="267.34" x2="387.14" y2="269.66" stroke="#24437f" stroke-width="0.8" stroke-opacity="0.55"/>
<line x1="385.74" y1="267.34" x2="388.54" y2="267.34" stroke="#24437f" stroke-width="0.9" stroke-opacity="0.6"/>
<line x1="385.74" y1="269.66" x2="388.54" y2="269.66" stroke="#24437f" stroke-width="0.9" stroke-opacity="0.6"/>
<line x1="391.01" y1="261.55" x2="391.01" y2="269.27" stroke="#24437f" stroke-width="0.8" stroke-opacity="0.55"/>
<line x1="389.61" y1="261.55" x2="392.41" y2="261.55" stroke="#24437f" stroke-width="0.9" stroke-opacity="0.6"/>
<line x1="389.61" y1="269.27" x2="392.41" y2="269.27" stroke="#24437f" stroke-width="0.9" stroke-opacity="0.6"/>
<line x1="394.89" y1="257.31" x2="394.89" y2="265.03" stroke="#24437f" stroke-width="0.8" stroke-opacity="0.55"/>
<line x1="393.49" y1="257.31" x2="396.29" y2="257.31" stroke="#24437f" stroke-width="0.9" stroke-opacity="0.6"/>
<line x1="393.49" y1="265.03" x2="396.29" y2="265.03" stroke="#24437f" stroke-width="0.9" stroke-opacity="0.6"/>
<line x1="398.77" y1="254.22" x2="398.77" y2="261.94" stroke="#24437f" stroke-width="0.8" stroke-opacity="0.55"/>
<line x1="397.37" y1="254.22" x2="400.17" y2="254.22" stroke="#24437f" stroke-width="0.9" stroke-opacity="0.6"/>
<line x1="397.37" y1="261.94" x2="400.17" y2="261.94" stroke="#24437f" stroke-width="0.9" stroke-opacity="0.6"/>
<line x1="402.65" y1="252.67" x2="402.65" y2="260.39" stroke="#24437f" stroke-width="0.8" stroke-opacity="0.55"/>
<line x1="401.25" y1="252.67" x2="404.05" y2="252.67" stroke="#24437f" stroke-width="0.9" stroke-opacity="0.6"/>
<line x1="401.25" y1="260.39" x2="404.05" y2="260.39" stroke="#24437f" stroke-width="0.9" stroke-opacity="0.6"/>
<line x1="406.53" y1="251.90" x2="406.53" y2="259.62" stroke="#24437f" stroke-width="0.8" stroke-opacity="0.55"/>
<line x1="405.13" y1="251.90" x2="407.93" y2="251.90" stroke="#24437f" stroke-width="0.9" stroke-opacity="0.6"/>
<line x1="405.13" y1="259.62" x2="407.93" y2="259.62" stroke="#24437f" stroke-width="0.9" stroke-opacity="0.6"/>
<line x1="410.41" y1="252.29" x2="410.41" y2="260.01" stroke="#24437f" stroke-width="0.8" stroke-opacity="0.55"/>
<line x1="409.01" y1="252.29" x2="411.81" y2="252.29" stroke="#24437f" stroke-width="0.9" stroke-opacity="0.6"/>
<line x1="409.01" y1="260.01" x2="411.81" y2="260.01" stroke="#24437f" stroke-width="0.9" stroke-opacity="0.6"/>
<line x1="414.28" y1="251.90" x2="414.28" y2="259.62" stroke="#24437f" stroke-width="0.8" stroke-opacity="0.55"/>
<line x1="412.88" y1="251.90" x2="415.68" y2="251.90" stroke="#24437f" stroke-width="0.9" stroke-opacity="0.6"/>
<line x1="412.88" y1="259.62" x2="415.68" y2="259.62" stroke="#24437f" stroke-width="0.9" stroke-opacity="0.6"/>
<line x1="418.16" y1="252.67" x2="418.16" y2="260.39" stroke="#24437f" stroke-width="0.8" stroke-opacity="0.55"/>
<line x1="416.76" y1="252.67" x2="419.56" y2="252.67" stroke="#24437f" stroke-width="0.9" stroke-opacity="0.6"/>
<line x1="416.76" y1="260.39" x2="419.56" y2="260.39" stroke="#24437f" stroke-width="0.9" stroke-opacity="0.6"/>
<line x1="422.04" y1="252.29" x2="422.04" y2="260.01" stroke="#24437f" stroke-width="0.8" stroke-opacity="0.55"/>
<line x1="420.64" y1="252.29" x2="423.44" y2="252.29" stroke="#24437f" stroke-width="0.9" stroke-opacity="0.6"/>
<line x1="420.64" y1="260.01" x2="423.44" y2="260.01" stroke="#24437f" stroke-width="0.9" stroke-opacity="0.6"/>
<line x1="425.92" y1="253.83" x2="425.92" y2="261.55" stroke="#24437f" stroke-width="0.8" stroke-opacity="0.55"/>
<line x1="424.52" y1="253.83" x2="427.32" y2="253.83" stroke="#24437f" stroke-width="0.9" stroke-opacity="0.6"/>
<line x1="424.52" y1="261.55" x2="427.32" y2="261.55" stroke="#24437f" stroke-width="0.9" stroke-opacity="0.6"/>
<line x1="429.80" y1="254.99" x2="429.80" y2="262.71" stroke="#24437f" stroke-width="0.8" stroke-opacity="0.55"/>
<line x1="428.40" y1="254.99" x2="431.20" y2="254.99" stroke="#24437f" stroke-width="0.9" stroke-opacity="0.6"/>
<line x1="428.40" y1="262.71" x2="431.20" y2="262.71" stroke="#24437f" stroke-width="0.9" stroke-opacity="0.6"/>
<line x1="433.68" y1="254.22" x2="433.68" y2="261.94" stroke="#24437f" stroke-width="0.8" stroke-opacity="0.55"/>
<line x1="432.28" y1="254.22" x2="435.08" y2="254.22" stroke="#24437f" stroke-width="0.9" stroke-opacity="0.6"/>
<line x1="432.28" y1="261.94" x2="435.08" y2="261.94" stroke="#24437f" stroke-width="0.9" stroke-opacity="0.6"/>
<line x1="437.55" y1="253.06" x2="437.55" y2="260.78" stroke="#24437f" stroke-width="0.8" stroke-opacity="0.55"/>
<line x1="436.15" y1="253.06" x2="438.95" y2="253.06" stroke="#24437f" stroke-width="0.9" stroke-opacity="0.6"/>
<line x1="436.15" y1="260.78" x2="438.95" y2="260.78" stroke="#24437f" stroke-width="0.9" stroke-opacity="0.6"/>
<line x1="441.43" y1="252.29" x2="441.43" y2="260.01" stroke="#24437f" stroke-width="0.8" stroke-opacity="0.55"/>
<line x1="440.03" y1="252.29" x2="442.83" y2="252.29" stroke="#24437f" stroke-width="0.9" stroke-opacity="0.6"/>
<line x1="440.03" y1="260.01" x2="442.83" y2="260.01" stroke="#24437f" stroke-width="0.9" stroke-opacity="0.6"/>
<line x1="445.31" y1="252.29" x2="445.31" y2="260.01" stroke="#24437f" stroke-width="0.8" stroke-opacity="0.55"/>
<line x1="443.91" y1="252.29" x2="446.71" y2="252.29" stroke="#24437f" stroke-width="0.9" stroke-opacity="0.6"/>
<line x1="443.91" y1="260.01" x2="446.71" y2="260.01" stroke="#24437f" stroke-width="0.9" stroke-opacity="0.6"/>
<line x1="449.19" y1="253.06" x2="449.19" y2="260.78" stroke="#24437f" stroke-width="0.8" stroke-opacity="0.55"/>
<line x1="447.79" y1="253.06" x2="450.59" y2="253.06" stroke="#24437f" stroke-width="0.9" stroke-opacity="0.6"/>
<line x1="447.79" y1="260.78" x2="450.59" y2="260.78" stroke="#24437f" stroke-width="0.9" stroke-opacity="0.6"/>
<line x1="453.07" y1="253.06" x2="453.07" y2="260.78" stroke="#24437f" stroke-width="0.8" stroke-opacity="0.55"/>
<line x1="451.67" y1="253.06" x2="454.47" y2="253.06" stroke="#24437f" stroke-width="0.9" stroke-opacity="0.6"/>
<line x1="451.67" y1="260.78" x2="454.47" y2="260.78" stroke="#24437f" stroke-width="0.9" stroke-opacity="0.6"/>
<line x1="456.95" y1="253.83" x2="456.95" y2="261.55" stroke="#24437f" stroke-width="0.8" stroke-opacity="0.55"/>
<line x1="455.55" y1="253.83" x2="458.35" y2="253.83" stroke="#24437f" stroke-width="0.9" stroke-opacity="0.6"/>
<line x1="455.55" y1="261.55" x2="458.35" y2="261.55" stroke="#24437f" stroke-width="0.9" stroke-opacity="0.6"/>
<line x1="460.82" y1="254.99" x2="460.82" y2="262.71" stroke="#24437f" stroke-width="0.8" stroke-opacity="0.55"/>
<line x1="459.42" y1="254.99" x2="462.22" y2="254.99" stroke="#24437f" stroke-width="0.9" stroke-opacity="0.6"/>
<line x1="459.42" y1="262.71" x2="462.22" y2="262.71" stroke="#24437f" stroke-width="0.9" stroke-opacity="0.6"/>
<path d="M375.50,268.50 L379.38,268.50 L383.26,268.50 L387.14,268.50 L391.01,265.41 L394.89,261.17 L398.77,258.08 L402.65,256.53 L406.53,255.76 L410.41,256.15 L414.28,255.76 L418.16,256.53 L422.04,256.15 L425.92,257.69 L429.80,258.85 L433.68,258.08 L437.55,256.92 L441.43,256.15 L445.31,256.15 L449.19,256.92 L453.07,256.92 L456.95,257.69 L460.82,258.85" fill="none" stroke="#24437f" stroke-width="0.9"/>
<circle cx="375.50" cy="268.50" r="0.9" fill="#24437f"/>
<circle cx="379.38" cy="268.50" r="0.9" fill="#24437f"/>
<circle cx="383.26" cy="268.50" r="0.9" fill="#24437f"/>
<circle cx="387.14" cy="268.50" r="0.9" fill="#24437f"/>
<circle cx="391.01" cy="265.41" r="0.9" fill="#24437f"/>
<circle cx="394.89" cy="261.17" r="0.9" fill="#24437f"/>
<circle cx="398.77" cy="258.08" r="0.9" fill="#24437f"/>
<circle cx="402.65" cy="256.53" r="0.9" fill="#24437f"/>
<circle cx="406.53" cy="255.76" r="0.9" fill="#24437f"/>
<circle cx="410.41" cy="256.15" r="0.9" fill="#24437f"/>
<circle cx="414.28" cy="255.76" r="0.9" fill="#24437f"/>
<circle cx="418.16" cy="256.53" r="0.9" fill="#24437f"/>
<circle cx="422.04" cy="256.15" r="0.9" fill="#24437f"/>
<circle cx="425.92" cy="257.69" r="0.9" fill="#24437f"/>
<circle cx="429.80" cy="258.85" r="0.9" fill="#24437f"/>
<circle cx="433.68" cy="258.08" r="0.9" fill="#24437f"/>
<circle cx="437.55" cy="256.92" r="0.9" fill="#24437f"/>
<circle cx="441.43" cy="256.15" r="0.9" fill="#24437f"/>
<circle cx="445.31" cy="256.15" r="0.9" fill="#24437f"/>
<circle cx="449.19" cy="256.92" r="0.9" fill="#24437f"/>
<circle cx="453.07" cy="256.92" r="0.9" fill="#24437f"/>
<circle cx="456.95" cy="257.69" r="0.9" fill="#24437f"/>
<circle cx="460.82" cy="258.85" r="0.9" fill="#24437f"/>
<line x1="387.14" y1="267.34" x2="387.14" y2="269.66" stroke="#24437f" stroke-width="0.8" stroke-opacity="0.55"/>
<line x1="385.74" y1="267.34" x2="388.54" y2="267.34" stroke="#24437f" stroke-width="0.9" stroke-opacity="0.6"/>
<line x1="385.74" y1="269.66" x2="388.54" y2="269.66" stroke="#24437f" stroke-width="0.9" stroke-opacity="0.6"/>
<line x1="391.01" y1="265.41" x2="391.01" y2="270.04" stroke="#24437f" stroke-width="0.8" stroke-opacity="0.55"/>
<line x1="389.61" y1="265.41" x2="392.41" y2="265.41" stroke="#24437f" stroke-width="0.9" stroke-opacity="0.6"/>
<line x1="389.61" y1="270.04" x2="392.41" y2="270.04" stroke="#24437f" stroke-width="0.9" stroke-opacity="0.6"/>
<line x1="394.89" y1="263.87" x2="394.89" y2="268.50" stroke="#24437f" stroke-width="0.8" stroke-opacity="0.55"/>
<line x1="393.49" y1="263.87" x2="396.29" y2="263.87" stroke="#24437f" stroke-width="0.9" stroke-opacity="0.6"/>
<line x1="393.49" y1="268.50" x2="396.29" y2="268.50" stroke="#24437f" stroke-width="0.9" stroke-opacity="0.6"/>
<line x1="398.77" y1="261.55" x2="398.77" y2="266.18" stroke="#24437f" stroke-width="0.8" stroke-opacity="0.55"/>
<line x1="397.37" y1="261.55" x2="400.17" y2="261.55" stroke="#24437f" stroke-width="0.9" stroke-opacity="0.6"/>
<line x1="397.37" y1="266.18" x2="400.17" y2="266.18" stroke="#24437f" stroke-width="0.9" stroke-opacity="0.6"/>
<line x1="402.65" y1="262.32" x2="402.65" y2="266.96" stroke="#24437f" stroke-width="0.8" stroke-opacity="0.55"/>
<line x1="401.25" y1="262.32" x2="404.05" y2="262.32" stroke="#24437f" stroke-width="0.9" stroke-opacity="0.6"/>
<line x1="401.25" y1="266.96" x2="404.05" y2="266.96" stroke="#24437f" stroke-width="0.9" stroke-opacity="0.6"/>
<line x1="406.53" y1="261.55" x2="406.53" y2="266.18" stroke="#24437f" stroke-width="0.8" stroke-opacity="0.55"/>
<line x1="405.13" y1="261.55" x2="407.93" y2="261.55" stroke="#24437f" stroke-width="0.9" stroke-opacity="0.6"/>
<line x1="405.13" y1="266.18" x2="407.93" y2="266.18" stroke="#24437f" stroke-width="0.9" stroke-opacity="0.6"/>
<line x1="410.41" y1="263.10" x2="410.41" y2="267.73" stroke="#24437f" stroke-width="0.8" stroke-opacity="0.55"/>
<line x1="409.01" y1="263.10" x2="411.81" y2="263.10" stroke="#24437f" stroke-width="0.9" stroke-opacity="0.6"/>
<line x1="409.01" y1="267.73" x2="411.81" y2="267.73" stroke="#24437f" stroke-width="0.9" stroke-opacity="0.6"/>
<line x1="414.28" y1="266.18" x2="414.28" y2="270.82" stroke="#24437f" stroke-width="0.8" stroke-opacity="0.55"/>
<line x1="412.88" y1="266.18" x2="415.68" y2="266.18" stroke="#24437f" stroke-width="0.9" stroke-opacity="0.6"/>
<line x1="412.88" y1="270.82" x2="415.68" y2="270.82" stroke="#24437f" stroke-width="0.9" stroke-opacity="0.6"/>
<line x1="418.16" y1="265.03" x2="418.16" y2="269.66" stroke="#24437f" stroke-width="0.8" stroke-opacity="0.55"/>
<line x1="416.76" y1="265.03" x2="419.56" y2="265.03" stroke="#24437f" stroke-width="0.9" stroke-opacity="0.6"/>
<line x1="416.76" y1="269.66" x2="419.56" y2="269.66" stroke="#24437f" stroke-width="0.9" stroke-opacity="0.6"/>
<line x1="422.04" y1="262.32" x2="422.04" y2="266.96" stroke="#24437f" stroke-width="0.8" stroke-opacity="0.55"/>
<line x1="420.64" y1="262.32" x2="423.44" y2="262.32" stroke="#24437f" stroke-width="0.9" stroke-opacity="0.6"/>
<line x1="420.64" y1="266.96" x2="423.44" y2="266.96" stroke="#24437f" stroke-width="0.9" stroke-opacity="0.6"/>
<line x1="425.92" y1="261.55" x2="425.92" y2="266.18" stroke="#24437f" stroke-width="0.8" stroke-opacity="0.55"/>
<line x1="424.52" y1="261.55" x2="427.32" y2="261.55" stroke="#24437f" stroke-width="0.9" stroke-opacity="0.6"/>
<line x1="424.52" y1="266.18" x2="427.32" y2="266.18" stroke="#24437f" stroke-width="0.9" stroke-opacity="0.6"/>
<line x1="429.80" y1="263.87" x2="429.80" y2="268.50" stroke="#24437f" stroke-width="0.8" stroke-opacity="0.55"/>
<line x1="428.40" y1="263.87" x2="431.20" y2="263.87" stroke="#24437f" stroke-width="0.9" stroke-opacity="0.6"/>
<line x1="428.40" y1="268.50" x2="431.20" y2="268.50" stroke="#24437f" stroke-width="0.9" stroke-opacity="0.6"/>
<line x1="433.68" y1="261.55" x2="433.68" y2="266.18" stroke="#24437f" stroke-width="0.8" stroke-opacity="0.55"/>
<line x1="432.28" y1="261.55" x2="435.08" y2="261.55" stroke="#24437f" stroke-width="0.9" stroke-opacity="0.6"/>
<line x1="432.28" y1="266.18" x2="435.08" y2="266.18" stroke="#24437f" stroke-width="0.9" stroke-opacity="0.6"/>
<line x1="437.55" y1="266.18" x2="437.55" y2="270.82" stroke="#24437f" stroke-width="0.8" stroke-opacity="0.55"/>
<line x1="436.15" y1="266.18" x2="438.95" y2="266.18" stroke="#24437f" stroke-width="0.9" stroke-opacity="0.6"/>
<line x1="436.15" y1="270.82" x2="438.95" y2="270.82" stroke="#24437f" stroke-width="0.9" stroke-opacity="0.6"/>
<line x1="441.43" y1="263.10" x2="441.43" y2="267.73" stroke="#24437f" stroke-width="0.8" stroke-opacity="0.55"/>
<line x1="440.03" y1="263.10" x2="442.83" y2="263.10" stroke="#24437f" stroke-width="0.9" stroke-opacity="0.6"/>
<line x1="440.03" y1="267.73" x2="442.83" y2="267.73" stroke="#24437f" stroke-width="0.9" stroke-opacity="0.6"/>
<line x1="445.31" y1="262.32" x2="445.31" y2="266.96" stroke="#24437f" stroke-width="0.8" stroke-opacity="0.55"/>
<line x1="443.91" y1="262.32" x2="446.71" y2="262.32" stroke="#24437f" stroke-width="0.9" stroke-opacity="0.6"/>
<line x1="443.91" y1="266.96" x2="446.71" y2="266.96" stroke="#24437f" stroke-width="0.9" stroke-opacity="0.6"/>
<line x1="449.19" y1="263.10" x2="449.19" y2="267.73" stroke="#24437f" stroke-width="0.8" stroke-opacity="0.55"/>
<line x1="447.79" y1="263.10" x2="450.59" y2="263.10" stroke="#24437f" stroke-width="0.9" stroke-opacity="0.6"/>
<line x1="447.79" y1="267.73" x2="450.59" y2="267.73" stroke="#24437f" stroke-width="0.9" stroke-opacity="0.6"/>
<line x1="453.07" y1="264.25" x2="453.07" y2="268.89" stroke="#24437f" stroke-width="0.8" stroke-opacity="0.55"/>
<line x1="451.67" y1="264.25" x2="454.47" y2="264.25" stroke="#24437f" stroke-width="0.9" stroke-opacity="0.6"/>
<line x1="451.67" y1="268.89" x2="454.47" y2="268.89" stroke="#24437f" stroke-width="0.9" stroke-opacity="0.6"/>
<line x1="456.95" y1="265.03" x2="456.95" y2="269.66" stroke="#24437f" stroke-width="0.8" stroke-opacity="0.55"/>
<line x1="455.55" y1="265.03" x2="458.35" y2="265.03" stroke="#24437f" stroke-width="0.9" stroke-opacity="0.6"/>
<line x1="455.55" y1="269.66" x2="458.35" y2="269.66" stroke="#24437f" stroke-width="0.9" stroke-opacity="0.6"/>
<line x1="460.82" y1="265.41" x2="460.82" y2="270.04" stroke="#24437f" stroke-width="0.8" stroke-opacity="0.55"/>
<line x1="459.42" y1="265.41" x2="462.22" y2="265.41" stroke="#24437f" stroke-width="0.9" stroke-opacity="0.6"/>
<line x1="459.42" y1="270.04" x2="462.22" y2="270.04" stroke="#24437f" stroke-width="0.9" stroke-opacity="0.6"/>
<path d="M375.50,268.50 L379.38,268.50 L383.26,268.50 L387.14,268.50 L391.01,267.73 L394.89,266.18 L398.77,263.87 L402.65,264.64 L406.53,263.87 L410.41,265.41 L414.28,268.50 L418.16,267.34 L422.04,264.64 L425.92,263.87 L429.80,266.18 L433.68,263.87 L437.55,268.50 L441.43,265.41 L445.31,264.64 L449.19,265.41 L453.07,266.57 L456.95,267.34 L460.82,267.73" fill="none" stroke="#24437f" stroke-width="0.9"/>
<circle cx="375.50" cy="268.50" r="0.8" fill="#24437f"/>
<circle cx="379.38" cy="268.50" r="0.8" fill="#24437f"/>
<circle cx="383.26" cy="268.50" r="0.8" fill="#24437f"/>
<circle cx="387.14" cy="268.50" r="0.8" fill="#24437f"/>
<circle cx="391.01" cy="267.73" r="0.8" fill="#24437f"/>
<circle cx="394.89" cy="266.18" r="0.8" fill="#24437f"/>
<circle cx="398.77" cy="263.87" r="0.8" fill="#24437f"/>
<circle cx="402.65" cy="264.64" r="0.8" fill="#24437f"/>
<circle cx="406.53" cy="263.87" r="0.8" fill="#24437f"/>
<circle cx="410.41" cy="265.41" r="0.8" fill="#24437f"/>
<circle cx="414.28" cy="268.50" r="0.8" fill="#24437f"/>
<circle cx="418.16" cy="267.34" r="0.8" fill="#24437f"/>
<circle cx="422.04" cy="264.64" r="0.8" fill="#24437f"/>
<circle cx="425.92" cy="263.87" r="0.8" fill="#24437f"/>
<circle cx="429.80" cy="266.18" r="0.8" fill="#24437f"/>
<circle cx="433.68" cy="263.87" r="0.8" fill="#24437f"/>
<circle cx="437.55" cy="268.50" r="0.8" fill="#24437f"/>
<circle cx="441.43" cy="265.41" r="0.8" fill="#24437f"/>
<circle cx="445.31" cy="264.64" r="0.8" fill="#24437f"/>
<circle cx="449.19" cy="265.41" r="0.8" fill="#24437f"/>
<circle cx="453.07" cy="266.57" r="0.8" fill="#24437f"/>
<circle cx="456.95" cy="267.34" r="0.8" fill="#24437f"/>
<circle cx="460.82" cy="267.73" r="0.8" fill="#24437f"/>
<line x1="379.38" y1="259.62" x2="379.38" y2="271.20" stroke="#a50d36" stroke-width="0.8" stroke-opacity="0.55"/>
<line x1="377.98" y1="259.62" x2="380.78" y2="259.62" stroke="#a50d36" stroke-width="0.9" stroke-opacity="0.6"/>
<line x1="377.98" y1="271.20" x2="380.78" y2="271.20" stroke="#a50d36" stroke-width="0.9" stroke-opacity="0.6"/>
<line x1="383.26" y1="261.55" x2="383.26" y2="270.82" stroke="#a50d36" stroke-width="0.8" stroke-opacity="0.55"/>
<line x1="381.86" y1="261.55" x2="384.66" y2="261.55" stroke="#a50d36" stroke-width="0.9" stroke-opacity="0.6"/>
<line x1="381.86" y1="270.82" x2="384.66" y2="270.82" stroke="#a50d36" stroke-width="0.9" stroke-opacity="0.6"/>
<line x1="387.14" y1="260.78" x2="387.14" y2="266.96" stroke="#a50d36" stroke-width="0.8" stroke-opacity="0.55"/>
<line x1="385.74" y1="260.78" x2="388.54" y2="260.78" stroke="#a50d36" stroke-width="0.9" stroke-opacity="0.6"/>
<line x1="385.74" y1="266.96" x2="388.54" y2="266.96" stroke="#a50d36" stroke-width="0.9" stroke-opacity="0.6"/>
<line x1="391.01" y1="256.92" x2="391.01" y2="264.64" stroke="#a50d36" stroke-width="0.8" stroke-opacity="0.55"/>
<line x1="389.61" y1="256.92" x2="392.41" y2="256.92" stroke="#a50d36" stroke-width="0.9" stroke-opacity="0.6"/>
<line x1="389.61" y1="264.64" x2="392.41" y2="264.64" stroke="#a50d36" stroke-width="0.9" stroke-opacity="0.6"/>
<line x1="394.89" y1="255.76" x2="394.89" y2="263.48" stroke="#a50d36" stroke-width="0.8" stroke-opacity="0.55"/>
<line x1="393.49" y1="255.76" x2="396.29" y2="255.76" stroke="#a50d36" stroke-width="0.9" stroke-opacity="0.6"/>
<line x1="393.49" y1="263.48" x2="396.29" y2="263.48" stroke="#a50d36" stroke-width="0.9" stroke-opacity="0.6"/>
<line x1="398.77" y1="254.22" x2="398.77" y2="261.94" stroke="#a50d36" stroke-width="0.8" stroke-opacity="0.55"/>
<line x1="397.37" y1="254.22" x2="400.17" y2="254.22" stroke="#a50d36" stroke-width="0.9" stroke-opacity="0.6"/>
<line x1="397.37" y1="261.94" x2="400.17" y2="261.94" stroke="#a50d36" stroke-width="0.9" stroke-opacity="0.6"/>
<line x1="402.65" y1="257.69" x2="402.65" y2="265.41" stroke="#a50d36" stroke-width="0.8" stroke-opacity="0.55"/>
<line x1="401.25" y1="257.69" x2="404.05" y2="257.69" stroke="#a50d36" stroke-width="0.9" stroke-opacity="0.6"/>
<line x1="401.25" y1="265.41" x2="404.05" y2="265.41" stroke="#a50d36" stroke-width="0.9" stroke-opacity="0.6"/>
<line x1="406.53" y1="255.76" x2="406.53" y2="263.48" stroke="#a50d36" stroke-width="0.8" stroke-opacity="0.55"/>
<line x1="405.13" y1="255.76" x2="407.93" y2="255.76" stroke="#a50d36" stroke-width="0.9" stroke-opacity="0.6"/>
<line x1="405.13" y1="263.48" x2="407.93" y2="263.48" stroke="#a50d36" stroke-width="0.9" stroke-opacity="0.6"/>
<line x1="410.41" y1="256.15" x2="410.41" y2="263.87" stroke="#a50d36" stroke-width="0.8" stroke-opacity="0.55"/>
<line x1="409.01" y1="256.15" x2="411.81" y2="256.15" stroke="#a50d36" stroke-width="0.9" stroke-opacity="0.6"/>
<line x1="409.01" y1="263.87" x2="411.81" y2="263.87" stroke="#a50d36" stroke-width="0.9" stroke-opacity="0.6"/>
<line x1="414.28" y1="260.01" x2="414.28" y2="267.73" stroke="#a50d36" stroke-width="0.8" stroke-opacity="0.55"/>
<line x1="412.88" y1="260.01" x2="415.68" y2="260.01" stroke="#a50d36" stroke-width="0.9" stroke-opacity="0.6"/>
<line x1="412.88" y1="267.73" x2="415.68" y2="267.73" stroke="#a50d36" stroke-width="0.9" stroke-opacity="0.6"/>
<line x1="418.16" y1="253.83" x2="418.16" y2="261.55" stroke="#a50d36" stroke-width="0.8" stroke-opacity="0.55"/>
<line x1="416.76" y1="253.83" x2="419.56" y2="253.83" stroke="#a50d36" stroke-width="0.9" stroke-opacity="0.6"/>
<line x1="416.76" y1="261.55" x2="419.56" y2="261.55" stroke="#a50d36" stroke-width="0.9" stroke-opacity="0.6"/>
<line x1="422.04" y1="253.06" x2="422.04" y2="260.78" stroke="#a50d36" stroke-width="0.8" stroke-opacity="0.55"/>
<line x1="420.64" y1="253.06" x2="423.44" y2="253.06" stroke="#a50d36" stroke-width="0.9" stroke-opacity="0.6"/>
<line x1="420.64" y1="260.78" x2="423.44" y2="260.78" stroke="#a50d36" stroke-width="0.9" stroke-opacity="0.6"/>
<line x1="425.92" y1="254.99" x2="425.92" y2="262.71" stroke="#a50d36" stroke-width="0.8" stroke-opacity="0.55"/>
<line x1="424.52" y1="254.99" x2="427.32" y2="254.99" stroke="#a50d36" stroke-width="0.9" stroke-opacity="0.6"/>
<line x1="424.52" y1="262.71" x2="427.32" y2="262.71" stroke="#a50d36" stroke-width="0.9" stroke-opacity="0.6"/>
<line x1="429.80" y1="256.92" x2="429.80" y2="264.64" stroke="#a50d36" stroke-width="0.8" stroke-opacity="0.55"/>
<line x1="428.40" y1="256.92" x2="431.20" y2="256.92" stroke="#a50d36" stroke-width="0.9" stroke-opacity="0.6"/>
<line x1="428.40" y1="264.64" x2="431.20" y2="264.64" stroke="#a50d36" stroke-width="0.9" stroke-opacity="0.6"/>
<line x1="433.68" y1="254.22" x2="433.68" y2="261.94" stroke="#a50d36" stroke-width="0.8" stroke-opacity="0.55"/>
<line x1="432.28" y1="254.22" x2="435.08" y2="254.22" stroke="#a50d36" stroke-width="0.9" stroke-opacity="0.6"/>
<line x1="432.28" y1="261.94" x2="435.08" y2="261.94" stroke="#a50d36" stroke-width="0.9" stroke-opacity="0.6"/>
<line x1="437.55" y1="253.83" x2="437.55" y2="261.55" stroke="#a50d36" stroke-width="0.8" stroke-opacity="0.55"/>
<line x1="436.15" y1="253.83" x2="438.95" y2="253.83" stroke="#a50d36" stroke-width="0.9" stroke-opacity="0.6"/>
<line x1="436.15" y1="261.55" x2="438.95" y2="261.55" stroke="#a50d36" stroke-width="0.9" stroke-opacity="0.6"/>
<line x1="441.43" y1="253.06" x2="441.43" y2="260.78" stroke="#a50d36" stroke-width="0.8" stroke-opacity="0.55"/>
<line x1="440.03" y1="253.06" x2="442.83" y2="253.06" stroke="#a50d36" stroke-width="0.9" stroke-opacity="0.6"/>
<line x1="440.03" y1="260.78" x2="442.83" y2="260.78" stroke="#a50d36" stroke-width="0.9" stroke-opacity="0.6"/>
<line x1="445.31" y1="251.90" x2="445.31" y2="259.62" stroke="#a50d36" stroke-width="0.8" stroke-opacity="0.55"/>
<line x1="443.91" y1="251.90" x2="446.71" y2="251.90" stroke="#a50d36" stroke-width="0.9" stroke-opacity="0.6"/>
<line x1="443.91" y1="259.62" x2="446.71" y2="259.62" stroke="#a50d36" stroke-width="0.9" stroke-opacity="0.6"/>
<line x1="449.19" y1="252.29" x2="449.19" y2="260.01" stroke="#a50d36" stroke-width="0.8" stroke-opacity="0.55"/>
<line x1="447.79" y1="252.29" x2="450.59" y2="252.29" stroke="#a50d36" stroke-width="0.9" stroke-opacity="0.6"/>
<line x1="447.79" y1="260.01" x2="450.59" y2="260.01" stroke="#a50d36" stroke-width="0.9" stroke-opacity="0.6"/>
<line x1="453.07" y1="253.06" x2="453.07" y2="260.78" stroke="#a50d36" stroke-width="0.8" stroke-opacity="0.55"/>
<line x1="451.67" y1="253.06" x2="454.47" y2="253.06" stroke="#a50d36" stroke-width="0.9" stroke-opacity="0.6"/>
<line x1="451.67" y1="260.78" x2="454.47" y2="260.78" stroke="#a50d36" stroke-width="0.9" stroke-opacity="0.6"/>
<line x1="456.95" y1="251.13" x2="456.95" y2="258.85" stroke="#a50d36" stroke-width="0.8" stroke-opacity="0.55"/>
<line x1="455.55" y1="251.13" x2="458.35" y2="251.13" stroke="#a50d36" stroke-width="0.9" stroke-opacity="0.6"/>
<line x1="455.55" y1="258.85" x2="458.35" y2="258.85" stroke="#a50d36" stroke-width="0.9" stroke-opacity="0.6"/>
<line x1="460.82" y1="253.83" x2="460.82" y2="261.55" stroke="#a50d36" stroke-width="0.8" stroke-opacity="0.55"/>
<line x1="459.42" y1="253.83" x2="462.22" y2="253.83" stroke="#a50d36" stroke-width="0.9" stroke-opacity="0.6"/>
<line x1="459.42" y1="261.55" x2="462.22" y2="261.55" stroke="#a50d36" stroke-width="0.9" stroke-opacity="0.6"/>
<path d="M375.50,268.50 L379.38,265.41 L383.26,266.18 L387.14,263.87 L391.01,260.78 L394.89,259.62 L398.77,258.08 L402.65,261.55 L406.53,259.62 L410.41,260.01 L414.28,263.87 L418.16,257.69 L422.04,256.92 L425.92,258.85 L429.80,260.78 L433.68,258.08 L437.55,257.69 L441.43,256.92 L445.31,255.76 L449.19,256.15 L453.07,256.92 L456.95,254.99 L460.82,257.69" fill="none" stroke="#a50d36" stroke-width="0.9"/>
<circle cx="375.50" cy="268.50" r="1.0" fill="#a50d36"/>
<circle cx="379.38" cy="265.41" r="1.0" fill="#a50d36"/>
<circle cx="383.26" cy="266.18" r="1.0" fill="#a50d36"/>
<circle cx="387.14" cy="263.87" r="1.0" fill="#a50d36"/>
<circle cx="391.01" cy="260.78" r="1.0" fill="#a50d36"/>
<circle cx="394.89" cy="259.62" r="1.0" fill="#a50d36"/>
<circle cx="398.77" cy="258.08" r="1.0" fill="#a50d36"/>
<circle cx="402.65" cy="261.55" r="1.0" fill="#a50d36"/>
<circle cx="406.53" cy="259.62" r="1.0" fill="#a50d36"/>
<circle cx="410.41" cy="260.01" r="1.0" fill="#a50d36"/>
<circle cx="414.28" cy="263.87" r="1.0" fill="#a50d36"/>
<circle cx="418.16" cy="257.69" r="1.0" fill="#a50d36"/>
<circle cx="422.04" cy="256.92" r="1.0" fill="#a50d36"/>
<circle cx="425.92" cy="258.85" r="1.0" fill="#a50d36"/>
<circle cx="429.80" cy="260.78" r="1.0" fill="#a50d36"/>
<circle cx="433.68" cy="258.08" r="1.0" fill="#a50d36"/>
<circle cx="437.55" cy="257.69" r="1.0" fill="#a50d36"/>
<circle cx="441.43" cy="256.92" r="1.0" fill="#a50d36"/>
<circle cx="445.31" cy="255.76" r="1.0" fill="#a50d36"/>
<circle cx="449.19" cy="256.15" r="1.0" fill="#a50d36"/>
<circle cx="453.07" cy="256.92" r="1.0" fill="#a50d36"/>
<circle cx="456.95" cy="254.99" r="1.0" fill="#a50d36"/>
<circle cx="460.82" cy="257.69" r="1.0" fill="#a50d36"/>
<line x1="379.38" y1="267.34" x2="379.38" y2="268.89" stroke="#a50d36" stroke-width="0.8" stroke-opacity="0.55"/>
<line x1="377.98" y1="267.34" x2="380.78" y2="267.34" stroke="#a50d36" stroke-width="0.9" stroke-opacity="0.6"/>
<line x1="377.98" y1="268.89" x2="380.78" y2="268.89" stroke="#a50d36" stroke-width="0.9" stroke-opacity="0.6"/>
<line x1="383.26" y1="266.18" x2="383.26" y2="268.50" stroke="#a50d36" stroke-width="0.8" stroke-opacity="0.55"/>
<line x1="381.86" y1="266.18" x2="384.66" y2="266.18" stroke="#a50d36" stroke-width="0.9" stroke-opacity="0.6"/>
<line x1="381.86" y1="268.50" x2="384.66" y2="268.50" stroke="#a50d36" stroke-width="0.9" stroke-opacity="0.6"/>
<line x1="387.14" y1="261.55" x2="387.14" y2="265.41" stroke="#a50d36" stroke-width="0.8" stroke-opacity="0.55"/>
<line x1="385.74" y1="261.55" x2="388.54" y2="261.55" stroke="#a50d36" stroke-width="0.9" stroke-opacity="0.6"/>
<line x1="385.74" y1="265.41" x2="388.54" y2="265.41" stroke="#a50d36" stroke-width="0.9" stroke-opacity="0.6"/>
<line x1="391.01" y1="251.90" x2="391.01" y2="258.08" stroke="#a50d36" stroke-width="0.8" stroke-opacity="0.55"/>
<line x1="389.61" y1="251.90" x2="392.41" y2="251.90" stroke="#a50d36" stroke-width="0.9" stroke-opacity="0.6"/>
<line x1="389.61" y1="258.08" x2="392.41" y2="258.08" stroke="#a50d36" stroke-width="0.9" stroke-opacity="0.6"/>
<line x1="394.89" y1="237.62" x2="394.89" y2="245.34" stroke="#a50d36" stroke-width="0.8" stroke-opacity="0.55"/>
<line x1="393.49" y1="237.62" x2="396.29" y2="237.62" stroke="#a50d36" stroke-width="0.9" stroke-opacity="0.6"/>
<line x1="393.49" y1="245.34" x2="396.29" y2="245.34" stroke="#a50d36" stroke-width="0.9" stroke-opacity="0.6"/>
<line x1="398.77" y1="227.58" x2="398.77" y2="238.39" stroke="#a50d36" stroke-width="0.8" stroke-opacity="0.55"/>
<line x1="397.37" y1="227.58" x2="400.17" y2="227.58" stroke="#a50d36" stroke-width="0.9" stroke-opacity="0.6"/>
<line x1="397.37" y1="238.39" x2="400.17" y2="238.39" stroke="#a50d36" stroke-width="0.9" stroke-opacity="0.6"/>
<line x1="402.65" y1="219.86" x2="402.65" y2="230.67" stroke="#a50d36" stroke-width="0.8" stroke-opacity="0.55"/>
<line x1="401.25" y1="219.86" x2="404.05" y2="219.86" stroke="#a50d36" stroke-width="0.9" stroke-opacity="0.6"/>
<line x1="401.25" y1="230.67" x2="404.05" y2="230.67" stroke="#a50d36" stroke-width="0.9" stroke-opacity="0.6"/>
<line x1="406.53" y1="217.55" x2="406.53" y2="228.36" stroke="#a50d36" stroke-width="0.8" stroke-opacity="0.55"/>
<line x1="405.13" y1="217.55" x2="407.93" y2="217.55" stroke="#a50d36" stroke-width="0.9" stroke-opacity="0.6"/>
<line x1="405.13" y1="228.36" x2="407.93" y2="228.36" stroke="#a50d36" stroke-width="0.9" stroke-opacity="0.6"/>
<line x1="410.41" y1="217.55" x2="410.41" y2="228.36" stroke="#a50d36" stroke-width="0.8" stroke-opacity="0.55"/>
<line x1="409.01" y1="217.55" x2="411.81" y2="217.55" stroke="#a50d36" stroke-width="0.9" stroke-opacity="0.6"/>
<line x1="409.01" y1="228.36" x2="411.81" y2="228.36" stroke="#a50d36" stroke-width="0.9" stroke-opacity="0.6"/>
<line x1="414.28" y1="218.32" x2="414.28" y2="229.13" stroke="#a50d36" stroke-width="0.8" stroke-opacity="0.55"/>
<line x1="412.88" y1="218.32" x2="415.68" y2="218.32" stroke="#a50d36" stroke-width="0.9" stroke-opacity="0.6"/>
<line x1="412.88" y1="229.13" x2="415.68" y2="229.13" stroke="#a50d36" stroke-width="0.9" stroke-opacity="0.6"/>
<line x1="418.16" y1="219.86" x2="418.16" y2="230.67" stroke="#a50d36" stroke-width="0.8" stroke-opacity="0.55"/>
<line x1="416.76" y1="219.86" x2="419.56" y2="219.86" stroke="#a50d36" stroke-width="0.9" stroke-opacity="0.6"/>
<line x1="416.76" y1="230.67" x2="419.56" y2="230.67" stroke="#a50d36" stroke-width="0.9" stroke-opacity="0.6"/>
<line x1="422.04" y1="220.64" x2="422.04" y2="231.44" stroke="#a50d36" stroke-width="0.8" stroke-opacity="0.55"/>
<line x1="420.64" y1="220.64" x2="423.44" y2="220.64" stroke="#a50d36" stroke-width="0.9" stroke-opacity="0.6"/>
<line x1="420.64" y1="231.44" x2="423.44" y2="231.44" stroke="#a50d36" stroke-width="0.9" stroke-opacity="0.6"/>
<line x1="425.92" y1="220.64" x2="425.92" y2="231.44" stroke="#a50d36" stroke-width="0.8" stroke-opacity="0.55"/>
<line x1="424.52" y1="220.64" x2="427.32" y2="220.64" stroke="#a50d36" stroke-width="0.9" stroke-opacity="0.6"/>
<line x1="424.52" y1="231.44" x2="427.32" y2="231.44" stroke="#a50d36" stroke-width="0.9" stroke-opacity="0.6"/>
<line x1="429.80" y1="221.41" x2="429.80" y2="232.22" stroke="#a50d36" stroke-width="0.8" stroke-opacity="0.55"/>
<line x1="428.40" y1="221.41" x2="431.20" y2="221.41" stroke="#a50d36" stroke-width="0.9" stroke-opacity="0.6"/>
<line x1="428.40" y1="232.22" x2="431.20" y2="232.22" stroke="#a50d36" stroke-width="0.9" stroke-opacity="0.6"/>
<line x1="433.68" y1="224.88" x2="433.68" y2="235.69" stroke="#a50d36" stroke-width="0.8" stroke-opacity="0.55"/>
<line x1="432.28" y1="224.88" x2="435.08" y2="224.88" stroke="#a50d36" stroke-width="0.9" stroke-opacity="0.6"/>
<line x1="432.28" y1="235.69" x2="435.08" y2="235.69" stroke="#a50d36" stroke-width="0.9" stroke-opacity="0.6"/>
<line x1="437.55" y1="226.81" x2="437.55" y2="237.62" stroke="#a50d36" stroke-width="0.8" stroke-opacity="0.55"/>
<line x1="436.15" y1="226.81" x2="438.95" y2="226.81" stroke="#a50d36" stroke-width="0.9" stroke-opacity="0.6"/>
<line x1="436.15" y1="237.62" x2="438.95" y2="237.62" stroke="#a50d36" stroke-width="0.9" stroke-opacity="0.6"/>
<line x1="441.43" y1="228.36" x2="441.43" y2="239.16" stroke="#a50d36" stroke-width="0.8" stroke-opacity="0.55"/>
<line x1="440.03" y1="228.36" x2="442.83" y2="228.36" stroke="#a50d36" stroke-width="0.9" stroke-opacity="0.6"/>
<line x1="440.03" y1="239.16" x2="442.83" y2="239.16" stroke="#a50d36" stroke-width="0.9" stroke-opacity="0.6"/>
<line x1="445.31" y1="229.51" x2="445.31" y2="240.32" stroke="#a50d36" stroke-width="0.8" stroke-opacity="0.55"/>
<line x1="443.91" y1="229.51" x2="446.71" y2="229.51" stroke="#a50d36" stroke-width="0.9" stroke-opacity="0.6"/>
<line x1="443.91" y1="240.32" x2="446.71" y2="240.32" stroke="#a50d36" stroke-width="0.9" stroke-opacity="0.6"/>
<line x1="449.19" y1="230.29" x2="449.19" y2="241.09" stroke="#a50d36" stroke-width="0.8" stroke-opacity="0.55"/>
<line x1="447.79" y1="230.29" x2="450.59" y2="230.29" stroke="#a50d36" stroke-width="0.9" stroke-opacity="0.6"/>
<line x1="447.79" y1="241.09" x2="450.59" y2="241.09" stroke="#a50d36" stroke-width="0.9" stroke-opacity="0.6"/>
<line x1="453.07" y1="231.83" x2="453.07" y2="242.64" stroke="#a50d36" stroke-width="0.8" stroke-opacity="0.55"/>
<line x1="451.67" y1="231.83" x2="454.47" y2="231.83" stroke="#a50d36" stroke-width="0.9" stroke-opacity="0.6"/>
<line x1="451.67" y1="242.64" x2="454.47" y2="242.64" stroke="#a50d36" stroke-width="0.9" stroke-opacity="0.6"/>
<line x1="456.95" y1="232.22" x2="456.95" y2="243.02" stroke="#a50d36" stroke-width="0.8" stroke-opacity="0.55"/>
<line x1="455.55" y1="232.22" x2="458.35" y2="232.22" stroke="#a50d36" stroke-width="0.9" stroke-opacity="0.6"/>
<line x1="455.55" y1="243.02" x2="458.35" y2="243.02" stroke="#a50d36" stroke-width="0.9" stroke-opacity="0.6"/>
<line x1="460.82" y1="233.37" x2="460.82" y2="244.18" stroke="#a50d36" stroke-width="0.8" stroke-opacity="0.55"/>
<line x1="459.42" y1="233.37" x2="462.22" y2="233.37" stroke="#a50d36" stroke-width="0.9" stroke-opacity="0.6"/>
<line x1="459.42" y1="244.18" x2="462.22" y2="244.18" stroke="#a50d36" stroke-width="0.9" stroke-opacity="0.6"/>
<path d="M375.50,268.50 L379.38,268.11 L383.26,267.34 L387.14,263.48 L391.01,254.99 L394.89,241.48 L398.77,232.99 L402.65,225.27 L406.53,222.95 L410.41,222.95 L414.28,223.72 L418.16,225.27 L422.04,226.04 L425.92,226.04 L429.80,226.81 L433.68,230.29 L437.55,232.22 L441.43,233.76 L445.31,234.92 L449.19,235.69 L453.07,237.23 L456.95,237.62 L460.82,238.78" fill="none" stroke="#a50d36" stroke-width="0.9"/>
<circle cx="375.50" cy="268.50" r="1.2" fill="#a50d36"/>
<circle cx="379.38" cy="268.11" r="1.2" fill="#a50d36"/>
<circle cx="383.26" cy="267.34" r="1.2" fill="#a50d36"/>
<circle cx="387.14" cy="263.48" r="1.2" fill="#a50d36"/>
<circle cx="391.01" cy="254.99" r="1.2" fill="#a50d36"/>
<circle cx="394.89" cy="241.48" r="1.2" fill="#a50d36"/>
<circle cx="398.77" cy="232.99" r="1.2" fill="#a50d36"/>
<circle cx="402.65" cy="225.27" r="1.2" fill="#a50d36"/>
<circle cx="406.53" cy="222.95" r="1.2" fill="#a50d36"/>
<circle cx="410.41" cy="222.95" r="1.2" fill="#a50d36"/>
<circle cx="414.28" cy="223.72" r="1.2" fill="#a50d36"/>
<circle cx="418.16" cy="225.27" r="1.2" fill="#a50d36"/>
<circle cx="422.04" cy="226.04" r="1.2" fill="#a50d36"/>
<circle cx="425.92" cy="226.04" r="1.2" fill="#a50d36"/>
<circle cx="429.80" cy="226.81" r="1.2" fill="#a50d36"/>
<circle cx="433.68" cy="230.29" r="1.2" fill="#a50d36"/>
<circle cx="437.55" cy="232.22" r="1.2" fill="#a50d36"/>
<circle cx="441.43" cy="233.76" r="1.2" fill="#a50d36"/>
<circle cx="445.31" cy="234.92" r="1.2" fill="#a50d36"/>
<circle cx="449.19" cy="235.69" r="1.2" fill="#a50d36"/>
<circle cx="453.07" cy="237.23" r="1.2" fill="#a50d36"/>
<circle cx="456.95" cy="237.62" r="1.2" fill="#a50d36"/>
<circle cx="460.82" cy="238.78" r="1.2" fill="#a50d36"/>
<line x1="375.50" y1="269.00" x2="375.50" y2="210.10" stroke="#1e1e1e" stroke-width="1.2" />
<line x1="375.00" y1="268.50" x2="461.00" y2="268.50" stroke="#1e1e1e" stroke-width="1.2" />
<line x1="372.50" y1="268.50" x2="375.50" y2="268.50" stroke="#1e1e1e" stroke-width="1" />
<text x="371.50" y="271.50" font-size="8.4" text-anchor="end" fill="#1a1a1a" stroke="#1a1a1a" stroke-width="0.1" textLength="13.00" lengthAdjust="spacingAndGlyphs" >0.0</text>
<line x1="372.50" y1="249.20" x2="375.50" y2="249.20" stroke="#1e1e1e" stroke-width="1" />
<text x="371.50" y="252.20" font-size="8.4" text-anchor="end" fill="#1a1a1a" stroke="#1a1a1a" stroke-width="0.1" textLength="13.00" lengthAdjust="spacingAndGlyphs" >0.5</text>
<line x1="372.50" y1="229.90" x2="375.50" y2="229.90" stroke="#1e1e1e" stroke-width="1" />
<text x="371.50" y="232.90" font-size="8.4" text-anchor="end" fill="#1a1a1a" stroke="#1a1a1a" stroke-width="0.1" textLength="13.00" lengthAdjust="spacingAndGlyphs" >1.0</text>
<line x1="372.50" y1="210.60" x2="375.50" y2="210.60" stroke="#1e1e1e" stroke-width="1" />
<text x="371.50" y="213.60" font-size="8.4" text-anchor="end" fill="#1a1a1a" stroke="#1a1a1a" stroke-width="0.1" textLength="13.00" lengthAdjust="spacingAndGlyphs" >1.5</text>
<line x1="375.50" y1="268.50" x2="375.50" y2="271.50" stroke="#1e1e1e" stroke-width="1" />
<text x="375.50" y="281.70" font-size="8.2" text-anchor="middle" fill="#1a1a1a" stroke="#1a1a1a" stroke-width="0.1" textLength="4.30" lengthAdjust="spacingAndGlyphs" >0</text>
<line x1="394.70" y1="268.50" x2="394.70" y2="271.50" stroke="#1e1e1e" stroke-width="1" />
<text x="394.70" y="281.70" font-size="8.2" text-anchor="middle" fill="#1a1a1a" stroke="#1a1a1a" stroke-width="0.1" textLength="8.60" lengthAdjust="spacingAndGlyphs" >20</text>
<line x1="413.90" y1="268.50" x2="413.90" y2="271.50" stroke="#1e1e1e" stroke-width="1" />
<text x="413.90" y="281.70" font-size="8.2" text-anchor="middle" fill="#1a1a1a" stroke="#1a1a1a" stroke-width="0.1" textLength="8.60" lengthAdjust="spacingAndGlyphs" >40</text>
<line x1="433.10" y1="268.50" x2="433.10" y2="271.50" stroke="#1e1e1e" stroke-width="1" />
<text x="433.10" y="281.70" font-size="8.2" text-anchor="middle" fill="#1a1a1a" stroke="#1a1a1a" stroke-width="0.1" textLength="8.60" lengthAdjust="spacingAndGlyphs" >60</text>
<line x1="452.30" y1="268.50" x2="452.30" y2="271.50" stroke="#1e1e1e" stroke-width="1" />
<text x="452.30" y="281.70" font-size="8.2" text-anchor="middle" fill="#1a1a1a" stroke="#1a1a1a" stroke-width="0.1" textLength="8.60" lengthAdjust="spacingAndGlyphs" >80</text>
<text x="419.80" y="294.30" font-size="9.4" text-anchor="middle" fill="#1a1a1a" stroke="#1a1a1a" stroke-width="0.1" textLength="35.70" lengthAdjust="spacingAndGlyphs" >Time [min]</text>
<text x="341.30" y="238.00" font-size="9.2" text-anchor="middle" fill="#1a1a1a" stroke="#1a1a1a" stroke-width="0.1" textLength="60.50" lengthAdjust="spacingAndGlyphs" transform="rotate(-90 341.30 238.00)" >nmoles O<tspan font-size="5.5" dy="1.8">2</tspan><tspan font-size="5.5" dy="-2.5">-</tspan><tspan dy="0.7">/1*10</tspan><tspan font-size="5.5" dy="-3.5">6</tspan></text>
<text x="353.00" y="239.00" font-size="9.2" text-anchor="middle" fill="#1a1a1a" stroke="#1a1a1a" stroke-width="0.1" textLength="18.00" lengthAdjust="spacingAndGlyphs" transform="rotate(-90 353.00 239.00)" >cells</text>
<line x1="463.80" y1="240.00" x2="463.80" y2="257.20" stroke="#222" stroke-width="1.2" />
<circle cx="467.00" cy="242.80" r="0.9" fill="#222"/>
<circle cx="467.00" cy="248.30" r="0.9" fill="#222"/>
<circle cx="467.00" cy="253.40" r="0.9" fill="#222"/>
<line x1="29.00" y1="309.50" x2="37.50" y2="309.50" stroke="#a50d36" stroke-width="0.9" />
<circle cx="33.25" cy="309.5" r="1.1" fill="#a50d36"/>
<text x="40.50" y="313.20" font-size="8.2" text-anchor="start" fill="#1a1a1a" stroke="#1a1a1a" stroke-width="0.15" textLength="30.00" lengthAdjust="spacingAndGlyphs" >Wildtype</text>
<line x1="80.00" y1="309.50" x2="88.50" y2="309.50" stroke="#a50d36" stroke-width="0.9" />
<circle cx="84.25" cy="309.5" r="1.1" fill="#a50d36"/>
<text x="92.00" y="313.20" font-size="8.2" text-anchor="start" fill="#1a1a1a" stroke="#1a1a1a" stroke-width="0.15" textLength="58.00" lengthAdjust="spacingAndGlyphs" >Wildtype + TNF&#945;</text>
<line x1="29.00" y1="321.70" x2="37.50" y2="321.70" stroke="#24437f" stroke-width="0.9" />
<circle cx="33.25" cy="321.7" r="1.1" fill="#24437f"/>
<text x="40.50" y="324.00" font-size="8.2" text-anchor="start" fill="#1a1a1a" stroke="#1a1a1a" stroke-width="0.15" >Sell-/-</text>
<line x1="80.00" y1="321.70" x2="88.50" y2="321.70" stroke="#24437f" stroke-width="0.9" />
<circle cx="84.25" cy="321.7" r="1.1" fill="#24437f"/>
<text x="92.00" y="324.00" font-size="8.2" text-anchor="start" fill="#1a1a1a" stroke="#1a1a1a" stroke-width="0.15" >Sell-/- + TNF&#945;</text>
<line x1="194.00" y1="309.50" x2="202.50" y2="309.50" stroke="#a50d36" stroke-width="0.9" />
<circle cx="198.25" cy="309.5" r="1.1" fill="#a50d36"/>
<text x="205.50" y="313.20" font-size="8.2" text-anchor="start" fill="#1a1a1a" stroke="#1a1a1a" stroke-width="0.15" textLength="30.00" lengthAdjust="spacingAndGlyphs" >Wildtype</text>
<line x1="245.50" y1="309.50" x2="254.00" y2="309.50" stroke="#a50d36" stroke-width="0.9" />
<circle cx="249.75" cy="309.5" r="1.1" fill="#a50d36"/>
<text x="257.00" y="313.20" font-size="8.2" text-anchor="start" fill="#1a1a1a" stroke="#1a1a1a" stroke-width="0.15" textLength="58.00" lengthAdjust="spacingAndGlyphs" >Wildtype + TNF&#945;</text>
<line x1="194.00" y1="321.70" x2="202.50" y2="321.70" stroke="#24437f" stroke-width="0.9" />
<circle cx="198.25" cy="321.7" r="1.1" fill="#24437f"/>
<text x="205.50" y="324.00" font-size="8.2" text-anchor="start" fill="#1a1a1a" stroke="#1a1a1a" stroke-width="0.15" >Sell<tspan font-size="4.5" dy="-2.5">-/-</tspan></text>
<line x1="245.50" y1="321.70" x2="254.00" y2="321.70" stroke="#24437f" stroke-width="0.9" />
<circle cx="249.75" cy="321.7" r="1.1" fill="#24437f"/>
<text x="257.00" y="324.00" font-size="8.2" text-anchor="start" fill="#1a1a1a" stroke="#1a1a1a" stroke-width="0.15" >Sell<tspan font-size="4.5" dy="-2.5">-/-</tspan><tspan dy="2.5"> + TNF&#945;</tspan></text>
<line x1="358.80" y1="309.50" x2="367.30" y2="309.50" stroke="#a50d36" stroke-width="0.9" />
<circle cx="363.05" cy="309.5" r="1.1" fill="#a50d36"/>
<text x="370.50" y="313.20" font-size="8.2" text-anchor="start" fill="#1a1a1a" stroke="#1a1a1a" stroke-width="0.15" textLength="30.00" lengthAdjust="spacingAndGlyphs" >Wildtype</text>
<line x1="410.00" y1="309.50" x2="418.50" y2="309.50" stroke="#a50d36" stroke-width="0.9" />
<circle cx="414.25" cy="309.5" r="1.1" fill="#a50d36"/>
<text x="422.00" y="313.20" font-size="8.2" text-anchor="start" fill="#1a1a1a" stroke="#1a1a1a" stroke-width="0.15" textLength="58.00" lengthAdjust="spacingAndGlyphs" >Wildtype + TNF&#945;</text>
<line x1="358.80" y1="321.70" x2="367.30" y2="321.70" stroke="#24437f" stroke-width="0.9" />
<circle cx="363.05" cy="321.7" r="1.1" fill="#24437f"/>
<text x="370.50" y="324.00" font-size="8.2" text-anchor="start" fill="#1a1a1a" stroke="#1a1a1a" stroke-width="0.15" >Sell<tspan font-size="4.5" dy="-2.5">-/-</tspan></text>
<line x1="410.00" y1="321.70" x2="418.50" y2="321.70" stroke="#24437f" stroke-width="0.9" />
<circle cx="414.25" cy="321.7" r="1.1" fill="#24437f"/>
<text x="422.00" y="324.00" font-size="8.2" text-anchor="start" fill="#1a1a1a" stroke="#1a1a1a" stroke-width="0.15" >Sell<tspan font-size="4.5" dy="-2.5">-/-</tspan><tspan dy="2.5"> + TNF&#945;</tspan></text>
<text x="8.70" y="351.30" font-size="12" text-anchor="start" fill="#111" font-weight="bold" stroke="#111" stroke-width="0.5" textLength="6.20" lengthAdjust="spacingAndGlyphs" >F</text>
<defs><filter id="bl" x="-20%" y="-100%" width="140%" height="300%"><feGaussianBlur stdDeviation="0.8 0.7"/></filter><linearGradient id="bg" x1="0" x2="1" y1="0" y2="0"><stop offset="0" stop-color="#111" stop-opacity="0.35"/><stop offset="0.15" stop-color="#111" stop-opacity="0.9"/><stop offset="0.85" stop-color="#111" stop-opacity="0.9"/><stop offset="1" stop-color="#111" stop-opacity="0.35"/></linearGradient></defs>
<rect x="33.50" y="362.80" width="75.40" height="11.50" fill="#b0b0b0" />
<rect x="52.20" y="362.80" width="1.6" height="11.50" fill="#000" fill-opacity="0.02"/>
<rect x="70.20" y="362.80" width="1.6" height="11.50" fill="#000" fill-opacity="0.02"/>
<rect x="87.70" y="362.80" width="1.6" height="11.50" fill="#000" fill-opacity="0.02"/>
<rect x="106.20" y="362.80" width="1.6" height="11.50" fill="#000" fill-opacity="0.02"/>
<rect x="36.30" y="368.50" width="15.00" height="2.00" fill="url(#bg)" opacity="0.18" filter="url(#bl)"/>
<rect x="55.20" y="368.50" width="14.20" height="2.00" fill="url(#bg)" opacity="0.55" filter="url(#bl)"/>
<rect x="72.50" y="368.50" width="14.00" height="2.00" fill="url(#bg)" opacity="0.12" filter="url(#bl)"/>
<rect x="90.50" y="368.50" width="14.50" height="2.00" fill="url(#bg)" opacity="0.12" filter="url(#bl)"/>
<text x="31.90" y="373.60" font-size="8.6" text-anchor="end" fill="#1a1a1a" stroke="#1a1a1a" stroke-width="0.22" textLength="24.50" lengthAdjust="spacingAndGlyphs" >pPLC&#947;2</text>
<rect x="33.50" y="375.80" width="75.40" height="11.90" fill="#999999" />
<rect x="52.20" y="375.80" width="1.6" height="11.90" fill="#000" fill-opacity="0.02"/>
<rect x="70.20" y="375.80" width="1.6" height="11.90" fill="#000" fill-opacity="0.02"/>
<rect x="87.70" y="375.80" width="1.6" height="11.90" fill="#000" fill-opacity="0.02"/>
<rect x="106.20" y="375.80" width="1.6" height="11.90" fill="#000" fill-opacity="0.02"/>
<rect x="35.50" y="381.60" width="15.00" height="2.60" fill="url(#bg)" opacity="0.85" filter="url(#bl)"/>
<rect x="53.70" y="381.60" width="14.20" height="2.60" fill="url(#bg)" opacity="0.85" filter="url(#bl)"/>
<rect x="71.80" y="381.60" width="14.20" height="2.60" fill="url(#bg)" opacity="0.72" filter="url(#bl)"/>
<rect x="90.70" y="381.60" width="13.80" height="2.60" fill="url(#bg)" opacity="0.85" filter="url(#bl)"/>
<text x="31.90" y="385.40" font-size="8.6" text-anchor="end" fill="#1a1a1a" stroke="#1a1a1a" stroke-width="0.22" textLength="23.20" lengthAdjust="spacingAndGlyphs" >tPLC&#947;2</text>
<rect x="33.50" y="389.90" width="92.50" height="12.50" fill="#e9e9e9" />
<rect x="52.20" y="389.90" width="1.6" height="12.50" fill="#000" fill-opacity="0.02"/>
<rect x="70.20" y="389.90" width="1.6" height="12.50" fill="#000" fill-opacity="0.02"/>
<rect x="87.70" y="389.90" width="1.6" height="12.50" fill="#000" fill-opacity="0.02"/>
<rect x="106.20" y="389.90" width="1.6" height="12.50" fill="#000" fill-opacity="0.02"/>
<rect x="55.00" y="395.35" width="14.40" height="1.90" fill="url(#bg)" opacity="0.70" filter="url(#bl)"/>
<rect x="89.60" y="395.35" width="16.40" height="1.90" fill="url(#bg)" opacity="0.22" filter="url(#bl)"/>
<text x="31.90" y="398.90" font-size="8.6" text-anchor="end" fill="#1a1a1a" stroke="#1a1a1a" stroke-width="0.22" textLength="17.90" lengthAdjust="spacingAndGlyphs" >4G10</text>
<rect x="33.50" y="403.30" width="92.50" height="10.60" fill="#9c9c9c" />
<rect x="52.20" y="403.30" width="1.6" height="10.60" fill="#000" fill-opacity="0.02"/>
<rect x="70.20" y="403.30" width="1.6" height="10.60" fill="#000" fill-opacity="0.02"/>
<rect x="87.70" y="403.30" width="1.6" height="10.60" fill="#000" fill-opacity="0.02"/>
<rect x="106.20" y="403.30" width="1.6" height="10.60" fill="#000" fill-opacity="0.02"/>
<rect x="34.80" y="407.40" width="17.20" height="2.60" fill="url(#bg)" opacity="0.85" filter="url(#bl)"/>
<rect x="54.00" y="407.40" width="16.40" height="2.60" fill="url(#bg)" opacity="0.85" filter="url(#bl)"/>
<rect x="72.30" y="407.40" width="15.40" height="2.60" fill="url(#bg)" opacity="0.70" filter="url(#bl)"/>
<rect x="88.70" y="407.40" width="17.30" height="2.60" fill="url(#bg)" opacity="0.85" filter="url(#bl)"/>
<rect x="109.00" y="407.40" width="12.00" height="2.60" fill="url(#bg)" opacity="0.12" filter="url(#bl)"/>
<text x="31.90" y="411.80" font-size="8.6" text-anchor="end" fill="#1a1a1a" stroke="#1a1a1a" stroke-width="0.22" textLength="14.20" lengthAdjust="spacingAndGlyphs" >tSyk</text>
<rect x="33.50" y="415.80" width="75.40" height="12.60" fill="#a9a9a9" />
<rect x="52.20" y="415.80" width="1.6" height="12.60" fill="#000" fill-opacity="0.02"/>
<rect x="70.20" y="415.80" width="1.6" height="12.60" fill="#000" fill-opacity="0.02"/>
<rect x="87.70" y="415.80" width="1.6" height="12.60" fill="#000" fill-opacity="0.02"/>
<rect x="106.20" y="415.80" width="1.6" height="12.60" fill="#000" fill-opacity="0.02"/>
<rect x="35.00" y="420.50" width="17.00" height="2.20" fill="url(#bg)" opacity="0.30" filter="url(#bl)"/>
<rect x="55.00" y="420.50" width="14.40" height="2.20" fill="url(#bg)" opacity="0.85" filter="url(#bl)"/>
<rect x="73.00" y="420.50" width="13.00" height="2.20" fill="url(#bg)" opacity="0.12" filter="url(#bl)"/>
<rect x="90.00" y="420.50" width="15.00" height="2.20" fill="url(#bg)" opacity="0.20" filter="url(#bl)"/>
<text x="31.90" y="426.00" font-size="8.6" text-anchor="end" fill="#1a1a1a" stroke="#1a1a1a" stroke-width="0.22" textLength="15.10" lengthAdjust="spacingAndGlyphs" >pAkt</text>
<rect x="33.50" y="430.00" width="75.40" height="10.80" fill="#a0a0a0" />
<rect x="52.20" y="430.00" width="1.6" height="10.80" fill="#000" fill-opacity="0.02"/>
<rect x="70.20" y="430.00" width="1.6" height="10.80" fill="#000" fill-opacity="0.02"/>
<rect x="87.70" y="430.00" width="1.6" height="10.80" fill="#000" fill-opacity="0.02"/>
<rect x="106.20" y="430.00" width="1.6" height="10.80" fill="#000" fill-opacity="0.02"/>
<rect x="35.50" y="434.50" width="19.70" height="2.40" fill="url(#bg)" opacity="0.95" filter="url(#bl)"/>
<rect x="56.80" y="434.50" width="18.60" height="2.40" fill="url(#bg)" opacity="0.95" filter="url(#bl)"/>
<rect x="76.50" y="434.50" width="15.00" height="2.40" fill="url(#bg)" opacity="0.95" filter="url(#bl)"/>
<rect x="93.00" y="434.50" width="15.50" height="2.40" fill="url(#bg)" opacity="0.95" filter="url(#bl)"/>
<text x="31.90" y="437.70" font-size="8.6" text-anchor="end" fill="#1a1a1a" stroke="#1a1a1a" stroke-width="0.22" textLength="13.30" lengthAdjust="spacingAndGlyphs" >tAkt</text>
<text x="32.00" y="452.80" font-size="7.4" text-anchor="end" fill="#1a1a1a" stroke="#1a1a1a" stroke-width="0.15" textLength="20.00" lengthAdjust="spacingAndGlyphs" >pRGD</text>
<text x="65.00" y="450.40" font-size="7.6" text-anchor="middle" fill="#1a1a1a" stroke="#1a1a1a" stroke-width="0.15" >+</text>
<text x="102.00" y="450.40" font-size="7.6" text-anchor="middle" fill="#1a1a1a" stroke="#1a1a1a" stroke-width="0.15" >+</text>
<line x1="45.20" y1="447.80" x2="47.40" y2="447.80" stroke="#222" stroke-width="0.9" />
<line x1="81.50" y1="447.80" x2="83.70" y2="447.80" stroke="#222" stroke-width="0.9" />
<text x="110.20" y="450.40" font-size="7.6" text-anchor="start" fill="#1a1a1a" stroke="#1a1a1a" stroke-width="0.15" textLength="12.40" lengthAdjust="spacingAndGlyphs" >IgG</text>
<line x1="37.50" y1="452.60" x2="70.80" y2="452.60" stroke="#111" stroke-width="1.3" />
<line x1="77.00" y1="452.60" x2="106.80" y2="452.60" stroke="#111" stroke-width="1.3" />
<text x="55.50" y="462.80" font-size="8" text-anchor="middle" fill="#1a1a1a" stroke="#1a1a1a" stroke-width="0.15" textLength="11.00" lengthAdjust="spacingAndGlyphs" >WT</text>
<text x="84.00" y="463.50" font-size="7.4" text-anchor="start" fill="#1a1a1a" stroke="#1a1a1a" stroke-width="0.15" font-style="italic" >Sell<tspan font-size="4.5" dy="-2.5">-/-</tspan></text>
<text x="136.80" y="351.20" font-size="12" text-anchor="start" fill="#111" font-weight="bold" stroke="#111" stroke-width="0.5" textLength="8.20" lengthAdjust="spacingAndGlyphs" >G</text>
<text x="197.50" y="362.70" font-size="9.8" text-anchor="start" fill="#1a1a1a" stroke="#1a1a1a" stroke-width="0.08" textLength="26.50" lengthAdjust="spacingAndGlyphs" >PLC&#947;2</text>
<rect x="168.00" y="433.45" width="16.00" height="4.15" fill="#a8002c" />
<rect x="191.50" y="395.69" width="15.50" height="41.92" fill="#a8002c" />
<line x1="199.25" y1="395.69" x2="199.25" y2="384.69" stroke="#222" stroke-width="1.25" />
<line x1="196.50" y1="384.69" x2="202.00" y2="384.69" stroke="#222" stroke-width="1.25" />
<rect x="215.00" y="428.89" width="15.50" height="8.71" fill="#284a8a" />
<line x1="222.75" y1="428.89" x2="222.75" y2="424.53" stroke="#222" stroke-width="1.25" />
<line x1="220.00" y1="424.53" x2="225.50" y2="424.53" stroke="#222" stroke-width="1.25" />
<rect x="238.00" y="428.89" width="15.75" height="8.71" fill="#284a8a" />
<line x1="245.88" y1="428.89" x2="245.88" y2="423.49" stroke="#222" stroke-width="1.25" />
<line x1="243.12" y1="423.49" x2="248.62" y2="423.49" stroke="#222" stroke-width="1.25" />
<line x1="164.50" y1="372.55" x2="164.50" y2="438.10" stroke="#111" stroke-width="1.2" />
<line x1="164.00" y1="437.60" x2="257.50" y2="437.60" stroke="#1e1e1e" stroke-width="1.2" />
<line x1="161.50" y1="437.60" x2="164.50" y2="437.60" stroke="#1e1e1e" stroke-width="1" />
<text x="157.90" y="440.50" font-size="8.0" text-anchor="end" fill="#1a1a1a" stroke="#1a1a1a" stroke-width="0.1" textLength="4.20" lengthAdjust="spacingAndGlyphs" >0</text>
<line x1="161.50" y1="416.85" x2="164.50" y2="416.85" stroke="#1e1e1e" stroke-width="1" />
<text x="157.90" y="419.75" font-size="8.0" text-anchor="end" fill="#1a1a1a" stroke="#1a1a1a" stroke-width="0.1" textLength="4.20" lengthAdjust="spacingAndGlyphs" >5</text>
<line x1="161.50" y1="396.10" x2="164.50" y2="396.10" stroke="#1e1e1e" stroke-width="1" />
<text x="157.90" y="399.00" font-size="8.0" text-anchor="end" fill="#1a1a1a" stroke="#1a1a1a" stroke-width="0.1" textLength="8.40" lengthAdjust="spacingAndGlyphs" >10</text>
<line x1="161.50" y1="375.35" x2="164.50" y2="375.35" stroke="#1e1e1e" stroke-width="1" />
<text x="157.90" y="378.25" font-size="8.0" text-anchor="end" fill="#1a1a1a" stroke="#1a1a1a" stroke-width="0.1" textLength="8.40" lengthAdjust="spacingAndGlyphs" >15</text>
<line x1="176.00" y1="437.60" x2="176.00" y2="440.10" stroke="#1e1e1e" stroke-width="1" />
<text x="179.00" y="446.90" font-size="7.9" text-anchor="end" fill="#1a1a1a" stroke="#1a1a1a" stroke-width="0.12" transform="rotate(-45 179.00 446.90)" >WT</text>
<line x1="199.25" y1="437.60" x2="199.25" y2="440.10" stroke="#1e1e1e" stroke-width="1" />
<text x="202.25" y="446.90" font-size="7.9" text-anchor="end" fill="#1a1a1a" stroke="#1a1a1a" stroke-width="0.12" transform="rotate(-45 202.25 446.90)" >WT pRGD</text>
<line x1="222.75" y1="437.60" x2="222.75" y2="440.10" stroke="#1e1e1e" stroke-width="1" />
<text x="225.75" y="446.90" font-size="7.9" text-anchor="end" fill="#1a1a1a" stroke="#1a1a1a" stroke-width="0.12" transform="rotate(-45 225.75 446.90)" >Sell-/-</text>
<line x1="245.88" y1="437.60" x2="245.88" y2="440.10" stroke="#1e1e1e" stroke-width="1" />
<text x="248.88" y="446.90" font-size="7.9" text-anchor="end" fill="#1a1a1a" stroke="#1a1a1a" stroke-width="0.12" transform="rotate(-45 248.88 446.90)" >Sell-/- pRGD</text>
<line x1="176.00" y1="381.25" x2="199.00" y2="381.25" stroke="#4a4a4a" stroke-width="1.3" />
<circle cx="185.82" cy="377.85" r="1.05" fill="#1a1a1a"/>
<circle cx="189.18" cy="377.85" r="1.05" fill="#1a1a1a"/>
<line x1="199.00" y1="378.75" x2="244.00" y2="378.75" stroke="#4a4a4a" stroke-width="1.3" />
<circle cx="221.50" cy="375.35" r="1.05" fill="#1a1a1a"/>
<text x="145.40" y="406.80" font-size="9.0" text-anchor="middle" fill="#1a1a1a" stroke="#1a1a1a" stroke-width="0.1" textLength="78.00" lengthAdjust="spacingAndGlyphs" transform="rotate(-90 145.40 406.80)" >Relative density (x-fold)</text>
<text x="269.40" y="351.20" font-size="12" text-anchor="start" fill="#111" font-weight="bold" stroke="#111" stroke-width="0.5" textLength="8.20" lengthAdjust="spacingAndGlyphs" >H</text>
<text x="331.00" y="362.70" font-size="9.8" text-anchor="start" fill="#1a1a1a" stroke="#1a1a1a" stroke-width="0.08" textLength="15.00" lengthAdjust="spacingAndGlyphs" >Syk</text>
<rect x="295.75" y="430.44" width="15.50" height="7.66" fill="#a8002c" />
<rect x="319.00" y="391.37" width="15.80" height="46.73" fill="#a8002c" />
<line x1="326.90" y1="391.37" x2="326.90" y2="380.65" stroke="#222" stroke-width="1.25" />
<line x1="324.15" y1="380.65" x2="329.65" y2="380.65" stroke="#222" stroke-width="1.25" />
<rect x="342.50" y="430.06" width="15.50" height="8.04" fill="#284a8a" />
<line x1="350.25" y1="430.06" x2="350.25" y2="428.14" stroke="#222" stroke-width="1.25" />
<line x1="347.50" y1="428.14" x2="353.00" y2="428.14" stroke="#222" stroke-width="1.25" />
<rect x="365.75" y="415.12" width="15.50" height="22.98" fill="#284a8a" />
<line x1="373.50" y1="415.12" x2="373.50" y2="409.76" stroke="#222" stroke-width="1.25" />
<line x1="370.75" y1="409.76" x2="376.25" y2="409.76" stroke="#222" stroke-width="1.25" />
<line x1="291.90" y1="374.02" x2="291.90" y2="438.60" stroke="#111" stroke-width="1.2" />
<line x1="291.40" y1="438.10" x2="385.00" y2="438.10" stroke="#1e1e1e" stroke-width="1.2" />
<line x1="288.90" y1="438.10" x2="291.90" y2="438.10" stroke="#1e1e1e" stroke-width="1" />
<text x="285.30" y="441.00" font-size="8.0" text-anchor="end" fill="#1a1a1a" stroke="#1a1a1a" stroke-width="0.1" textLength="4.20" lengthAdjust="spacingAndGlyphs" >0</text>
<line x1="288.90" y1="422.78" x2="291.90" y2="422.78" stroke="#1e1e1e" stroke-width="1" />
<text x="285.30" y="425.68" font-size="8.0" text-anchor="end" fill="#1a1a1a" stroke="#1a1a1a" stroke-width="0.1" textLength="4.20" lengthAdjust="spacingAndGlyphs" >2</text>
<line x1="288.90" y1="407.46" x2="291.90" y2="407.46" stroke="#1e1e1e" stroke-width="1" />
<text x="285.30" y="410.36" font-size="8.0" text-anchor="end" fill="#1a1a1a" stroke="#1a1a1a" stroke-width="0.1" textLength="4.20" lengthAdjust="spacingAndGlyphs" >4</text>
<line x1="288.90" y1="392.14" x2="291.90" y2="392.14" stroke="#1e1e1e" stroke-width="1" />
<text x="285.30" y="395.04" font-size="8.0" text-anchor="end" fill="#1a1a1a" stroke="#1a1a1a" stroke-width="0.1" textLength="4.20" lengthAdjust="spacingAndGlyphs" >6</text>
<line x1="288.90" y1="376.82" x2="291.90" y2="376.82" stroke="#1e1e1e" stroke-width="1" />
<text x="285.30" y="379.72" font-size="8.0" text-anchor="end" fill="#1a1a1a" stroke="#1a1a1a" stroke-width="0.1" textLength="4.20" lengthAdjust="spacingAndGlyphs" >8</text>
<line x1="303.50" y1="438.10" x2="303.50" y2="440.60" stroke="#1e1e1e" stroke-width="1" />
<text x="306.50" y="447.40" font-size="7.9" text-anchor="end" fill="#1a1a1a" stroke="#1a1a1a" stroke-width="0.12" transform="rotate(-45 306.50 447.40)" >WT</text>
<line x1="326.90" y1="438.10" x2="326.90" y2="440.60" stroke="#1e1e1e" stroke-width="1" />
<text x="329.90" y="447.40" font-size="7.9" text-anchor="end" fill="#1a1a1a" stroke="#1a1a1a" stroke-width="0.12" transform="rotate(-45 329.90 447.40)" >WT pRGD</text>
<line x1="350.25" y1="438.10" x2="350.25" y2="440.60" stroke="#1e1e1e" stroke-width="1" />
<text x="353.25" y="447.40" font-size="7.9" text-anchor="end" fill="#1a1a1a" stroke="#1a1a1a" stroke-width="0.12" transform="rotate(-45 353.25 447.40)" >Sell-/-</text>
<line x1="373.50" y1="438.10" x2="373.50" y2="440.60" stroke="#1e1e1e" stroke-width="1" />
<text x="376.50" y="447.40" font-size="7.9" text-anchor="end" fill="#1a1a1a" stroke="#1a1a1a" stroke-width="0.12" transform="rotate(-45 376.50 447.40)" >Sell-/- pRGD</text>
<line x1="303.75" y1="377.00" x2="326.25" y2="377.00" stroke="#4a4a4a" stroke-width="1.3" />
<circle cx="313.32" cy="373.60" r="1.05" fill="#1a1a1a"/>
<circle cx="316.68" cy="373.60" r="1.05" fill="#1a1a1a"/>
<line x1="327.00" y1="373.25" x2="371.25" y2="373.25" stroke="#4a4a4a" stroke-width="1.3" />
<circle cx="349.12" cy="369.85" r="1.05" fill="#1a1a1a"/>
<text x="276.20" y="406.80" font-size="9.0" text-anchor="middle" fill="#1a1a1a" stroke="#1a1a1a" stroke-width="0.1" textLength="78.00" lengthAdjust="spacingAndGlyphs" transform="rotate(-90 276.20 406.80)" >Relative density (x-fold)</text>
<text x="399.40" y="351.20" font-size="12" text-anchor="start" fill="#111" font-weight="bold" stroke="#111" stroke-width="0.5" textLength="2.80" lengthAdjust="spacingAndGlyphs" >I</text>
<text x="458.75" y="362.70" font-size="9.8" text-anchor="start" fill="#1a1a1a" stroke="#1a1a1a" stroke-width="0.08" textLength="15.00" lengthAdjust="spacingAndGlyphs" >Akt</text>
<rect x="423.25" y="431.20" width="15.50" height="7.20" fill="#a8002c" />
<rect x="446.75" y="394.44" width="15.75" height="43.96" fill="#a8002c" />
<line x1="454.62" y1="394.44" x2="454.62" y2="386.48" stroke="#222" stroke-width="1.25" />
<line x1="451.88" y1="386.48" x2="457.38" y2="386.48" stroke="#222" stroke-width="1.25" />
<rect x="470.00" y="428.17" width="15.50" height="10.23" fill="#284a8a" />
<line x1="477.75" y1="428.17" x2="477.75" y2="426.27" stroke="#222" stroke-width="1.25" />
<line x1="475.00" y1="426.27" x2="480.50" y2="426.27" stroke="#222" stroke-width="1.25" />
<rect x="493.25" y="428.17" width="15.50" height="10.23" fill="#284a8a" />
<line x1="501.00" y1="428.17" x2="501.00" y2="426.27" stroke="#222" stroke-width="1.25" />
<line x1="498.25" y1="426.27" x2="503.75" y2="426.27" stroke="#222" stroke-width="1.25" />
<line x1="419.50" y1="374.96" x2="419.50" y2="438.90" stroke="#111" stroke-width="1.2" />
<line x1="419.00" y1="438.40" x2="512.50" y2="438.40" stroke="#1e1e1e" stroke-width="1.2" />
<line x1="416.50" y1="438.40" x2="419.50" y2="438.40" stroke="#1e1e1e" stroke-width="1" />
<text x="412.90" y="441.30" font-size="8.0" text-anchor="end" fill="#1a1a1a" stroke="#1a1a1a" stroke-width="0.1" textLength="4.20" lengthAdjust="spacingAndGlyphs" >0</text>
<line x1="416.50" y1="423.24" x2="419.50" y2="423.24" stroke="#1e1e1e" stroke-width="1" />
<text x="412.90" y="426.14" font-size="8.0" text-anchor="end" fill="#1a1a1a" stroke="#1a1a1a" stroke-width="0.1" textLength="4.20" lengthAdjust="spacingAndGlyphs" >2</text>
<line x1="416.50" y1="408.08" x2="419.50" y2="408.08" stroke="#1e1e1e" stroke-width="1" />
<text x="412.90" y="410.98" font-size="8.0" text-anchor="end" fill="#1a1a1a" stroke="#1a1a1a" stroke-width="0.1" textLength="4.20" lengthAdjust="spacingAndGlyphs" >4</text>
<line x1="416.50" y1="392.92" x2="419.50" y2="392.92" stroke="#1e1e1e" stroke-width="1" />
<text x="412.90" y="395.82" font-size="8.0" text-anchor="end" fill="#1a1a1a" stroke="#1a1a1a" stroke-width="0.1" textLength="4.20" lengthAdjust="spacingAndGlyphs" >6</text>
<line x1="416.50" y1="377.76" x2="419.50" y2="377.76" stroke="#1e1e1e" stroke-width="1" />
<text x="412.90" y="380.66" font-size="8.0" text-anchor="end" fill="#1a1a1a" stroke="#1a1a1a" stroke-width="0.1" textLength="4.20" lengthAdjust="spacingAndGlyphs" >8</text>
<line x1="431.00" y1="438.40" x2="431.00" y2="440.90" stroke="#1e1e1e" stroke-width="1" />
<text x="434.00" y="447.70" font-size="7.9" text-anchor="end" fill="#1a1a1a" stroke="#1a1a1a" stroke-width="0.12" transform="rotate(-45 434.00 447.70)" >WT</text>
<line x1="454.62" y1="438.40" x2="454.62" y2="440.90" stroke="#1e1e1e" stroke-width="1" />
<text x="457.62" y="447.70" font-size="7.9" text-anchor="end" fill="#1a1a1a" stroke="#1a1a1a" stroke-width="0.12" transform="rotate(-45 457.62 447.70)" >WT pRGD</text>
<line x1="477.75" y1="438.40" x2="477.75" y2="440.90" stroke="#1e1e1e" stroke-width="1" />
<text x="480.75" y="447.70" font-size="7.9" text-anchor="end" fill="#1a1a1a" stroke="#1a1a1a" stroke-width="0.12" transform="rotate(-45 480.75 447.70)" >Sell-/-</text>
<line x1="501.00" y1="438.40" x2="501.00" y2="440.90" stroke="#1e1e1e" stroke-width="1" />
<text x="504.00" y="447.70" font-size="7.9" text-anchor="end" fill="#1a1a1a" stroke="#1a1a1a" stroke-width="0.12" transform="rotate(-45 504.00 447.70)" >Sell-/- pRGD</text>
<line x1="430.00" y1="383.00" x2="452.50" y2="383.00" stroke="#4a4a4a" stroke-width="1.3" />
<circle cx="437.90" cy="379.60" r="1.05" fill="#1a1a1a"/>
<circle cx="441.25" cy="379.60" r="1.05" fill="#1a1a1a"/>
<circle cx="444.60" cy="379.60" r="1.05" fill="#1a1a1a"/>
<line x1="454.50" y1="378.00" x2="499.50" y2="378.00" stroke="#4a4a4a" stroke-width="1.3" />
<circle cx="473.65" cy="374.60" r="1.05" fill="#1a1a1a"/>
<circle cx="477.00" cy="374.60" r="1.05" fill="#1a1a1a"/>
<circle cx="480.35" cy="374.60" r="1.05" fill="#1a1a1a"/>
<text x="404.20" y="406.80" font-size="9.0" text-anchor="middle" fill="#1a1a1a" stroke="#1a1a1a" stroke-width="0.1" textLength="78.00" lengthAdjust="spacingAndGlyphs" transform="rotate(-90 404.20 406.80)" >Relative density (x-fold)</text>
<rect x="0.55" y="0.55" width="518.85" height="486.85" fill="none" stroke="#000" stroke-width="1.3"/>
</svg>
</body></html>
